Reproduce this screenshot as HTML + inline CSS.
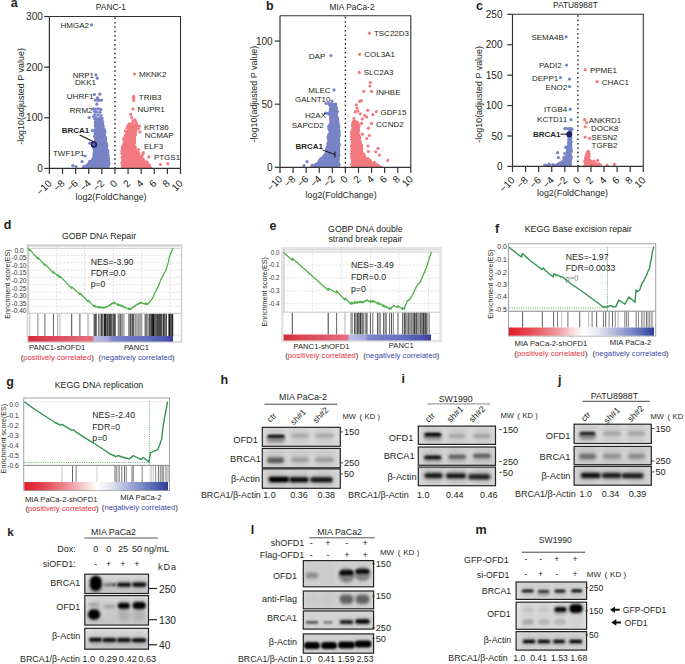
<!DOCTYPE html><html><head><meta charset="utf-8"><style>html,body{margin:0;padding:0;background:#fff;overflow:hidden}svg{display:block}</style></head><body><svg width="685" height="664" viewBox="0 0 685 664">
<defs><filter id="bl1" x="-50%" y="-100%" width="200%" height="300%"><feGaussianBlur stdDeviation="0.9"/></filter><filter id="bl2" x="-50%" y="-100%" width="200%" height="300%"><feGaussianBlur stdDeviation="1.6"/></filter><filter id="bl3" x="-50%" y="-100%" width="200%" height="300%"><feGaussianBlur stdDeviation="2.5"/></filter></defs>
<rect x="0.00" y="0.00" width="685.00" height="664.00" fill="#ffffff" stroke="none" stroke-width="1" />
<text x="10.80" y="7.20" font-size="12.5" text-anchor="start" fill="#231f20" font-weight="bold" font-family="Liberation Sans" >a</text>
<polygon points="95.20,120.00 94.70,124.50 94.70,130.50 94.00,136.50 94.20,142.50 93.20,149.50 93.20,155.50 89.20,162.00 82.20,167.00 80.20,168.90 109.60,168.90 109.60,167.00 109.20,162.00 108.80,155.50 108.10,149.50 107.10,142.50 106.10,136.50 105.10,130.50 103.60,124.50 102.60,120.00" fill="#7884c6"/>
<circle cx="96.17" cy="135.14" r="1.6" fill="#7884c6"/>
<circle cx="94.64" cy="150.94" r="1.6" fill="#7884c6"/>
<circle cx="98.90" cy="145.38" r="1.6" fill="#7884c6"/>
<circle cx="99.11" cy="122.30" r="1.6" fill="#7884c6"/>
<circle cx="98.52" cy="121.31" r="1.6" fill="#7884c6"/>
<circle cx="95.93" cy="122.87" r="1.6" fill="#7884c6"/>
<circle cx="104.32" cy="140.00" r="1.6" fill="#7884c6"/>
<circle cx="96.99" cy="125.48" r="1.6" fill="#7884c6"/>
<circle cx="107.05" cy="149.81" r="1.6" fill="#7884c6"/>
<circle cx="99.24" cy="147.37" r="1.6" fill="#7884c6"/>
<circle cx="83.69" cy="166.65" r="1.6" fill="#7884c6"/>
<circle cx="95.39" cy="160.96" r="1.6" fill="#7884c6"/>
<circle cx="96.13" cy="126.47" r="1.6" fill="#7884c6"/>
<circle cx="103.44" cy="134.40" r="1.6" fill="#7884c6"/>
<circle cx="100.43" cy="128.23" r="1.6" fill="#7884c6"/>
<circle cx="98.91" cy="150.36" r="1.6" fill="#7884c6"/>
<circle cx="94.87" cy="145.96" r="1.6" fill="#7884c6"/>
<circle cx="96.84" cy="122.38" r="1.6" fill="#7884c6"/>
<circle cx="99.80" cy="152.36" r="1.6" fill="#7884c6"/>
<circle cx="100.95" cy="134.67" r="1.6" fill="#7884c6"/>
<circle cx="98.18" cy="141.39" r="1.6" fill="#7884c6"/>
<circle cx="103.54" cy="157.87" r="1.6" fill="#7884c6"/>
<circle cx="100.67" cy="131.29" r="1.6" fill="#7884c6"/>
<circle cx="105.50" cy="144.87" r="1.6" fill="#7884c6"/>
<circle cx="97.85" cy="154.73" r="1.6" fill="#7884c6"/>
<circle cx="85.42" cy="166.84" r="1.6" fill="#7884c6"/>
<circle cx="103.45" cy="139.70" r="1.6" fill="#7884c6"/>
<circle cx="99.41" cy="126.84" r="1.6" fill="#7884c6"/>
<circle cx="100.22" cy="121.39" r="1.6" fill="#7884c6"/>
<circle cx="101.76" cy="156.43" r="1.6" fill="#7884c6"/>
<circle cx="95.36" cy="161.79" r="1.6" fill="#7884c6"/>
<circle cx="102.26" cy="153.08" r="1.6" fill="#7884c6"/>
<circle cx="100.05" cy="147.51" r="1.6" fill="#7884c6"/>
<circle cx="107.70" cy="160.07" r="1.6" fill="#7884c6"/>
<circle cx="102.65" cy="142.40" r="1.6" fill="#7884c6"/>
<circle cx="100.59" cy="122.43" r="1.6" fill="#7884c6"/>
<circle cx="107.81" cy="150.76" r="1.6" fill="#7884c6"/>
<circle cx="96.04" cy="159.20" r="1.6" fill="#7884c6"/>
<circle cx="102.22" cy="138.13" r="1.6" fill="#7884c6"/>
<circle cx="98.69" cy="120.59" r="1.6" fill="#7884c6"/>
<circle cx="96.15" cy="127.62" r="1.6" fill="#7884c6"/>
<circle cx="101.08" cy="122.35" r="1.6" fill="#7884c6"/>
<circle cx="97.21" cy="125.75" r="1.6" fill="#7884c6"/>
<circle cx="104.60" cy="138.38" r="1.6" fill="#7884c6"/>
<circle cx="98.71" cy="123.39" r="1.6" fill="#7884c6"/>
<circle cx="105.73" cy="146.04" r="1.6" fill="#7884c6"/>
<circle cx="106.26" cy="159.07" r="1.6" fill="#7884c6"/>
<circle cx="99.09" cy="132.95" r="1.6" fill="#7884c6"/>
<circle cx="104.52" cy="136.83" r="1.6" fill="#7884c6"/>
<circle cx="87.49" cy="165.76" r="1.6" fill="#7884c6"/>
<circle cx="97.21" cy="128.01" r="1.6" fill="#7884c6"/>
<circle cx="99.77" cy="130.77" r="1.6" fill="#7884c6"/>
<circle cx="97.38" cy="147.95" r="1.6" fill="#7884c6"/>
<circle cx="98.37" cy="119.70" r="1.6" fill="#7884c6"/>
<circle cx="100.94" cy="137.33" r="1.6" fill="#7884c6"/>
<circle cx="101.33" cy="165.53" r="1.6" fill="#7884c6"/>
<circle cx="102.15" cy="144.40" r="1.6" fill="#7884c6"/>
<circle cx="94.38" cy="152.16" r="1.6" fill="#7884c6"/>
<circle cx="104.22" cy="162.95" r="1.6" fill="#7884c6"/>
<circle cx="104.87" cy="161.74" r="1.6" fill="#7884c6"/>
<circle cx="99.12" cy="138.45" r="1.6" fill="#7884c6"/>
<circle cx="100.32" cy="124.50" r="1.6" fill="#7884c6"/>
<circle cx="95.78" cy="122.51" r="1.6" fill="#7884c6"/>
<circle cx="96.64" cy="129.58" r="1.6" fill="#7884c6"/>
<circle cx="95.00" cy="135.92" r="1.6" fill="#7884c6"/>
<circle cx="96.60" cy="119.51" r="1.6" fill="#7884c6"/>
<circle cx="98.08" cy="124.40" r="1.6" fill="#7884c6"/>
<circle cx="101.59" cy="120.73" r="1.6" fill="#7884c6"/>
<circle cx="95.70" cy="149.16" r="1.6" fill="#7884c6"/>
<circle cx="98.40" cy="131.68" r="1.6" fill="#7884c6"/>
<circle cx="95.84" cy="137.09" r="1.6" fill="#7884c6"/>
<circle cx="108.61" cy="160.50" r="1.6" fill="#7884c6"/>
<circle cx="100.45" cy="142.01" r="1.6" fill="#7884c6"/>
<circle cx="95.95" cy="123.65" r="1.6" fill="#7884c6"/>
<circle cx="97.40" cy="136.05" r="1.6" fill="#7884c6"/>
<circle cx="93.69" cy="159.53" r="1.6" fill="#7884c6"/>
<circle cx="102.11" cy="120.62" r="1.6" fill="#7884c6"/>
<circle cx="96.07" cy="145.01" r="1.6" fill="#7884c6"/>
<circle cx="94.42" cy="145.74" r="1.6" fill="#7884c6"/>
<circle cx="106.85" cy="145.01" r="1.6" fill="#7884c6"/>
<circle cx="103.01" cy="161.20" r="1.6" fill="#7884c6"/>
<circle cx="98.59" cy="132.11" r="1.6" fill="#7884c6"/>
<circle cx="102.04" cy="127.57" r="1.6" fill="#7884c6"/>
<circle cx="104.28" cy="145.22" r="1.6" fill="#7884c6"/>
<circle cx="96.95" cy="135.42" r="1.6" fill="#7884c6"/>
<circle cx="108.37" cy="158.70" r="1.6" fill="#7884c6"/>
<circle cx="105.13" cy="160.68" r="1.6" fill="#7884c6"/>
<circle cx="104.09" cy="159.03" r="1.6" fill="#7884c6"/>
<circle cx="100.08" cy="130.45" r="1.6" fill="#7884c6"/>
<circle cx="94.75" cy="136.67" r="1.6" fill="#7884c6"/>
<circle cx="97.42" cy="120.85" r="1.6" fill="#7884c6"/>
<circle cx="101.91" cy="132.02" r="1.6" fill="#7884c6"/>
<circle cx="95.09" cy="165.70" r="1.6" fill="#7884c6"/>
<circle cx="108.77" cy="164.76" r="1.6" fill="#7884c6"/>
<circle cx="93.05" cy="165.63" r="1.6" fill="#7884c6"/>
<circle cx="97.27" cy="130.15" r="1.6" fill="#7884c6"/>
<circle cx="97.01" cy="129.00" r="1.6" fill="#7884c6"/>
<circle cx="106.36" cy="149.64" r="1.6" fill="#7884c6"/>
<circle cx="99.22" cy="160.09" r="1.6" fill="#7884c6"/>
<circle cx="105.07" cy="151.04" r="1.6" fill="#7884c6"/>
<circle cx="100.41" cy="123.59" r="1.6" fill="#7884c6"/>
<circle cx="104.15" cy="163.44" r="1.6" fill="#7884c6"/>
<circle cx="100.46" cy="155.73" r="1.6" fill="#7884c6"/>
<circle cx="102.31" cy="128.12" r="1.6" fill="#7884c6"/>
<circle cx="103.40" cy="135.56" r="1.6" fill="#7884c6"/>
<circle cx="93.19" cy="166.43" r="1.6" fill="#7884c6"/>
<circle cx="105.56" cy="138.89" r="1.6" fill="#7884c6"/>
<circle cx="96.11" cy="154.51" r="1.6" fill="#7884c6"/>
<circle cx="96.39" cy="125.64" r="1.6" fill="#7884c6"/>
<circle cx="104.73" cy="163.20" r="1.6" fill="#7884c6"/>
<circle cx="102.32" cy="126.56" r="1.6" fill="#7884c6"/>
<circle cx="99.96" cy="166.85" r="1.6" fill="#7884c6"/>
<circle cx="100.65" cy="136.42" r="1.6" fill="#7884c6"/>
<circle cx="95.22" cy="125.83" r="1.6" fill="#7884c6"/>
<circle cx="99.93" cy="166.39" r="1.6" fill="#7884c6"/>
<circle cx="106.26" cy="144.93" r="1.6" fill="#7884c6"/>
<circle cx="104.92" cy="140.45" r="1.6" fill="#7884c6"/>
<circle cx="94.64" cy="159.40" r="1.6" fill="#7884c6"/>
<circle cx="97.86" cy="131.66" r="1.6" fill="#7884c6"/>
<circle cx="100.79" cy="131.12" r="1.6" fill="#7884c6"/>
<circle cx="99.13" cy="132.03" r="1.6" fill="#7884c6"/>
<circle cx="102.89" cy="125.83" r="1.6" fill="#7884c6"/>
<circle cx="99.63" cy="136.59" r="1.6" fill="#7884c6"/>
<circle cx="106.20" cy="147.68" r="1.6" fill="#7884c6"/>
<circle cx="105.36" cy="139.82" r="1.6" fill="#7884c6"/>
<circle cx="101.05" cy="143.73" r="1.6" fill="#7884c6"/>
<circle cx="94.44" cy="144.79" r="1.6" fill="#7884c6"/>
<circle cx="96.74" cy="140.76" r="1.6" fill="#7884c6"/>
<circle cx="100.90" cy="119.69" r="1.6" fill="#7884c6"/>
<circle cx="99.39" cy="127.82" r="1.6" fill="#7884c6"/>
<circle cx="101.81" cy="154.53" r="1.6" fill="#7884c6"/>
<circle cx="100.23" cy="135.24" r="1.6" fill="#7884c6"/>
<circle cx="104.44" cy="146.33" r="1.6" fill="#7884c6"/>
<circle cx="99.73" cy="124.63" r="1.6" fill="#7884c6"/>
<circle cx="97.70" cy="131.50" r="1.6" fill="#7884c6"/>
<circle cx="100.63" cy="156.80" r="1.6" fill="#7884c6"/>
<circle cx="104.14" cy="146.63" r="1.6" fill="#7884c6"/>
<circle cx="96.57" cy="163.57" r="1.6" fill="#7884c6"/>
<circle cx="100.73" cy="149.09" r="1.6" fill="#7884c6"/>
<circle cx="103.11" cy="144.24" r="1.6" fill="#7884c6"/>
<circle cx="100.98" cy="141.35" r="1.6" fill="#7884c6"/>
<circle cx="106.07" cy="142.59" r="1.6" fill="#7884c6"/>
<circle cx="106.40" cy="153.27" r="1.6" fill="#7884c6"/>
<circle cx="91.02" cy="165.01" r="1.6" fill="#7884c6"/>
<circle cx="106.59" cy="146.52" r="1.6" fill="#7884c6"/>
<circle cx="92.98" cy="160.07" r="1.6" fill="#7884c6"/>
<circle cx="98.83" cy="125.37" r="1.6" fill="#7884c6"/>
<circle cx="97.08" cy="123.00" r="1.6" fill="#7884c6"/>
<circle cx="100.41" cy="123.03" r="1.6" fill="#7884c6"/>
<circle cx="106.86" cy="157.36" r="1.6" fill="#7884c6"/>
<circle cx="101.43" cy="126.96" r="1.6" fill="#7884c6"/>
<circle cx="95.66" cy="151.39" r="1.6" fill="#7884c6"/>
<circle cx="108.20" cy="162.14" r="1.6" fill="#7884c6"/>
<circle cx="104.26" cy="130.11" r="1.6" fill="#7884c6"/>
<circle cx="100.17" cy="138.74" r="1.6" fill="#7884c6"/>
<circle cx="104.60" cy="167.31" r="1.6" fill="#7884c6"/>
<circle cx="98.95" cy="127.30" r="1.6" fill="#7884c6"/>
<circle cx="98.59" cy="144.40" r="1.6" fill="#7884c6"/>
<circle cx="98.07" cy="128.95" r="1.6" fill="#7884c6"/>
<circle cx="93.89" cy="154.38" r="1.6" fill="#7884c6"/>
<circle cx="99.86" cy="146.26" r="1.6" fill="#7884c6"/>
<circle cx="97.79" cy="120.37" r="1.6" fill="#7884c6"/>
<circle cx="100.86" cy="149.64" r="1.6" fill="#7884c6"/>
<circle cx="102.78" cy="122.61" r="1.6" fill="#7884c6"/>
<circle cx="108.09" cy="157.58" r="1.6" fill="#7884c6"/>
<circle cx="97.29" cy="124.56" r="1.6" fill="#7884c6"/>
<circle cx="101.03" cy="121.41" r="1.6" fill="#7884c6"/>
<circle cx="96.14" cy="132.56" r="1.6" fill="#7884c6"/>
<circle cx="105.30" cy="139.89" r="1.6" fill="#7884c6"/>
<circle cx="95.64" cy="159.06" r="1.6" fill="#7884c6"/>
<circle cx="103.17" cy="126.71" r="1.6" fill="#7884c6"/>
<circle cx="103.36" cy="147.06" r="1.6" fill="#7884c6"/>
<circle cx="95.58" cy="123.82" r="1.6" fill="#7884c6"/>
<circle cx="99.78" cy="152.74" r="1.6" fill="#7884c6"/>
<circle cx="102.50" cy="123.00" r="1.6" fill="#7884c6"/>
<circle cx="105.01" cy="150.14" r="1.6" fill="#7884c6"/>
<circle cx="101.96" cy="123.54" r="1.6" fill="#7884c6"/>
<circle cx="101.86" cy="122.72" r="1.6" fill="#7884c6"/>
<circle cx="98.66" cy="141.42" r="1.6" fill="#7884c6"/>
<circle cx="106.33" cy="146.21" r="1.6" fill="#7884c6"/>
<circle cx="96.15" cy="132.44" r="1.6" fill="#7884c6"/>
<circle cx="97.26" cy="144.95" r="1.6" fill="#7884c6"/>
<circle cx="96.44" cy="124.79" r="1.6" fill="#7884c6"/>
<circle cx="96.82" cy="121.93" r="1.6" fill="#7884c6"/>
<circle cx="97.89" cy="134.57" r="1.6" fill="#7884c6"/>
<circle cx="97.40" cy="156.18" r="1.6" fill="#7884c6"/>
<circle cx="96.60" cy="143.65" r="1.6" fill="#7884c6"/>
<circle cx="94.61" cy="136.26" r="1.6" fill="#7884c6"/>
<circle cx="95.07" cy="131.60" r="1.6" fill="#7884c6"/>
<circle cx="101.75" cy="154.91" r="1.6" fill="#7884c6"/>
<circle cx="99.50" cy="128.65" r="1.6" fill="#7884c6"/>
<circle cx="87.73" cy="164.64" r="1.6" fill="#7884c6"/>
<circle cx="98.69" cy="159.05" r="1.6" fill="#7884c6"/>
<circle cx="104.83" cy="143.41" r="1.6" fill="#7884c6"/>
<circle cx="100.38" cy="138.49" r="1.6" fill="#7884c6"/>
<circle cx="107.88" cy="152.72" r="1.6" fill="#7884c6"/>
<circle cx="103.81" cy="136.05" r="1.6" fill="#7884c6"/>
<circle cx="102.91" cy="153.63" r="1.6" fill="#7884c6"/>
<circle cx="98.57" cy="139.05" r="1.6" fill="#7884c6"/>
<circle cx="96.28" cy="122.13" r="1.6" fill="#7884c6"/>
<circle cx="100.95" cy="122.92" r="1.6" fill="#7884c6"/>
<circle cx="96.54" cy="131.85" r="1.6" fill="#7884c6"/>
<circle cx="101.84" cy="123.58" r="1.6" fill="#7884c6"/>
<circle cx="102.46" cy="161.55" r="1.6" fill="#7884c6"/>
<circle cx="97.28" cy="133.12" r="1.6" fill="#7884c6"/>
<circle cx="99.56" cy="133.65" r="1.6" fill="#7884c6"/>
<circle cx="99.06" cy="127.11" r="1.6" fill="#7884c6"/>
<circle cx="104.68" cy="132.21" r="1.6" fill="#7884c6"/>
<circle cx="97.17" cy="166.48" r="1.6" fill="#7884c6"/>
<circle cx="104.58" cy="131.31" r="1.6" fill="#7884c6"/>
<circle cx="98.45" cy="134.45" r="1.6" fill="#7884c6"/>
<circle cx="98.12" cy="119.55" r="1.6" fill="#7884c6"/>
<circle cx="100.68" cy="142.43" r="1.6" fill="#7884c6"/>
<circle cx="99.85" cy="129.21" r="1.6" fill="#7884c6"/>
<circle cx="97.34" cy="119.74" r="1.6" fill="#7884c6"/>
<circle cx="98.33" cy="123.84" r="1.6" fill="#7884c6"/>
<circle cx="95.54" cy="121.51" r="1.6" fill="#7884c6"/>
<circle cx="97.12" cy="134.20" r="1.6" fill="#7884c6"/>
<circle cx="101.05" cy="147.78" r="1.6" fill="#7884c6"/>
<circle cx="103.20" cy="155.75" r="1.6" fill="#7884c6"/>
<circle cx="106.52" cy="154.08" r="1.6" fill="#7884c6"/>
<circle cx="98.26" cy="138.31" r="1.6" fill="#7884c6"/>
<circle cx="86.07" cy="167.06" r="1.6" fill="#7884c6"/>
<circle cx="103.08" cy="154.48" r="1.6" fill="#7884c6"/>
<circle cx="101.47" cy="121.61" r="1.6" fill="#7884c6"/>
<circle cx="101.14" cy="162.58" r="1.6" fill="#7884c6"/>
<circle cx="105.62" cy="154.95" r="1.6" fill="#7884c6"/>
<circle cx="99.63" cy="126.23" r="1.6" fill="#7884c6"/>
<circle cx="104.88" cy="143.86" r="1.6" fill="#7884c6"/>
<circle cx="105.64" cy="158.37" r="1.6" fill="#7884c6"/>
<circle cx="106.04" cy="147.71" r="1.6" fill="#7884c6"/>
<circle cx="103.66" cy="152.48" r="1.6" fill="#7884c6"/>
<circle cx="95.33" cy="130.61" r="1.6" fill="#7884c6"/>
<circle cx="98.20" cy="125.93" r="1.6" fill="#7884c6"/>
<circle cx="101.99" cy="124.57" r="1.6" fill="#7884c6"/>
<circle cx="102.36" cy="146.48" r="1.6" fill="#7884c6"/>
<circle cx="103.26" cy="149.75" r="1.6" fill="#7884c6"/>
<circle cx="94.48" cy="143.13" r="1.6" fill="#7884c6"/>
<circle cx="104.34" cy="158.03" r="1.6" fill="#7884c6"/>
<circle cx="101.09" cy="143.79" r="1.6" fill="#7884c6"/>
<circle cx="94.55" cy="151.34" r="1.6" fill="#7884c6"/>
<circle cx="97.29" cy="155.09" r="1.6" fill="#7884c6"/>
<circle cx="97.27" cy="123.10" r="1.6" fill="#7884c6"/>
<circle cx="96.63" cy="154.73" r="1.6" fill="#7884c6"/>
<circle cx="108.05" cy="155.23" r="1.6" fill="#7884c6"/>
<circle cx="99.18" cy="143.36" r="1.6" fill="#7884c6"/>
<circle cx="102.91" cy="142.64" r="1.6" fill="#7884c6"/>
<circle cx="102.43" cy="156.54" r="1.6" fill="#7884c6"/>
<circle cx="94.71" cy="150.55" r="1.6" fill="#7884c6"/>
<circle cx="97.32" cy="126.62" r="1.6" fill="#7884c6"/>
<circle cx="97.94" cy="155.40" r="1.6" fill="#7884c6"/>
<circle cx="94.07" cy="146.92" r="1.6" fill="#7884c6"/>
<circle cx="97.31" cy="122.43" r="1.6" fill="#7884c6"/>
<circle cx="103.60" cy="151.96" r="1.6" fill="#7884c6"/>
<circle cx="97.81" cy="152.14" r="1.6" fill="#7884c6"/>
<circle cx="100.20" cy="144.45" r="1.6" fill="#7884c6"/>
<circle cx="96.03" cy="142.02" r="1.6" fill="#7884c6"/>
<circle cx="92.14" cy="162.66" r="1.6" fill="#7884c6"/>
<circle cx="107.49" cy="166.74" r="1.6" fill="#7884c6"/>
<circle cx="98.66" cy="120.35" r="1.6" fill="#7884c6"/>
<circle cx="108.09" cy="159.10" r="1.6" fill="#7884c6"/>
<circle cx="97.80" cy="141.21" r="1.6" fill="#7884c6"/>
<circle cx="104.09" cy="129.64" r="1.6" fill="#7884c6"/>
<circle cx="100.64" cy="129.68" r="1.6" fill="#7884c6"/>
<circle cx="99.65" cy="126.35" r="1.6" fill="#7884c6"/>
<circle cx="87.31" cy="165.52" r="1.6" fill="#7884c6"/>
<circle cx="100.01" cy="159.12" r="1.6" fill="#7884c6"/>
<circle cx="102.80" cy="162.34" r="1.6" fill="#7884c6"/>
<circle cx="103.81" cy="130.68" r="1.6" fill="#7884c6"/>
<circle cx="94.77" cy="142.98" r="1.6" fill="#7884c6"/>
<circle cx="98.85" cy="119.67" r="1.6" fill="#7884c6"/>
<circle cx="98.20" cy="141.27" r="1.6" fill="#7884c6"/>
<circle cx="98.08" cy="126.30" r="1.6" fill="#7884c6"/>
<circle cx="103.74" cy="134.77" r="1.6" fill="#7884c6"/>
<circle cx="100.57" cy="119.58" r="1.6" fill="#7884c6"/>
<circle cx="92.69" cy="160.03" r="1.6" fill="#7884c6"/>
<circle cx="102.34" cy="164.25" r="1.6" fill="#7884c6"/>
<circle cx="93.66" cy="163.05" r="1.6" fill="#7884c6"/>
<circle cx="98.97" cy="137.48" r="1.6" fill="#7884c6"/>
<circle cx="97.74" cy="167.74" r="1.6" fill="#7884c6"/>
<circle cx="99.32" cy="136.92" r="1.6" fill="#7884c6"/>
<circle cx="95.28" cy="132.79" r="1.6" fill="#7884c6"/>
<circle cx="101.95" cy="124.41" r="1.6" fill="#7884c6"/>
<circle cx="104.57" cy="133.30" r="1.6" fill="#7884c6"/>
<circle cx="97.59" cy="131.54" r="1.6" fill="#7884c6"/>
<circle cx="96.70" cy="144.18" r="1.6" fill="#7884c6"/>
<circle cx="105.45" cy="137.53" r="1.6" fill="#7884c6"/>
<circle cx="105.05" cy="162.21" r="1.6" fill="#7884c6"/>
<circle cx="106.58" cy="149.97" r="1.6" fill="#7884c6"/>
<circle cx="98.13" cy="164.94" r="1.6" fill="#7884c6"/>
<circle cx="94.33" cy="154.26" r="1.6" fill="#7884c6"/>
<circle cx="100.27" cy="154.87" r="1.6" fill="#7884c6"/>
<circle cx="102.99" cy="155.85" r="1.6" fill="#7884c6"/>
<circle cx="95.23" cy="133.32" r="1.6" fill="#7884c6"/>
<circle cx="88.70" cy="164.26" r="1.6" fill="#7884c6"/>
<circle cx="98.74" cy="142.31" r="1.6" fill="#7884c6"/>
<circle cx="102.55" cy="133.88" r="1.6" fill="#7884c6"/>
<circle cx="89.40" cy="166.66" r="1.6" fill="#7884c6"/>
<circle cx="97.92" cy="151.18" r="1.6" fill="#7884c6"/>
<circle cx="99.24" cy="146.42" r="1.6" fill="#7884c6"/>
<circle cx="96.55" cy="127.58" r="1.6" fill="#7884c6"/>
<circle cx="103.69" cy="129.54" r="1.6" fill="#7884c6"/>
<circle cx="97.14" cy="143.51" r="1.6" fill="#7884c6"/>
<circle cx="108.86" cy="163.27" r="1.6" fill="#7884c6"/>
<circle cx="96.25" cy="141.23" r="1.6" fill="#7884c6"/>
<circle cx="95.94" cy="128.79" r="1.6" fill="#7884c6"/>
<circle cx="95.43" cy="136.02" r="1.6" fill="#7884c6"/>
<circle cx="97.53" cy="131.05" r="1.6" fill="#7884c6"/>
<circle cx="105.89" cy="147.01" r="1.6" fill="#7884c6"/>
<circle cx="99.47" cy="155.71" r="1.6" fill="#7884c6"/>
<circle cx="100.68" cy="139.49" r="1.6" fill="#7884c6"/>
<circle cx="98.36" cy="137.70" r="1.6" fill="#7884c6"/>
<circle cx="97.38" cy="122.50" r="1.6" fill="#7884c6"/>
<circle cx="86.26" cy="166.24" r="1.6" fill="#7884c6"/>
<circle cx="102.29" cy="143.81" r="1.6" fill="#7884c6"/>
<circle cx="93.90" cy="161.18" r="1.6" fill="#7884c6"/>
<circle cx="97.37" cy="132.59" r="1.6" fill="#7884c6"/>
<circle cx="99.70" cy="138.81" r="1.6" fill="#7884c6"/>
<circle cx="105.31" cy="165.58" r="1.6" fill="#7884c6"/>
<circle cx="89.80" cy="161.66" r="1.6" fill="#7884c6"/>
<circle cx="100.48" cy="121.06" r="1.6" fill="#7884c6"/>
<circle cx="97.80" cy="162.76" r="1.6" fill="#7884c6"/>
<circle cx="93.77" cy="147.86" r="1.6" fill="#7884c6"/>
<circle cx="105.25" cy="138.41" r="1.6" fill="#7884c6"/>
<circle cx="106.10" cy="159.38" r="1.6" fill="#7884c6"/>
<circle cx="89.25" cy="166.46" r="1.6" fill="#7884c6"/>
<circle cx="96.38" cy="124.77" r="1.6" fill="#7884c6"/>
<circle cx="103.00" cy="144.73" r="1.6" fill="#7884c6"/>
<circle cx="102.30" cy="164.97" r="1.6" fill="#7884c6"/>
<circle cx="104.54" cy="150.77" r="1.6" fill="#7884c6"/>
<circle cx="101.23" cy="141.59" r="1.6" fill="#7884c6"/>
<circle cx="101.05" cy="121.41" r="1.6" fill="#7884c6"/>
<circle cx="91.40" cy="24.80" r="1.6" fill="#7884c6"/>
<circle cx="95.90" cy="74.90" r="1.6" fill="#7884c6"/>
<circle cx="97.30" cy="78.20" r="1.6" fill="#7884c6"/>
<circle cx="94.30" cy="94.60" r="1.6" fill="#7884c6"/>
<circle cx="99.80" cy="94.20" r="1.6" fill="#7884c6"/>
<circle cx="97.50" cy="97.80" r="1.6" fill="#7884c6"/>
<circle cx="95.50" cy="100.10" r="1.6" fill="#7884c6"/>
<circle cx="97.50" cy="100.10" r="1.6" fill="#7884c6"/>
<circle cx="99.50" cy="100.30" r="1.6" fill="#7884c6"/>
<circle cx="101.50" cy="100.10" r="1.6" fill="#7884c6"/>
<circle cx="96.90" cy="104.20" r="1.6" fill="#7884c6"/>
<circle cx="93.50" cy="109.00" r="1.6" fill="#7884c6"/>
<circle cx="95.50" cy="109.00" r="1.6" fill="#7884c6"/>
<circle cx="97.50" cy="108.80" r="1.6" fill="#7884c6"/>
<circle cx="99.50" cy="109.00" r="1.6" fill="#7884c6"/>
<circle cx="101.00" cy="109.50" r="1.6" fill="#7884c6"/>
<circle cx="94.50" cy="111.50" r="1.6" fill="#7884c6"/>
<circle cx="97.00" cy="112.00" r="1.6" fill="#7884c6"/>
<circle cx="100.00" cy="112.30" r="1.6" fill="#7884c6"/>
<circle cx="95.00" cy="114.50" r="1.6" fill="#7884c6"/>
<circle cx="98.00" cy="115.00" r="1.6" fill="#7884c6"/>
<circle cx="101.00" cy="115.50" r="1.6" fill="#7884c6"/>
<circle cx="93.50" cy="116.50" r="1.6" fill="#7884c6"/>
<circle cx="96.00" cy="117.50" r="1.6" fill="#7884c6"/>
<circle cx="99.50" cy="118.00" r="1.6" fill="#7884c6"/>
<circle cx="102.00" cy="118.30" r="1.6" fill="#7884c6"/>
<circle cx="94.80" cy="119.00" r="1.6" fill="#7884c6"/>
<circle cx="97.80" cy="119.50" r="1.6" fill="#7884c6"/>
<circle cx="101.00" cy="120.00" r="1.6" fill="#7884c6"/>
<circle cx="89.20" cy="117.60" r="1.6" fill="#7884c6"/>
<circle cx="92.40" cy="130.40" r="1.6" fill="#7884c6"/>
<circle cx="89.80" cy="143.20" r="1.6" fill="#7884c6"/>
<circle cx="85.10" cy="156.00" r="1.6" fill="#7884c6"/>
<circle cx="82.10" cy="161.70" r="1.6" fill="#7884c6"/>
<circle cx="89.80" cy="161.70" r="1.6" fill="#7884c6"/>
<circle cx="72.80" cy="165.60" r="1.6" fill="#7884c6"/>
<circle cx="76.00" cy="166.50" r="1.6" fill="#7884c6"/>
<polygon points="129.20,126.50 128.20,130.50 125.20,134.90 123.20,139.70 122.20,144.50 121.20,149.50 121.20,154.50 121.20,159.50 121.20,164.20 121.20,168.90 153.80,168.90 148.80,164.20 143.80,159.50 139.80,154.50 136.80,149.50 135.30,144.50 135.30,139.70 135.80,134.90 136.30,130.50 136.80,126.50" fill="#f27a7f"/>
<circle cx="134.44" cy="135.72" r="1.6" fill="#f27a7f"/>
<circle cx="126.82" cy="152.98" r="1.6" fill="#f27a7f"/>
<circle cx="129.71" cy="131.35" r="1.6" fill="#f27a7f"/>
<circle cx="133.45" cy="152.60" r="1.6" fill="#f27a7f"/>
<circle cx="128.67" cy="130.69" r="1.6" fill="#f27a7f"/>
<circle cx="130.13" cy="147.92" r="1.6" fill="#f27a7f"/>
<circle cx="125.64" cy="142.22" r="1.6" fill="#f27a7f"/>
<circle cx="121.77" cy="151.12" r="1.6" fill="#f27a7f"/>
<circle cx="128.97" cy="138.60" r="1.6" fill="#f27a7f"/>
<circle cx="140.51" cy="166.08" r="1.6" fill="#f27a7f"/>
<circle cx="133.95" cy="162.94" r="1.6" fill="#f27a7f"/>
<circle cx="127.54" cy="135.81" r="1.6" fill="#f27a7f"/>
<circle cx="142.32" cy="166.15" r="1.6" fill="#f27a7f"/>
<circle cx="123.99" cy="138.85" r="1.6" fill="#f27a7f"/>
<circle cx="131.28" cy="146.83" r="1.6" fill="#f27a7f"/>
<circle cx="125.83" cy="143.56" r="1.6" fill="#f27a7f"/>
<circle cx="138.01" cy="153.90" r="1.6" fill="#f27a7f"/>
<circle cx="125.50" cy="135.48" r="1.6" fill="#f27a7f"/>
<circle cx="128.24" cy="140.13" r="1.6" fill="#f27a7f"/>
<circle cx="125.21" cy="154.53" r="1.6" fill="#f27a7f"/>
<circle cx="137.96" cy="159.32" r="1.6" fill="#f27a7f"/>
<circle cx="124.82" cy="147.10" r="1.6" fill="#f27a7f"/>
<circle cx="130.90" cy="166.54" r="1.6" fill="#f27a7f"/>
<circle cx="126.94" cy="160.28" r="1.6" fill="#f27a7f"/>
<circle cx="132.90" cy="135.26" r="1.6" fill="#f27a7f"/>
<circle cx="134.46" cy="138.33" r="1.6" fill="#f27a7f"/>
<circle cx="124.61" cy="146.72" r="1.6" fill="#f27a7f"/>
<circle cx="129.42" cy="135.33" r="1.6" fill="#f27a7f"/>
<circle cx="138.38" cy="153.81" r="1.6" fill="#f27a7f"/>
<circle cx="130.50" cy="132.12" r="1.6" fill="#f27a7f"/>
<circle cx="135.09" cy="134.90" r="1.6" fill="#f27a7f"/>
<circle cx="127.72" cy="131.93" r="1.6" fill="#f27a7f"/>
<circle cx="131.77" cy="128.51" r="1.6" fill="#f27a7f"/>
<circle cx="145.13" cy="163.54" r="1.6" fill="#f27a7f"/>
<circle cx="141.45" cy="156.63" r="1.6" fill="#f27a7f"/>
<circle cx="130.86" cy="164.94" r="1.6" fill="#f27a7f"/>
<circle cx="134.87" cy="133.75" r="1.6" fill="#f27a7f"/>
<circle cx="122.25" cy="157.20" r="1.6" fill="#f27a7f"/>
<circle cx="128.29" cy="153.77" r="1.6" fill="#f27a7f"/>
<circle cx="127.01" cy="141.63" r="1.6" fill="#f27a7f"/>
<circle cx="126.53" cy="133.08" r="1.6" fill="#f27a7f"/>
<circle cx="128.03" cy="137.70" r="1.6" fill="#f27a7f"/>
<circle cx="125.21" cy="165.94" r="1.6" fill="#f27a7f"/>
<circle cx="127.73" cy="166.31" r="1.6" fill="#f27a7f"/>
<circle cx="132.82" cy="140.91" r="1.6" fill="#f27a7f"/>
<circle cx="131.65" cy="160.36" r="1.6" fill="#f27a7f"/>
<circle cx="132.43" cy="128.06" r="1.6" fill="#f27a7f"/>
<circle cx="133.95" cy="141.58" r="1.6" fill="#f27a7f"/>
<circle cx="129.33" cy="134.07" r="1.6" fill="#f27a7f"/>
<circle cx="122.40" cy="163.49" r="1.6" fill="#f27a7f"/>
<circle cx="132.62" cy="143.17" r="1.6" fill="#f27a7f"/>
<circle cx="122.46" cy="158.05" r="1.6" fill="#f27a7f"/>
<circle cx="129.67" cy="127.46" r="1.6" fill="#f27a7f"/>
<circle cx="128.70" cy="164.46" r="1.6" fill="#f27a7f"/>
<circle cx="139.92" cy="157.24" r="1.6" fill="#f27a7f"/>
<circle cx="126.53" cy="140.17" r="1.6" fill="#f27a7f"/>
<circle cx="139.67" cy="166.03" r="1.6" fill="#f27a7f"/>
<circle cx="132.13" cy="136.96" r="1.6" fill="#f27a7f"/>
<circle cx="126.71" cy="139.23" r="1.6" fill="#f27a7f"/>
<circle cx="134.71" cy="126.16" r="1.6" fill="#f27a7f"/>
<circle cx="139.00" cy="164.31" r="1.6" fill="#f27a7f"/>
<circle cx="122.29" cy="165.43" r="1.6" fill="#f27a7f"/>
<circle cx="129.89" cy="135.78" r="1.6" fill="#f27a7f"/>
<circle cx="149.49" cy="165.99" r="1.6" fill="#f27a7f"/>
<circle cx="125.98" cy="142.16" r="1.6" fill="#f27a7f"/>
<circle cx="128.67" cy="143.97" r="1.6" fill="#f27a7f"/>
<circle cx="126.72" cy="164.79" r="1.6" fill="#f27a7f"/>
<circle cx="138.13" cy="159.55" r="1.6" fill="#f27a7f"/>
<circle cx="139.59" cy="160.39" r="1.6" fill="#f27a7f"/>
<circle cx="126.92" cy="151.38" r="1.6" fill="#f27a7f"/>
<circle cx="127.67" cy="139.36" r="1.6" fill="#f27a7f"/>
<circle cx="123.30" cy="158.70" r="1.6" fill="#f27a7f"/>
<circle cx="133.02" cy="134.25" r="1.6" fill="#f27a7f"/>
<circle cx="125.47" cy="136.34" r="1.6" fill="#f27a7f"/>
<circle cx="133.10" cy="127.42" r="1.6" fill="#f27a7f"/>
<circle cx="134.68" cy="139.62" r="1.6" fill="#f27a7f"/>
<circle cx="147.26" cy="162.93" r="1.6" fill="#f27a7f"/>
<circle cx="125.38" cy="137.07" r="1.6" fill="#f27a7f"/>
<circle cx="132.23" cy="130.03" r="1.6" fill="#f27a7f"/>
<circle cx="130.15" cy="155.67" r="1.6" fill="#f27a7f"/>
<circle cx="129.29" cy="135.79" r="1.6" fill="#f27a7f"/>
<circle cx="132.76" cy="151.93" r="1.6" fill="#f27a7f"/>
<circle cx="138.89" cy="157.27" r="1.6" fill="#f27a7f"/>
<circle cx="123.74" cy="153.77" r="1.6" fill="#f27a7f"/>
<circle cx="128.68" cy="161.15" r="1.6" fill="#f27a7f"/>
<circle cx="127.28" cy="149.70" r="1.6" fill="#f27a7f"/>
<circle cx="125.60" cy="156.85" r="1.6" fill="#f27a7f"/>
<circle cx="127.34" cy="136.34" r="1.6" fill="#f27a7f"/>
<circle cx="134.62" cy="132.41" r="1.6" fill="#f27a7f"/>
<circle cx="126.66" cy="150.17" r="1.6" fill="#f27a7f"/>
<circle cx="134.81" cy="142.56" r="1.6" fill="#f27a7f"/>
<circle cx="125.18" cy="147.21" r="1.6" fill="#f27a7f"/>
<circle cx="136.39" cy="159.79" r="1.6" fill="#f27a7f"/>
<circle cx="124.75" cy="167.42" r="1.6" fill="#f27a7f"/>
<circle cx="133.06" cy="145.85" r="1.6" fill="#f27a7f"/>
<circle cx="143.61" cy="161.14" r="1.6" fill="#f27a7f"/>
<circle cx="131.24" cy="127.69" r="1.6" fill="#f27a7f"/>
<circle cx="129.42" cy="130.98" r="1.6" fill="#f27a7f"/>
<circle cx="139.07" cy="166.67" r="1.6" fill="#f27a7f"/>
<circle cx="132.04" cy="164.88" r="1.6" fill="#f27a7f"/>
<circle cx="132.92" cy="162.20" r="1.6" fill="#f27a7f"/>
<circle cx="132.79" cy="136.87" r="1.6" fill="#f27a7f"/>
<circle cx="124.64" cy="165.53" r="1.6" fill="#f27a7f"/>
<circle cx="131.49" cy="150.92" r="1.6" fill="#f27a7f"/>
<circle cx="129.00" cy="135.10" r="1.6" fill="#f27a7f"/>
<circle cx="129.01" cy="131.91" r="1.6" fill="#f27a7f"/>
<circle cx="130.96" cy="136.66" r="1.6" fill="#f27a7f"/>
<circle cx="125.13" cy="153.24" r="1.6" fill="#f27a7f"/>
<circle cx="131.73" cy="126.48" r="1.6" fill="#f27a7f"/>
<circle cx="124.95" cy="154.35" r="1.6" fill="#f27a7f"/>
<circle cx="125.95" cy="139.05" r="1.6" fill="#f27a7f"/>
<circle cx="133.69" cy="159.24" r="1.6" fill="#f27a7f"/>
<circle cx="129.66" cy="128.64" r="1.6" fill="#f27a7f"/>
<circle cx="129.51" cy="142.52" r="1.6" fill="#f27a7f"/>
<circle cx="123.15" cy="152.72" r="1.6" fill="#f27a7f"/>
<circle cx="132.86" cy="132.84" r="1.6" fill="#f27a7f"/>
<circle cx="126.21" cy="143.13" r="1.6" fill="#f27a7f"/>
<circle cx="134.41" cy="138.86" r="1.6" fill="#f27a7f"/>
<circle cx="130.04" cy="139.06" r="1.6" fill="#f27a7f"/>
<circle cx="128.10" cy="140.93" r="1.6" fill="#f27a7f"/>
<circle cx="146.64" cy="162.13" r="1.6" fill="#f27a7f"/>
<circle cx="125.49" cy="141.21" r="1.6" fill="#f27a7f"/>
<circle cx="125.62" cy="156.43" r="1.6" fill="#f27a7f"/>
<circle cx="135.70" cy="126.25" r="1.6" fill="#f27a7f"/>
<circle cx="132.70" cy="143.71" r="1.6" fill="#f27a7f"/>
<circle cx="133.48" cy="142.98" r="1.6" fill="#f27a7f"/>
<circle cx="124.45" cy="145.27" r="1.6" fill="#f27a7f"/>
<circle cx="133.24" cy="126.62" r="1.6" fill="#f27a7f"/>
<circle cx="137.13" cy="152.78" r="1.6" fill="#f27a7f"/>
<circle cx="133.19" cy="129.72" r="1.6" fill="#f27a7f"/>
<circle cx="129.06" cy="141.50" r="1.6" fill="#f27a7f"/>
<circle cx="129.58" cy="132.10" r="1.6" fill="#f27a7f"/>
<circle cx="134.98" cy="147.78" r="1.6" fill="#f27a7f"/>
<circle cx="131.96" cy="130.55" r="1.6" fill="#f27a7f"/>
<circle cx="143.34" cy="159.64" r="1.6" fill="#f27a7f"/>
<circle cx="126.93" cy="134.25" r="1.6" fill="#f27a7f"/>
<circle cx="149.53" cy="165.42" r="1.6" fill="#f27a7f"/>
<circle cx="122.88" cy="146.18" r="1.6" fill="#f27a7f"/>
<circle cx="132.41" cy="164.71" r="1.6" fill="#f27a7f"/>
<circle cx="138.29" cy="163.80" r="1.6" fill="#f27a7f"/>
<circle cx="125.34" cy="160.47" r="1.6" fill="#f27a7f"/>
<circle cx="126.41" cy="158.85" r="1.6" fill="#f27a7f"/>
<circle cx="133.05" cy="142.91" r="1.6" fill="#f27a7f"/>
<circle cx="125.91" cy="160.66" r="1.6" fill="#f27a7f"/>
<circle cx="129.31" cy="135.12" r="1.6" fill="#f27a7f"/>
<circle cx="127.29" cy="147.65" r="1.6" fill="#f27a7f"/>
<circle cx="129.78" cy="131.14" r="1.6" fill="#f27a7f"/>
<circle cx="139.22" cy="156.30" r="1.6" fill="#f27a7f"/>
<circle cx="133.12" cy="127.72" r="1.6" fill="#f27a7f"/>
<circle cx="122.39" cy="157.66" r="1.6" fill="#f27a7f"/>
<circle cx="124.42" cy="161.04" r="1.6" fill="#f27a7f"/>
<circle cx="130.42" cy="151.06" r="1.6" fill="#f27a7f"/>
<circle cx="126.72" cy="152.21" r="1.6" fill="#f27a7f"/>
<circle cx="129.80" cy="143.56" r="1.6" fill="#f27a7f"/>
<circle cx="130.72" cy="143.80" r="1.6" fill="#f27a7f"/>
<circle cx="128.00" cy="144.68" r="1.6" fill="#f27a7f"/>
<circle cx="133.64" cy="126.98" r="1.6" fill="#f27a7f"/>
<circle cx="125.29" cy="146.46" r="1.6" fill="#f27a7f"/>
<circle cx="137.93" cy="157.92" r="1.6" fill="#f27a7f"/>
<circle cx="124.68" cy="145.16" r="1.6" fill="#f27a7f"/>
<circle cx="123.66" cy="145.78" r="1.6" fill="#f27a7f"/>
<circle cx="131.14" cy="131.37" r="1.6" fill="#f27a7f"/>
<circle cx="131.86" cy="129.83" r="1.6" fill="#f27a7f"/>
<circle cx="122.50" cy="147.32" r="1.6" fill="#f27a7f"/>
<circle cx="122.99" cy="152.60" r="1.6" fill="#f27a7f"/>
<circle cx="137.10" cy="156.66" r="1.6" fill="#f27a7f"/>
<circle cx="122.68" cy="147.38" r="1.6" fill="#f27a7f"/>
<circle cx="127.21" cy="147.06" r="1.6" fill="#f27a7f"/>
<circle cx="125.55" cy="165.75" r="1.6" fill="#f27a7f"/>
<circle cx="146.31" cy="161.83" r="1.6" fill="#f27a7f"/>
<circle cx="137.80" cy="156.60" r="1.6" fill="#f27a7f"/>
<circle cx="135.26" cy="134.10" r="1.6" fill="#f27a7f"/>
<circle cx="135.08" cy="146.56" r="1.6" fill="#f27a7f"/>
<circle cx="126.13" cy="164.29" r="1.6" fill="#f27a7f"/>
<circle cx="141.85" cy="158.95" r="1.6" fill="#f27a7f"/>
<circle cx="131.42" cy="128.74" r="1.6" fill="#f27a7f"/>
<circle cx="124.88" cy="157.61" r="1.6" fill="#f27a7f"/>
<circle cx="128.90" cy="163.48" r="1.6" fill="#f27a7f"/>
<circle cx="124.90" cy="160.09" r="1.6" fill="#f27a7f"/>
<circle cx="134.69" cy="146.99" r="1.6" fill="#f27a7f"/>
<circle cx="128.07" cy="134.71" r="1.6" fill="#f27a7f"/>
<circle cx="126.40" cy="147.15" r="1.6" fill="#f27a7f"/>
<circle cx="130.49" cy="127.54" r="1.6" fill="#f27a7f"/>
<circle cx="135.03" cy="132.74" r="1.6" fill="#f27a7f"/>
<circle cx="137.83" cy="154.41" r="1.6" fill="#f27a7f"/>
<circle cx="133.61" cy="133.05" r="1.6" fill="#f27a7f"/>
<circle cx="132.17" cy="130.81" r="1.6" fill="#f27a7f"/>
<circle cx="127.70" cy="152.60" r="1.6" fill="#f27a7f"/>
<circle cx="135.76" cy="162.49" r="1.6" fill="#f27a7f"/>
<circle cx="135.32" cy="150.25" r="1.6" fill="#f27a7f"/>
<circle cx="135.80" cy="130.37" r="1.6" fill="#f27a7f"/>
<circle cx="128.22" cy="152.32" r="1.6" fill="#f27a7f"/>
<circle cx="127.47" cy="159.34" r="1.6" fill="#f27a7f"/>
<circle cx="139.35" cy="167.40" r="1.6" fill="#f27a7f"/>
<circle cx="132.15" cy="141.06" r="1.6" fill="#f27a7f"/>
<circle cx="124.72" cy="144.49" r="1.6" fill="#f27a7f"/>
<circle cx="122.58" cy="157.08" r="1.6" fill="#f27a7f"/>
<circle cx="127.47" cy="160.27" r="1.6" fill="#f27a7f"/>
<circle cx="138.36" cy="152.72" r="1.6" fill="#f27a7f"/>
<circle cx="132.02" cy="150.49" r="1.6" fill="#f27a7f"/>
<circle cx="123.67" cy="139.07" r="1.6" fill="#f27a7f"/>
<circle cx="130.29" cy="127.41" r="1.6" fill="#f27a7f"/>
<circle cx="128.71" cy="151.75" r="1.6" fill="#f27a7f"/>
<circle cx="134.47" cy="147.43" r="1.6" fill="#f27a7f"/>
<circle cx="129.42" cy="131.52" r="1.6" fill="#f27a7f"/>
<circle cx="121.99" cy="153.30" r="1.6" fill="#f27a7f"/>
<circle cx="131.99" cy="126.11" r="1.6" fill="#f27a7f"/>
<circle cx="130.99" cy="130.45" r="1.6" fill="#f27a7f"/>
<circle cx="131.09" cy="135.37" r="1.6" fill="#f27a7f"/>
<circle cx="124.82" cy="150.62" r="1.6" fill="#f27a7f"/>
<circle cx="129.51" cy="152.08" r="1.6" fill="#f27a7f"/>
<circle cx="135.19" cy="131.63" r="1.6" fill="#f27a7f"/>
<circle cx="126.40" cy="136.18" r="1.6" fill="#f27a7f"/>
<circle cx="133.26" cy="130.00" r="1.6" fill="#f27a7f"/>
<circle cx="141.50" cy="162.42" r="1.6" fill="#f27a7f"/>
<circle cx="126.03" cy="142.80" r="1.6" fill="#f27a7f"/>
<circle cx="133.90" cy="126.48" r="1.6" fill="#f27a7f"/>
<circle cx="126.89" cy="149.51" r="1.6" fill="#f27a7f"/>
<circle cx="129.23" cy="152.99" r="1.6" fill="#f27a7f"/>
<circle cx="142.41" cy="165.17" r="1.6" fill="#f27a7f"/>
<circle cx="134.19" cy="136.39" r="1.6" fill="#f27a7f"/>
<circle cx="132.88" cy="127.84" r="1.6" fill="#f27a7f"/>
<circle cx="125.69" cy="142.97" r="1.6" fill="#f27a7f"/>
<circle cx="134.52" cy="128.44" r="1.6" fill="#f27a7f"/>
<circle cx="133.25" cy="126.52" r="1.6" fill="#f27a7f"/>
<circle cx="125.66" cy="165.33" r="1.6" fill="#f27a7f"/>
<circle cx="131.58" cy="134.34" r="1.6" fill="#f27a7f"/>
<circle cx="130.88" cy="147.19" r="1.6" fill="#f27a7f"/>
<circle cx="125.59" cy="160.00" r="1.6" fill="#f27a7f"/>
<circle cx="127.08" cy="138.93" r="1.6" fill="#f27a7f"/>
<circle cx="135.37" cy="128.03" r="1.6" fill="#f27a7f"/>
<circle cx="137.04" cy="158.73" r="1.6" fill="#f27a7f"/>
<circle cx="135.30" cy="126.27" r="1.6" fill="#f27a7f"/>
<circle cx="131.05" cy="157.15" r="1.6" fill="#f27a7f"/>
<circle cx="130.74" cy="157.01" r="1.6" fill="#f27a7f"/>
<circle cx="126.23" cy="135.44" r="1.6" fill="#f27a7f"/>
<circle cx="125.45" cy="135.71" r="1.6" fill="#f27a7f"/>
<circle cx="132.03" cy="140.02" r="1.6" fill="#f27a7f"/>
<circle cx="137.36" cy="155.06" r="1.6" fill="#f27a7f"/>
<circle cx="126.71" cy="155.75" r="1.6" fill="#f27a7f"/>
<circle cx="128.09" cy="149.15" r="1.6" fill="#f27a7f"/>
<circle cx="132.99" cy="158.96" r="1.6" fill="#f27a7f"/>
<circle cx="131.31" cy="137.09" r="1.6" fill="#f27a7f"/>
<circle cx="128.03" cy="166.34" r="1.6" fill="#f27a7f"/>
<circle cx="121.99" cy="162.79" r="1.6" fill="#f27a7f"/>
<circle cx="127.06" cy="136.88" r="1.6" fill="#f27a7f"/>
<circle cx="140.75" cy="157.09" r="1.6" fill="#f27a7f"/>
<circle cx="128.25" cy="157.19" r="1.6" fill="#f27a7f"/>
<circle cx="130.09" cy="162.79" r="1.6" fill="#f27a7f"/>
<circle cx="134.28" cy="136.00" r="1.6" fill="#f27a7f"/>
<circle cx="133.25" cy="152.36" r="1.6" fill="#f27a7f"/>
<circle cx="138.91" cy="153.81" r="1.6" fill="#f27a7f"/>
<circle cx="133.29" cy="145.62" r="1.6" fill="#f27a7f"/>
<circle cx="137.66" cy="155.16" r="1.6" fill="#f27a7f"/>
<circle cx="131.56" cy="144.28" r="1.6" fill="#f27a7f"/>
<circle cx="126.31" cy="149.84" r="1.6" fill="#f27a7f"/>
<circle cx="131.60" cy="134.86" r="1.6" fill="#f27a7f"/>
<circle cx="135.35" cy="129.25" r="1.6" fill="#f27a7f"/>
<circle cx="127.43" cy="132.04" r="1.6" fill="#f27a7f"/>
<circle cx="135.31" cy="130.46" r="1.6" fill="#f27a7f"/>
<circle cx="124.99" cy="140.42" r="1.6" fill="#f27a7f"/>
<circle cx="129.59" cy="127.20" r="1.6" fill="#f27a7f"/>
<circle cx="133.37" cy="154.95" r="1.6" fill="#f27a7f"/>
<circle cx="135.38" cy="155.13" r="1.6" fill="#f27a7f"/>
<circle cx="133.13" cy="128.75" r="1.6" fill="#f27a7f"/>
<circle cx="132.76" cy="141.19" r="1.6" fill="#f27a7f"/>
<circle cx="142.22" cy="160.26" r="1.6" fill="#f27a7f"/>
<circle cx="135.11" cy="128.76" r="1.6" fill="#f27a7f"/>
<circle cx="147.43" cy="164.22" r="1.6" fill="#f27a7f"/>
<circle cx="129.83" cy="130.48" r="1.6" fill="#f27a7f"/>
<circle cx="128.40" cy="130.68" r="1.6" fill="#f27a7f"/>
<circle cx="141.41" cy="161.43" r="1.6" fill="#f27a7f"/>
<circle cx="135.55" cy="152.51" r="1.6" fill="#f27a7f"/>
<circle cx="126.44" cy="152.40" r="1.6" fill="#f27a7f"/>
<circle cx="129.20" cy="130.17" r="1.6" fill="#f27a7f"/>
<circle cx="125.85" cy="157.66" r="1.6" fill="#f27a7f"/>
<circle cx="128.37" cy="139.34" r="1.6" fill="#f27a7f"/>
<circle cx="131.16" cy="126.87" r="1.6" fill="#f27a7f"/>
<circle cx="131.96" cy="137.81" r="1.6" fill="#f27a7f"/>
<circle cx="126.92" cy="141.38" r="1.6" fill="#f27a7f"/>
<circle cx="136.49" cy="166.30" r="1.6" fill="#f27a7f"/>
<circle cx="136.78" cy="161.59" r="1.6" fill="#f27a7f"/>
<circle cx="132.15" cy="127.30" r="1.6" fill="#f27a7f"/>
<circle cx="132.15" cy="144.24" r="1.6" fill="#f27a7f"/>
<circle cx="131.48" cy="140.50" r="1.6" fill="#f27a7f"/>
<circle cx="124.85" cy="148.48" r="1.6" fill="#f27a7f"/>
<circle cx="123.88" cy="162.04" r="1.6" fill="#f27a7f"/>
<circle cx="125.54" cy="160.27" r="1.6" fill="#f27a7f"/>
<circle cx="130.96" cy="126.05" r="1.6" fill="#f27a7f"/>
<circle cx="142.03" cy="157.86" r="1.6" fill="#f27a7f"/>
<circle cx="132.90" cy="126.18" r="1.6" fill="#f27a7f"/>
<circle cx="132.90" cy="146.54" r="1.6" fill="#f27a7f"/>
<circle cx="130.72" cy="133.71" r="1.6" fill="#f27a7f"/>
<circle cx="132.95" cy="140.51" r="1.6" fill="#f27a7f"/>
<circle cx="134.55" cy="136.89" r="1.6" fill="#f27a7f"/>
<circle cx="126.49" cy="137.86" r="1.6" fill="#f27a7f"/>
<circle cx="130.96" cy="155.24" r="1.6" fill="#f27a7f"/>
<circle cx="133.06" cy="130.59" r="1.6" fill="#f27a7f"/>
<circle cx="134.45" cy="129.38" r="1.6" fill="#f27a7f"/>
<circle cx="136.33" cy="155.14" r="1.6" fill="#f27a7f"/>
<circle cx="127.56" cy="152.25" r="1.6" fill="#f27a7f"/>
<circle cx="127.61" cy="142.77" r="1.6" fill="#f27a7f"/>
<circle cx="123.87" cy="163.22" r="1.6" fill="#f27a7f"/>
<circle cx="122.26" cy="163.14" r="1.6" fill="#f27a7f"/>
<circle cx="128.11" cy="134.62" r="1.6" fill="#f27a7f"/>
<circle cx="135.02" cy="163.67" r="1.6" fill="#f27a7f"/>
<circle cx="133.52" cy="141.85" r="1.6" fill="#f27a7f"/>
<circle cx="129.75" cy="135.76" r="1.6" fill="#f27a7f"/>
<circle cx="132.63" cy="148.22" r="1.6" fill="#f27a7f"/>
<circle cx="134.90" cy="157.47" r="1.6" fill="#f27a7f"/>
<circle cx="127.10" cy="140.57" r="1.6" fill="#f27a7f"/>
<circle cx="134.25" cy="132.49" r="1.6" fill="#f27a7f"/>
<circle cx="134.66" cy="153.68" r="1.6" fill="#f27a7f"/>
<circle cx="130.47" cy="133.09" r="1.6" fill="#f27a7f"/>
<circle cx="133.92" cy="158.33" r="1.6" fill="#f27a7f"/>
<circle cx="131.44" cy="131.27" r="1.6" fill="#f27a7f"/>
<circle cx="127.80" cy="163.00" r="1.6" fill="#f27a7f"/>
<circle cx="128.76" cy="134.01" r="1.6" fill="#f27a7f"/>
<circle cx="137.56" cy="155.39" r="1.6" fill="#f27a7f"/>
<circle cx="128.28" cy="132.46" r="1.6" fill="#f27a7f"/>
<circle cx="128.19" cy="136.35" r="1.6" fill="#f27a7f"/>
<circle cx="124.12" cy="147.83" r="1.6" fill="#f27a7f"/>
<circle cx="125.65" cy="139.71" r="1.6" fill="#f27a7f"/>
<circle cx="134.50" cy="74.10" r="1.6" fill="#f27a7f"/>
<circle cx="133.70" cy="96.40" r="1.6" fill="#f27a7f"/>
<circle cx="133.70" cy="98.50" r="1.6" fill="#f27a7f"/>
<circle cx="133.70" cy="100.50" r="1.6" fill="#f27a7f"/>
<circle cx="132.90" cy="108.90" r="1.6" fill="#f27a7f"/>
<circle cx="130.70" cy="114.30" r="1.6" fill="#f27a7f"/>
<circle cx="131.60" cy="117.70" r="1.6" fill="#f27a7f"/>
<circle cx="133.10" cy="120.70" r="1.6" fill="#f27a7f"/>
<circle cx="135.00" cy="120.20" r="1.6" fill="#f27a7f"/>
<circle cx="136.00" cy="122.60" r="1.6" fill="#f27a7f"/>
<circle cx="128.00" cy="125.50" r="1.6" fill="#f27a7f"/>
<circle cx="131.00" cy="125.50" r="1.6" fill="#f27a7f"/>
<circle cx="134.00" cy="125.20" r="1.6" fill="#f27a7f"/>
<circle cx="137.00" cy="125.80" r="1.6" fill="#f27a7f"/>
<circle cx="139.50" cy="126.00" r="1.6" fill="#f27a7f"/>
<circle cx="129.50" cy="123.80" r="1.6" fill="#f27a7f"/>
<circle cx="132.50" cy="122.90" r="1.6" fill="#f27a7f"/>
<circle cx="136.50" cy="124.00" r="1.6" fill="#f27a7f"/>
<circle cx="127.00" cy="128.00" r="1.6" fill="#f27a7f"/>
<circle cx="138.50" cy="128.50" r="1.6" fill="#f27a7f"/>
<circle cx="125.50" cy="131.00" r="1.6" fill="#f27a7f"/>
<circle cx="140.00" cy="131.90" r="1.6" fill="#f27a7f"/>
<circle cx="138.50" cy="149.50" r="1.6" fill="#f27a7f"/>
<circle cx="143.40" cy="152.50" r="1.6" fill="#f27a7f"/>
<circle cx="142.90" cy="154.40" r="1.6" fill="#f27a7f"/>
<circle cx="148.80" cy="156.90" r="1.6" fill="#f27a7f"/>
<circle cx="140.90" cy="158.30" r="1.6" fill="#f27a7f"/>
<circle cx="160.50" cy="164.50" r="1.6" fill="#f27a7f"/>
<circle cx="167.80" cy="163.70" r="1.6" fill="#f27a7f"/>
<circle cx="147.30" cy="163.70" r="1.6" fill="#f27a7f"/>
<line x1="114.95" y1="17.50" x2="114.95" y2="168.40" stroke="#111" stroke-width="1.3" stroke-dasharray="1.5,2.9"/>
<path d="M49.40,16.50 H180.50 V168.40" fill="none" stroke="#333" stroke-width="1.1"/>
<path d="M49.40,16.50 V168.40 H180.50" fill="none" stroke="#333" stroke-width="1.2"/>
<line x1="44.20" y1="168.40" x2="49.40" y2="168.40" stroke="#333" stroke-width="1.2" />
<text x="42.80" y="172.00" font-size="10.0" text-anchor="end" fill="#231f20" font-weight="normal" font-family="Liberation Sans" >0</text>
<line x1="44.20" y1="117.77" x2="49.40" y2="117.77" stroke="#333" stroke-width="1.2" />
<text x="42.80" y="121.37" font-size="10.0" text-anchor="end" fill="#231f20" font-weight="normal" font-family="Liberation Sans" >100</text>
<line x1="44.20" y1="67.13" x2="49.40" y2="67.13" stroke="#333" stroke-width="1.2" />
<text x="42.80" y="70.73" font-size="10.0" text-anchor="end" fill="#231f20" font-weight="normal" font-family="Liberation Sans" >200</text>
<line x1="44.20" y1="16.50" x2="49.40" y2="16.50" stroke="#333" stroke-width="1.2" />
<text x="42.80" y="20.10" font-size="10.0" text-anchor="end" fill="#231f20" font-weight="normal" font-family="Liberation Sans" >300</text>
<line x1="49.40" y1="168.40" x2="49.40" y2="174.00" stroke="#333" stroke-width="1.2" />
<text transform="translate(52.40,184.00) rotate(-45)" font-size="10" text-anchor="end" fill="#231f20" font-family="Liberation Sans">−10</text>
<line x1="62.51" y1="168.40" x2="62.51" y2="174.00" stroke="#333" stroke-width="1.2" />
<text transform="translate(65.51,184.00) rotate(-45)" font-size="10" text-anchor="end" fill="#231f20" font-family="Liberation Sans">−8</text>
<line x1="75.62" y1="168.40" x2="75.62" y2="174.00" stroke="#333" stroke-width="1.2" />
<text transform="translate(78.62,184.00) rotate(-45)" font-size="10" text-anchor="end" fill="#231f20" font-family="Liberation Sans">−6</text>
<line x1="88.73" y1="168.40" x2="88.73" y2="174.00" stroke="#333" stroke-width="1.2" />
<text transform="translate(91.73,184.00) rotate(-45)" font-size="10" text-anchor="end" fill="#231f20" font-family="Liberation Sans">−4</text>
<line x1="101.84" y1="168.40" x2="101.84" y2="174.00" stroke="#333" stroke-width="1.2" />
<text transform="translate(104.84,184.00) rotate(-45)" font-size="10" text-anchor="end" fill="#231f20" font-family="Liberation Sans">−2</text>
<line x1="114.95" y1="168.40" x2="114.95" y2="174.00" stroke="#333" stroke-width="1.2" />
<text transform="translate(117.95,184.00) rotate(-45)" font-size="10" text-anchor="end" fill="#231f20" font-family="Liberation Sans">0</text>
<line x1="128.06" y1="168.40" x2="128.06" y2="174.00" stroke="#333" stroke-width="1.2" />
<text transform="translate(131.06,184.00) rotate(-45)" font-size="10" text-anchor="end" fill="#231f20" font-family="Liberation Sans">2</text>
<line x1="141.17" y1="168.40" x2="141.17" y2="174.00" stroke="#333" stroke-width="1.2" />
<text transform="translate(144.17,184.00) rotate(-45)" font-size="10" text-anchor="end" fill="#231f20" font-family="Liberation Sans">4</text>
<line x1="154.28" y1="168.40" x2="154.28" y2="174.00" stroke="#333" stroke-width="1.2" />
<text transform="translate(157.28,184.00) rotate(-45)" font-size="10" text-anchor="end" fill="#231f20" font-family="Liberation Sans">6</text>
<line x1="167.39" y1="168.40" x2="167.39" y2="174.00" stroke="#333" stroke-width="1.2" />
<text transform="translate(170.39,184.00) rotate(-45)" font-size="10" text-anchor="end" fill="#231f20" font-family="Liberation Sans">8</text>
<line x1="180.50" y1="168.40" x2="180.50" y2="174.00" stroke="#333" stroke-width="1.2" />
<text transform="translate(183.50,184.00) rotate(-45)" font-size="10" text-anchor="end" fill="#231f20" font-family="Liberation Sans">10</text>
<text x="110.90" y="10.10" font-size="8.4" text-anchor="middle" fill="#231f20" font-weight="normal" font-family="Liberation Sans" >PANC-1</text>
<text x="75.50" y="200.30" font-size="8.9" text-anchor="start" fill="#231f20" font-weight="normal" font-family="Liberation Sans" >log2(FoldChange)</text>
<text transform="translate(23.50,96.45) rotate(-90)" font-size="8.95" text-anchor="middle" fill="#231f20" font-family="Liberation Sans">-log10(adjusted P value)</text>
<text x="89.00" y="27.80" font-size="8.0" text-anchor="end" fill="#231f20" font-weight="normal" font-family="Liberation Sans" >HMGA2</text>
<text x="94.00" y="77.80" font-size="8.0" text-anchor="end" fill="#231f20" font-weight="normal" font-family="Liberation Sans" >NRP1</text>
<text x="96.00" y="84.50" font-size="8.0" text-anchor="end" fill="#231f20" font-weight="normal" font-family="Liberation Sans" >DKK1</text>
<text x="93.50" y="98.50" font-size="8.0" text-anchor="end" fill="#231f20" font-weight="normal" font-family="Liberation Sans" >UHRF1</text>
<text x="92.50" y="112.50" font-size="8.0" text-anchor="end" fill="#231f20" font-weight="normal" font-family="Liberation Sans" >RRM2</text>
<text x="84.50" y="155.80" font-size="8.0" text-anchor="end" fill="#231f20" font-weight="normal" font-family="Liberation Sans" >TWF1P1</text>
<text x="139.00" y="77.00" font-size="8.0" text-anchor="start" fill="#231f20" font-weight="normal" font-family="Liberation Sans" >MKNK2</text>
<text x="138.80" y="100.20" font-size="8.0" text-anchor="start" fill="#231f20" font-weight="normal" font-family="Liberation Sans" >TRIB3</text>
<text x="137.60" y="112.00" font-size="8.0" text-anchor="start" fill="#231f20" font-weight="normal" font-family="Liberation Sans" >NUPR1</text>
<text x="144.00" y="130.00" font-size="8.0" text-anchor="start" fill="#231f20" font-weight="normal" font-family="Liberation Sans" >KRT86</text>
<text x="144.80" y="137.50" font-size="8.0" text-anchor="start" fill="#231f20" font-weight="normal" font-family="Liberation Sans" >NCMAP</text>
<text x="144.00" y="149.40" font-size="8.0" text-anchor="start" fill="#231f20" font-weight="normal" font-family="Liberation Sans" >ELF3</text>
<text x="153.90" y="159.80" font-size="8.0" text-anchor="start" fill="#231f20" font-weight="normal" font-family="Liberation Sans" >PTGS1</text>
<text x="89.30" y="133.00" font-size="8.0" text-anchor="end" fill="#231f20" font-weight="bold" font-family="Liberation Sans" >BRCA1</text>
<line x1="79.60" y1="134.90" x2="95.20" y2="142.60" stroke="#111" stroke-width="1.1" />
<circle cx="93.9" cy="144.5" r="2.5" fill="#5560ad" stroke="#1c2356" stroke-width="1.4"/>
<text x="266.00" y="9.80" font-size="12.5" text-anchor="start" fill="#231f20" font-weight="bold" font-family="Liberation Sans" >b</text>
<polygon points="328.20,104.50 330.20,107.50 329.20,113.50 330.20,120.50 327.70,126.50 328.70,132.50 327.20,139.50 327.20,145.50 325.20,152.00 321.20,158.50 315.20,163.50 308.20,167.80 339.80,167.80 339.80,163.50 339.80,158.50 339.80,152.00 339.80,145.50 339.80,139.50 339.80,132.50 339.30,126.50 338.30,120.50 337.60,113.50 336.80,107.50 334.30,104.50" fill="#7884c6"/>
<circle cx="332.00" cy="165.14" r="1.6" fill="#7884c6"/>
<circle cx="336.59" cy="110.38" r="1.6" fill="#7884c6"/>
<circle cx="332.66" cy="110.37" r="1.6" fill="#7884c6"/>
<circle cx="333.62" cy="165.69" r="1.6" fill="#7884c6"/>
<circle cx="331.87" cy="149.98" r="1.6" fill="#7884c6"/>
<circle cx="334.83" cy="116.30" r="1.6" fill="#7884c6"/>
<circle cx="331.41" cy="110.70" r="1.6" fill="#7884c6"/>
<circle cx="328.85" cy="128.35" r="1.6" fill="#7884c6"/>
<circle cx="336.95" cy="129.02" r="1.6" fill="#7884c6"/>
<circle cx="333.12" cy="147.48" r="1.6" fill="#7884c6"/>
<circle cx="333.07" cy="143.65" r="1.6" fill="#7884c6"/>
<circle cx="334.19" cy="112.89" r="1.6" fill="#7884c6"/>
<circle cx="336.46" cy="129.38" r="1.6" fill="#7884c6"/>
<circle cx="327.25" cy="160.93" r="1.6" fill="#7884c6"/>
<circle cx="336.44" cy="139.99" r="1.6" fill="#7884c6"/>
<circle cx="331.22" cy="130.41" r="1.6" fill="#7884c6"/>
<circle cx="337.83" cy="149.28" r="1.6" fill="#7884c6"/>
<circle cx="335.07" cy="152.53" r="1.6" fill="#7884c6"/>
<circle cx="333.81" cy="157.45" r="1.6" fill="#7884c6"/>
<circle cx="332.96" cy="144.22" r="1.6" fill="#7884c6"/>
<circle cx="335.00" cy="123.63" r="1.6" fill="#7884c6"/>
<circle cx="332.91" cy="110.14" r="1.6" fill="#7884c6"/>
<circle cx="335.17" cy="153.06" r="1.6" fill="#7884c6"/>
<circle cx="330.55" cy="143.48" r="1.6" fill="#7884c6"/>
<circle cx="333.60" cy="130.56" r="1.6" fill="#7884c6"/>
<circle cx="332.43" cy="142.97" r="1.6" fill="#7884c6"/>
<circle cx="338.55" cy="146.34" r="1.6" fill="#7884c6"/>
<circle cx="334.86" cy="115.48" r="1.6" fill="#7884c6"/>
<circle cx="330.48" cy="152.79" r="1.6" fill="#7884c6"/>
<circle cx="339.12" cy="134.71" r="1.6" fill="#7884c6"/>
<circle cx="333.29" cy="106.39" r="1.6" fill="#7884c6"/>
<circle cx="335.66" cy="114.08" r="1.6" fill="#7884c6"/>
<circle cx="327.97" cy="162.97" r="1.6" fill="#7884c6"/>
<circle cx="333.95" cy="110.34" r="1.6" fill="#7884c6"/>
<circle cx="336.13" cy="137.92" r="1.6" fill="#7884c6"/>
<circle cx="335.37" cy="136.11" r="1.6" fill="#7884c6"/>
<circle cx="331.48" cy="155.98" r="1.6" fill="#7884c6"/>
<circle cx="338.67" cy="129.73" r="1.6" fill="#7884c6"/>
<circle cx="335.27" cy="117.17" r="1.6" fill="#7884c6"/>
<circle cx="336.61" cy="128.61" r="1.6" fill="#7884c6"/>
<circle cx="336.91" cy="111.67" r="1.6" fill="#7884c6"/>
<circle cx="328.76" cy="126.29" r="1.6" fill="#7884c6"/>
<circle cx="333.30" cy="121.20" r="1.6" fill="#7884c6"/>
<circle cx="331.43" cy="104.83" r="1.6" fill="#7884c6"/>
<circle cx="336.11" cy="130.37" r="1.6" fill="#7884c6"/>
<circle cx="330.98" cy="126.08" r="1.6" fill="#7884c6"/>
<circle cx="335.80" cy="118.07" r="1.6" fill="#7884c6"/>
<circle cx="328.18" cy="162.93" r="1.6" fill="#7884c6"/>
<circle cx="336.20" cy="117.73" r="1.6" fill="#7884c6"/>
<circle cx="330.77" cy="128.58" r="1.6" fill="#7884c6"/>
<circle cx="335.44" cy="112.11" r="1.6" fill="#7884c6"/>
<circle cx="333.62" cy="154.76" r="1.6" fill="#7884c6"/>
<circle cx="334.76" cy="133.42" r="1.6" fill="#7884c6"/>
<circle cx="337.45" cy="118.17" r="1.6" fill="#7884c6"/>
<circle cx="335.02" cy="126.14" r="1.6" fill="#7884c6"/>
<circle cx="336.43" cy="155.33" r="1.6" fill="#7884c6"/>
<circle cx="331.93" cy="133.35" r="1.6" fill="#7884c6"/>
<circle cx="329.19" cy="138.38" r="1.6" fill="#7884c6"/>
<circle cx="328.60" cy="156.28" r="1.6" fill="#7884c6"/>
<circle cx="326.66" cy="157.34" r="1.6" fill="#7884c6"/>
<circle cx="331.07" cy="127.58" r="1.6" fill="#7884c6"/>
<circle cx="330.82" cy="130.72" r="1.6" fill="#7884c6"/>
<circle cx="332.56" cy="104.17" r="1.6" fill="#7884c6"/>
<circle cx="331.94" cy="121.63" r="1.6" fill="#7884c6"/>
<circle cx="333.70" cy="122.92" r="1.6" fill="#7884c6"/>
<circle cx="335.54" cy="130.87" r="1.6" fill="#7884c6"/>
<circle cx="331.81" cy="145.34" r="1.6" fill="#7884c6"/>
<circle cx="336.07" cy="162.23" r="1.6" fill="#7884c6"/>
<circle cx="335.45" cy="107.58" r="1.6" fill="#7884c6"/>
<circle cx="334.83" cy="160.79" r="1.6" fill="#7884c6"/>
<circle cx="335.90" cy="112.80" r="1.6" fill="#7884c6"/>
<circle cx="327.78" cy="143.70" r="1.6" fill="#7884c6"/>
<circle cx="334.24" cy="104.72" r="1.6" fill="#7884c6"/>
<circle cx="330.52" cy="145.13" r="1.6" fill="#7884c6"/>
<circle cx="331.01" cy="110.36" r="1.6" fill="#7884c6"/>
<circle cx="336.12" cy="118.65" r="1.6" fill="#7884c6"/>
<circle cx="329.84" cy="125.72" r="1.6" fill="#7884c6"/>
<circle cx="335.02" cy="160.69" r="1.6" fill="#7884c6"/>
<circle cx="336.53" cy="114.53" r="1.6" fill="#7884c6"/>
<circle cx="336.82" cy="142.14" r="1.6" fill="#7884c6"/>
<circle cx="338.12" cy="145.91" r="1.6" fill="#7884c6"/>
<circle cx="336.99" cy="153.41" r="1.6" fill="#7884c6"/>
<circle cx="335.25" cy="116.38" r="1.6" fill="#7884c6"/>
<circle cx="336.45" cy="137.28" r="1.6" fill="#7884c6"/>
<circle cx="338.15" cy="131.50" r="1.6" fill="#7884c6"/>
<circle cx="330.75" cy="138.80" r="1.6" fill="#7884c6"/>
<circle cx="331.44" cy="118.68" r="1.6" fill="#7884c6"/>
<circle cx="329.11" cy="134.92" r="1.6" fill="#7884c6"/>
<circle cx="330.35" cy="133.29" r="1.6" fill="#7884c6"/>
<circle cx="333.93" cy="134.81" r="1.6" fill="#7884c6"/>
<circle cx="337.82" cy="137.83" r="1.6" fill="#7884c6"/>
<circle cx="333.39" cy="104.41" r="1.6" fill="#7884c6"/>
<circle cx="334.77" cy="133.34" r="1.6" fill="#7884c6"/>
<circle cx="337.48" cy="145.71" r="1.6" fill="#7884c6"/>
<circle cx="332.82" cy="127.51" r="1.6" fill="#7884c6"/>
<circle cx="315.54" cy="164.23" r="1.6" fill="#7884c6"/>
<circle cx="335.11" cy="143.94" r="1.6" fill="#7884c6"/>
<circle cx="333.21" cy="105.79" r="1.6" fill="#7884c6"/>
<circle cx="338.55" cy="146.80" r="1.6" fill="#7884c6"/>
<circle cx="338.50" cy="124.72" r="1.6" fill="#7884c6"/>
<circle cx="333.65" cy="136.02" r="1.6" fill="#7884c6"/>
<circle cx="319.56" cy="160.28" r="1.6" fill="#7884c6"/>
<circle cx="334.51" cy="149.03" r="1.6" fill="#7884c6"/>
<circle cx="337.34" cy="125.23" r="1.6" fill="#7884c6"/>
<circle cx="333.35" cy="126.96" r="1.6" fill="#7884c6"/>
<circle cx="336.79" cy="136.95" r="1.6" fill="#7884c6"/>
<circle cx="333.43" cy="117.21" r="1.6" fill="#7884c6"/>
<circle cx="334.62" cy="130.48" r="1.6" fill="#7884c6"/>
<circle cx="327.76" cy="155.84" r="1.6" fill="#7884c6"/>
<circle cx="329.56" cy="155.90" r="1.6" fill="#7884c6"/>
<circle cx="331.34" cy="135.59" r="1.6" fill="#7884c6"/>
<circle cx="339.12" cy="135.75" r="1.6" fill="#7884c6"/>
<circle cx="336.94" cy="145.04" r="1.6" fill="#7884c6"/>
<circle cx="331.81" cy="124.75" r="1.6" fill="#7884c6"/>
<circle cx="334.68" cy="122.76" r="1.6" fill="#7884c6"/>
<circle cx="336.85" cy="143.80" r="1.6" fill="#7884c6"/>
<circle cx="334.41" cy="106.51" r="1.6" fill="#7884c6"/>
<circle cx="330.48" cy="159.53" r="1.6" fill="#7884c6"/>
<circle cx="332.33" cy="107.12" r="1.6" fill="#7884c6"/>
<circle cx="329.88" cy="104.39" r="1.6" fill="#7884c6"/>
<circle cx="330.66" cy="161.77" r="1.6" fill="#7884c6"/>
<circle cx="336.89" cy="145.26" r="1.6" fill="#7884c6"/>
<circle cx="331.07" cy="161.05" r="1.6" fill="#7884c6"/>
<circle cx="335.00" cy="142.67" r="1.6" fill="#7884c6"/>
<circle cx="334.31" cy="147.66" r="1.6" fill="#7884c6"/>
<circle cx="329.70" cy="146.70" r="1.6" fill="#7884c6"/>
<circle cx="332.87" cy="145.82" r="1.6" fill="#7884c6"/>
<circle cx="326.82" cy="151.82" r="1.6" fill="#7884c6"/>
<circle cx="330.22" cy="115.37" r="1.6" fill="#7884c6"/>
<circle cx="338.16" cy="152.56" r="1.6" fill="#7884c6"/>
<circle cx="331.93" cy="145.11" r="1.6" fill="#7884c6"/>
<circle cx="335.92" cy="155.58" r="1.6" fill="#7884c6"/>
<circle cx="330.64" cy="139.24" r="1.6" fill="#7884c6"/>
<circle cx="333.18" cy="122.94" r="1.6" fill="#7884c6"/>
<circle cx="333.09" cy="123.97" r="1.6" fill="#7884c6"/>
<circle cx="338.62" cy="144.24" r="1.6" fill="#7884c6"/>
<circle cx="333.89" cy="107.42" r="1.6" fill="#7884c6"/>
<circle cx="330.92" cy="106.47" r="1.6" fill="#7884c6"/>
<circle cx="332.67" cy="154.81" r="1.6" fill="#7884c6"/>
<circle cx="327.16" cy="161.60" r="1.6" fill="#7884c6"/>
<circle cx="331.30" cy="104.89" r="1.6" fill="#7884c6"/>
<circle cx="338.67" cy="141.12" r="1.6" fill="#7884c6"/>
<circle cx="324.78" cy="165.50" r="1.6" fill="#7884c6"/>
<circle cx="329.81" cy="129.86" r="1.6" fill="#7884c6"/>
<circle cx="330.10" cy="144.41" r="1.6" fill="#7884c6"/>
<circle cx="329.79" cy="113.52" r="1.6" fill="#7884c6"/>
<circle cx="332.46" cy="104.30" r="1.6" fill="#7884c6"/>
<circle cx="336.78" cy="111.63" r="1.6" fill="#7884c6"/>
<circle cx="335.88" cy="109.53" r="1.6" fill="#7884c6"/>
<circle cx="329.88" cy="112.09" r="1.6" fill="#7884c6"/>
<circle cx="329.50" cy="149.10" r="1.6" fill="#7884c6"/>
<circle cx="328.56" cy="149.99" r="1.6" fill="#7884c6"/>
<circle cx="335.10" cy="107.14" r="1.6" fill="#7884c6"/>
<circle cx="337.53" cy="148.74" r="1.6" fill="#7884c6"/>
<circle cx="327.26" cy="149.75" r="1.6" fill="#7884c6"/>
<circle cx="335.97" cy="143.41" r="1.6" fill="#7884c6"/>
<circle cx="338.69" cy="132.88" r="1.6" fill="#7884c6"/>
<circle cx="337.63" cy="119.93" r="1.6" fill="#7884c6"/>
<circle cx="326.53" cy="148.97" r="1.6" fill="#7884c6"/>
<circle cx="332.76" cy="104.92" r="1.6" fill="#7884c6"/>
<circle cx="324.58" cy="155.25" r="1.6" fill="#7884c6"/>
<circle cx="335.96" cy="123.50" r="1.6" fill="#7884c6"/>
<circle cx="336.29" cy="114.41" r="1.6" fill="#7884c6"/>
<circle cx="329.21" cy="134.49" r="1.6" fill="#7884c6"/>
<circle cx="334.43" cy="127.05" r="1.6" fill="#7884c6"/>
<circle cx="336.02" cy="131.51" r="1.6" fill="#7884c6"/>
<circle cx="335.67" cy="113.09" r="1.6" fill="#7884c6"/>
<circle cx="335.15" cy="126.78" r="1.6" fill="#7884c6"/>
<circle cx="332.53" cy="143.48" r="1.6" fill="#7884c6"/>
<circle cx="336.81" cy="128.19" r="1.6" fill="#7884c6"/>
<circle cx="334.19" cy="163.25" r="1.6" fill="#7884c6"/>
<circle cx="331.05" cy="139.54" r="1.6" fill="#7884c6"/>
<circle cx="336.35" cy="107.80" r="1.6" fill="#7884c6"/>
<circle cx="337.20" cy="148.09" r="1.6" fill="#7884c6"/>
<circle cx="334.72" cy="124.82" r="1.6" fill="#7884c6"/>
<circle cx="334.76" cy="165.29" r="1.6" fill="#7884c6"/>
<circle cx="331.24" cy="141.69" r="1.6" fill="#7884c6"/>
<circle cx="338.14" cy="130.87" r="1.6" fill="#7884c6"/>
<circle cx="335.67" cy="127.62" r="1.6" fill="#7884c6"/>
<circle cx="338.17" cy="141.73" r="1.6" fill="#7884c6"/>
<circle cx="328.13" cy="154.63" r="1.6" fill="#7884c6"/>
<circle cx="330.07" cy="104.11" r="1.6" fill="#7884c6"/>
<circle cx="334.96" cy="130.49" r="1.6" fill="#7884c6"/>
<circle cx="337.59" cy="155.16" r="1.6" fill="#7884c6"/>
<circle cx="335.15" cy="106.65" r="1.6" fill="#7884c6"/>
<circle cx="337.29" cy="154.90" r="1.6" fill="#7884c6"/>
<circle cx="330.83" cy="139.86" r="1.6" fill="#7884c6"/>
<circle cx="336.04" cy="157.37" r="1.6" fill="#7884c6"/>
<circle cx="338.33" cy="146.93" r="1.6" fill="#7884c6"/>
<circle cx="329.11" cy="125.75" r="1.6" fill="#7884c6"/>
<circle cx="337.02" cy="138.72" r="1.6" fill="#7884c6"/>
<circle cx="335.70" cy="116.57" r="1.6" fill="#7884c6"/>
<circle cx="321.70" cy="162.42" r="1.6" fill="#7884c6"/>
<circle cx="335.60" cy="142.05" r="1.6" fill="#7884c6"/>
<circle cx="331.03" cy="133.18" r="1.6" fill="#7884c6"/>
<circle cx="336.08" cy="119.97" r="1.6" fill="#7884c6"/>
<circle cx="331.23" cy="153.64" r="1.6" fill="#7884c6"/>
<circle cx="335.47" cy="109.50" r="1.6" fill="#7884c6"/>
<circle cx="328.38" cy="152.41" r="1.6" fill="#7884c6"/>
<circle cx="338.18" cy="140.34" r="1.6" fill="#7884c6"/>
<circle cx="330.03" cy="159.50" r="1.6" fill="#7884c6"/>
<circle cx="335.00" cy="133.88" r="1.6" fill="#7884c6"/>
<circle cx="331.45" cy="115.86" r="1.6" fill="#7884c6"/>
<circle cx="335.19" cy="115.33" r="1.6" fill="#7884c6"/>
<circle cx="334.29" cy="126.75" r="1.6" fill="#7884c6"/>
<circle cx="334.09" cy="129.24" r="1.6" fill="#7884c6"/>
<circle cx="329.99" cy="113.34" r="1.6" fill="#7884c6"/>
<circle cx="320.91" cy="166.52" r="1.6" fill="#7884c6"/>
<circle cx="334.35" cy="110.65" r="1.6" fill="#7884c6"/>
<circle cx="326.79" cy="153.37" r="1.6" fill="#7884c6"/>
<circle cx="331.67" cy="141.45" r="1.6" fill="#7884c6"/>
<circle cx="328.35" cy="136.57" r="1.6" fill="#7884c6"/>
<circle cx="335.60" cy="106.11" r="1.6" fill="#7884c6"/>
<circle cx="330.07" cy="158.30" r="1.6" fill="#7884c6"/>
<circle cx="330.69" cy="139.56" r="1.6" fill="#7884c6"/>
<circle cx="331.00" cy="152.86" r="1.6" fill="#7884c6"/>
<circle cx="333.73" cy="163.35" r="1.6" fill="#7884c6"/>
<circle cx="338.81" cy="155.34" r="1.6" fill="#7884c6"/>
<circle cx="330.87" cy="119.93" r="1.6" fill="#7884c6"/>
<circle cx="331.46" cy="116.60" r="1.6" fill="#7884c6"/>
<circle cx="330.56" cy="109.25" r="1.6" fill="#7884c6"/>
<circle cx="337.88" cy="138.95" r="1.6" fill="#7884c6"/>
<circle cx="338.85" cy="132.73" r="1.6" fill="#7884c6"/>
<circle cx="319.32" cy="161.05" r="1.6" fill="#7884c6"/>
<circle cx="332.29" cy="141.50" r="1.6" fill="#7884c6"/>
<circle cx="336.71" cy="111.52" r="1.6" fill="#7884c6"/>
<circle cx="334.71" cy="120.13" r="1.6" fill="#7884c6"/>
<circle cx="338.89" cy="144.17" r="1.6" fill="#7884c6"/>
<circle cx="332.05" cy="145.99" r="1.6" fill="#7884c6"/>
<circle cx="330.73" cy="132.11" r="1.6" fill="#7884c6"/>
<circle cx="339.18" cy="164.55" r="1.6" fill="#7884c6"/>
<circle cx="330.59" cy="117.90" r="1.6" fill="#7884c6"/>
<circle cx="333.16" cy="120.04" r="1.6" fill="#7884c6"/>
<circle cx="337.40" cy="160.60" r="1.6" fill="#7884c6"/>
<circle cx="323.32" cy="156.49" r="1.6" fill="#7884c6"/>
<circle cx="335.07" cy="153.31" r="1.6" fill="#7884c6"/>
<circle cx="339.23" cy="144.55" r="1.6" fill="#7884c6"/>
<circle cx="331.38" cy="107.50" r="1.6" fill="#7884c6"/>
<circle cx="338.57" cy="151.34" r="1.6" fill="#7884c6"/>
<circle cx="330.81" cy="146.44" r="1.6" fill="#7884c6"/>
<circle cx="336.54" cy="141.08" r="1.6" fill="#7884c6"/>
<circle cx="332.23" cy="110.61" r="1.6" fill="#7884c6"/>
<circle cx="331.47" cy="120.11" r="1.6" fill="#7884c6"/>
<circle cx="330.45" cy="134.18" r="1.6" fill="#7884c6"/>
<circle cx="331.50" cy="118.95" r="1.6" fill="#7884c6"/>
<circle cx="327.30" cy="146.49" r="1.6" fill="#7884c6"/>
<circle cx="328.92" cy="148.97" r="1.6" fill="#7884c6"/>
<circle cx="335.37" cy="106.26" r="1.6" fill="#7884c6"/>
<circle cx="337.19" cy="117.83" r="1.6" fill="#7884c6"/>
<circle cx="337.37" cy="158.35" r="1.6" fill="#7884c6"/>
<circle cx="333.01" cy="112.76" r="1.6" fill="#7884c6"/>
<circle cx="336.33" cy="110.08" r="1.6" fill="#7884c6"/>
<circle cx="333.06" cy="156.81" r="1.6" fill="#7884c6"/>
<circle cx="332.55" cy="132.36" r="1.6" fill="#7884c6"/>
<circle cx="330.87" cy="155.61" r="1.6" fill="#7884c6"/>
<circle cx="329.28" cy="143.39" r="1.6" fill="#7884c6"/>
<circle cx="330.72" cy="117.90" r="1.6" fill="#7884c6"/>
<circle cx="333.61" cy="148.75" r="1.6" fill="#7884c6"/>
<circle cx="336.23" cy="113.07" r="1.6" fill="#7884c6"/>
<circle cx="333.48" cy="120.70" r="1.6" fill="#7884c6"/>
<circle cx="331.76" cy="113.76" r="1.6" fill="#7884c6"/>
<circle cx="328.11" cy="156.64" r="1.6" fill="#7884c6"/>
<circle cx="333.52" cy="114.52" r="1.6" fill="#7884c6"/>
<circle cx="337.63" cy="123.94" r="1.6" fill="#7884c6"/>
<circle cx="336.80" cy="111.16" r="1.6" fill="#7884c6"/>
<circle cx="335.85" cy="107.56" r="1.6" fill="#7884c6"/>
<circle cx="329.87" cy="145.90" r="1.6" fill="#7884c6"/>
<circle cx="331.75" cy="133.94" r="1.6" fill="#7884c6"/>
<circle cx="332.02" cy="120.16" r="1.6" fill="#7884c6"/>
<circle cx="338.87" cy="126.84" r="1.6" fill="#7884c6"/>
<circle cx="337.18" cy="166.58" r="1.6" fill="#7884c6"/>
<circle cx="332.03" cy="110.12" r="1.6" fill="#7884c6"/>
<circle cx="320.14" cy="160.19" r="1.6" fill="#7884c6"/>
<circle cx="330.07" cy="149.55" r="1.6" fill="#7884c6"/>
<circle cx="312.20" cy="165.36" r="1.6" fill="#7884c6"/>
<circle cx="329.05" cy="154.60" r="1.6" fill="#7884c6"/>
<circle cx="329.65" cy="112.79" r="1.6" fill="#7884c6"/>
<circle cx="331.50" cy="156.18" r="1.6" fill="#7884c6"/>
<circle cx="333.24" cy="115.65" r="1.6" fill="#7884c6"/>
<circle cx="322.50" cy="161.18" r="1.6" fill="#7884c6"/>
<circle cx="329.23" cy="139.82" r="1.6" fill="#7884c6"/>
<circle cx="335.71" cy="115.29" r="1.6" fill="#7884c6"/>
<circle cx="329.03" cy="148.62" r="1.6" fill="#7884c6"/>
<circle cx="330.83" cy="108.97" r="1.6" fill="#7884c6"/>
<circle cx="333.45" cy="142.16" r="1.6" fill="#7884c6"/>
<circle cx="331.76" cy="121.17" r="1.6" fill="#7884c6"/>
<circle cx="335.95" cy="142.40" r="1.6" fill="#7884c6"/>
<circle cx="332.78" cy="154.89" r="1.6" fill="#7884c6"/>
<circle cx="330.62" cy="116.68" r="1.6" fill="#7884c6"/>
<circle cx="331.52" cy="149.94" r="1.6" fill="#7884c6"/>
<circle cx="327.02" cy="149.25" r="1.6" fill="#7884c6"/>
<circle cx="328.86" cy="154.83" r="1.6" fill="#7884c6"/>
<circle cx="337.09" cy="156.79" r="1.6" fill="#7884c6"/>
<circle cx="328.64" cy="134.91" r="1.6" fill="#7884c6"/>
<circle cx="328.16" cy="161.07" r="1.6" fill="#7884c6"/>
<circle cx="325.74" cy="158.68" r="1.6" fill="#7884c6"/>
<circle cx="336.21" cy="115.67" r="1.6" fill="#7884c6"/>
<circle cx="330.02" cy="127.02" r="1.6" fill="#7884c6"/>
<circle cx="334.67" cy="127.27" r="1.6" fill="#7884c6"/>
<circle cx="331.57" cy="104.29" r="1.6" fill="#7884c6"/>
<circle cx="334.40" cy="131.95" r="1.6" fill="#7884c6"/>
<circle cx="334.96" cy="111.57" r="1.6" fill="#7884c6"/>
<circle cx="337.24" cy="155.20" r="1.6" fill="#7884c6"/>
<circle cx="335.78" cy="124.13" r="1.6" fill="#7884c6"/>
<circle cx="336.41" cy="127.91" r="1.6" fill="#7884c6"/>
<circle cx="335.74" cy="107.84" r="1.6" fill="#7884c6"/>
<circle cx="326.70" cy="163.82" r="1.6" fill="#7884c6"/>
<circle cx="334.14" cy="136.18" r="1.6" fill="#7884c6"/>
<circle cx="328.12" cy="137.69" r="1.6" fill="#7884c6"/>
<circle cx="318.83" cy="164.66" r="1.6" fill="#7884c6"/>
<circle cx="330.72" cy="115.44" r="1.6" fill="#7884c6"/>
<circle cx="336.53" cy="119.70" r="1.6" fill="#7884c6"/>
<circle cx="330.40" cy="105.89" r="1.6" fill="#7884c6"/>
<circle cx="329.20" cy="147.83" r="1.6" fill="#7884c6"/>
<circle cx="332.63" cy="105.11" r="1.6" fill="#7884c6"/>
<circle cx="333.77" cy="140.15" r="1.6" fill="#7884c6"/>
<circle cx="327.97" cy="148.06" r="1.6" fill="#7884c6"/>
<circle cx="334.19" cy="158.52" r="1.6" fill="#7884c6"/>
<circle cx="331.20" cy="106.83" r="1.6" fill="#7884c6"/>
<circle cx="333.94" cy="134.95" r="1.6" fill="#7884c6"/>
<circle cx="330.96" cy="121.53" r="1.6" fill="#7884c6"/>
<circle cx="330.11" cy="129.43" r="1.6" fill="#7884c6"/>
<circle cx="337.76" cy="141.11" r="1.6" fill="#7884c6"/>
<circle cx="333.98" cy="113.23" r="1.6" fill="#7884c6"/>
<circle cx="328.04" cy="150.81" r="1.6" fill="#7884c6"/>
<circle cx="338.37" cy="155.79" r="1.6" fill="#7884c6"/>
<circle cx="332.95" cy="128.37" r="1.6" fill="#7884c6"/>
<circle cx="331.35" cy="156.65" r="1.6" fill="#7884c6"/>
<circle cx="338.51" cy="128.81" r="1.6" fill="#7884c6"/>
<circle cx="329.78" cy="152.71" r="1.6" fill="#7884c6"/>
<circle cx="332.93" cy="119.07" r="1.6" fill="#7884c6"/>
<circle cx="339.15" cy="131.31" r="1.6" fill="#7884c6"/>
<circle cx="338.04" cy="154.43" r="1.6" fill="#7884c6"/>
<circle cx="336.96" cy="155.10" r="1.6" fill="#7884c6"/>
<circle cx="333.60" cy="107.36" r="1.6" fill="#7884c6"/>
<circle cx="337.72" cy="164.06" r="1.6" fill="#7884c6"/>
<circle cx="333.64" cy="119.63" r="1.6" fill="#7884c6"/>
<circle cx="331.90" cy="143.67" r="1.6" fill="#7884c6"/>
<circle cx="328.76" cy="137.28" r="1.6" fill="#7884c6"/>
<circle cx="334.19" cy="131.15" r="1.6" fill="#7884c6"/>
<circle cx="330.24" cy="105.31" r="1.6" fill="#7884c6"/>
<circle cx="333.43" cy="164.80" r="1.6" fill="#7884c6"/>
<circle cx="330.78" cy="162.75" r="1.6" fill="#7884c6"/>
<circle cx="337.57" cy="154.74" r="1.6" fill="#7884c6"/>
<circle cx="320.51" cy="159.47" r="1.6" fill="#7884c6"/>
<circle cx="330.74" cy="144.23" r="1.6" fill="#7884c6"/>
<circle cx="330.48" cy="146.54" r="1.6" fill="#7884c6"/>
<circle cx="338.52" cy="138.00" r="1.6" fill="#7884c6"/>
<circle cx="330.56" cy="142.95" r="1.6" fill="#7884c6"/>
<circle cx="333.01" cy="136.62" r="1.6" fill="#7884c6"/>
<circle cx="321.72" cy="163.62" r="1.6" fill="#7884c6"/>
<circle cx="335.20" cy="123.15" r="1.6" fill="#7884c6"/>
<circle cx="334.10" cy="111.55" r="1.6" fill="#7884c6"/>
<circle cx="327.08" cy="163.95" r="1.6" fill="#7884c6"/>
<circle cx="333.88" cy="120.83" r="1.6" fill="#7884c6"/>
<circle cx="329.63" cy="137.47" r="1.6" fill="#7884c6"/>
<circle cx="330.75" cy="111.77" r="1.6" fill="#7884c6"/>
<circle cx="333.14" cy="122.41" r="1.6" fill="#7884c6"/>
<circle cx="331.81" cy="122.08" r="1.6" fill="#7884c6"/>
<circle cx="333.76" cy="109.51" r="1.6" fill="#7884c6"/>
<circle cx="332.78" cy="156.65" r="1.6" fill="#7884c6"/>
<circle cx="335.27" cy="139.75" r="1.6" fill="#7884c6"/>
<circle cx="335.41" cy="116.61" r="1.6" fill="#7884c6"/>
<circle cx="334.66" cy="132.90" r="1.6" fill="#7884c6"/>
<circle cx="333.13" cy="142.42" r="1.6" fill="#7884c6"/>
<circle cx="331.41" cy="123.47" r="1.6" fill="#7884c6"/>
<circle cx="334.09" cy="117.89" r="1.6" fill="#7884c6"/>
<circle cx="334.66" cy="128.02" r="1.6" fill="#7884c6"/>
<circle cx="331.01" cy="104.74" r="1.6" fill="#7884c6"/>
<circle cx="325.81" cy="158.04" r="1.6" fill="#7884c6"/>
<circle cx="333.41" cy="138.90" r="1.6" fill="#7884c6"/>
<circle cx="338.10" cy="121.86" r="1.6" fill="#7884c6"/>
<circle cx="336.32" cy="122.53" r="1.6" fill="#7884c6"/>
<circle cx="330.24" cy="113.94" r="1.6" fill="#7884c6"/>
<circle cx="329.01" cy="158.63" r="1.6" fill="#7884c6"/>
<circle cx="332.81" cy="107.89" r="1.6" fill="#7884c6"/>
<circle cx="336.63" cy="131.58" r="1.6" fill="#7884c6"/>
<circle cx="331.52" cy="110.85" r="1.6" fill="#7884c6"/>
<circle cx="332.69" cy="164.15" r="1.6" fill="#7884c6"/>
<circle cx="332.25" cy="113.69" r="1.6" fill="#7884c6"/>
<circle cx="335.40" cy="126.10" r="1.6" fill="#7884c6"/>
<circle cx="337.63" cy="142.64" r="1.6" fill="#7884c6"/>
<circle cx="331.56" cy="155.49" r="1.6" fill="#7884c6"/>
<circle cx="335.95" cy="150.32" r="1.6" fill="#7884c6"/>
<circle cx="332.12" cy="151.63" r="1.6" fill="#7884c6"/>
<circle cx="335.07" cy="153.22" r="1.6" fill="#7884c6"/>
<circle cx="320.36" cy="161.35" r="1.6" fill="#7884c6"/>
<circle cx="320.96" cy="158.60" r="1.6" fill="#7884c6"/>
<circle cx="333.56" cy="152.01" r="1.6" fill="#7884c6"/>
<circle cx="338.99" cy="135.22" r="1.6" fill="#7884c6"/>
<circle cx="332.53" cy="139.86" r="1.6" fill="#7884c6"/>
<circle cx="337.52" cy="153.14" r="1.6" fill="#7884c6"/>
<circle cx="332.08" cy="142.08" r="1.6" fill="#7884c6"/>
<circle cx="331.00" cy="55.50" r="1.6" fill="#7884c6"/>
<circle cx="334.00" cy="89.90" r="1.6" fill="#7884c6"/>
<circle cx="332.10" cy="101.00" r="1.6" fill="#7884c6"/>
<circle cx="335.70" cy="103.90" r="1.6" fill="#7884c6"/>
<circle cx="326.00" cy="103.50" r="1.6" fill="#7884c6"/>
<circle cx="328.50" cy="103.50" r="1.6" fill="#7884c6"/>
<circle cx="331.00" cy="103.60" r="1.6" fill="#7884c6"/>
<circle cx="325.50" cy="113.00" r="1.6" fill="#7884c6"/>
<circle cx="327.50" cy="113.50" r="1.6" fill="#7884c6"/>
<circle cx="326.30" cy="152.80" r="1.6" fill="#7884c6"/>
<circle cx="307.10" cy="161.70" r="1.6" fill="#7884c6"/>
<circle cx="304.00" cy="165.50" r="1.6" fill="#7884c6"/>
<polygon points="352.70,121.50 352.20,126.50 351.20,132.50 351.00,139.50 351.00,145.50 351.00,152.00 351.00,157.10 351.00,160.90 351.00,163.50 351.00,167.80 383.80,167.80 377.80,163.50 370.80,160.90 366.30,157.10 363.30,152.00 361.80,145.50 360.30,139.50 359.30,132.50 359.80,126.50 358.30,121.50" fill="#f27a7f"/>
<circle cx="355.60" cy="141.67" r="1.6" fill="#f27a7f"/>
<circle cx="355.21" cy="154.04" r="1.6" fill="#f27a7f"/>
<circle cx="356.11" cy="138.85" r="1.6" fill="#f27a7f"/>
<circle cx="354.13" cy="138.57" r="1.6" fill="#f27a7f"/>
<circle cx="364.09" cy="156.97" r="1.6" fill="#f27a7f"/>
<circle cx="355.71" cy="143.83" r="1.6" fill="#f27a7f"/>
<circle cx="354.18" cy="129.42" r="1.6" fill="#f27a7f"/>
<circle cx="356.32" cy="127.63" r="1.6" fill="#f27a7f"/>
<circle cx="352.33" cy="147.58" r="1.6" fill="#f27a7f"/>
<circle cx="359.84" cy="163.05" r="1.6" fill="#f27a7f"/>
<circle cx="366.47" cy="159.54" r="1.6" fill="#f27a7f"/>
<circle cx="357.23" cy="164.82" r="1.6" fill="#f27a7f"/>
<circle cx="359.48" cy="140.49" r="1.6" fill="#f27a7f"/>
<circle cx="353.29" cy="121.49" r="1.6" fill="#f27a7f"/>
<circle cx="356.58" cy="146.82" r="1.6" fill="#f27a7f"/>
<circle cx="371.57" cy="163.06" r="1.6" fill="#f27a7f"/>
<circle cx="361.52" cy="145.61" r="1.6" fill="#f27a7f"/>
<circle cx="356.53" cy="144.65" r="1.6" fill="#f27a7f"/>
<circle cx="356.07" cy="152.31" r="1.6" fill="#f27a7f"/>
<circle cx="356.33" cy="137.35" r="1.6" fill="#f27a7f"/>
<circle cx="359.20" cy="137.05" r="1.6" fill="#f27a7f"/>
<circle cx="357.57" cy="151.92" r="1.6" fill="#f27a7f"/>
<circle cx="355.12" cy="125.52" r="1.6" fill="#f27a7f"/>
<circle cx="356.22" cy="139.32" r="1.6" fill="#f27a7f"/>
<circle cx="360.65" cy="147.23" r="1.6" fill="#f27a7f"/>
<circle cx="365.46" cy="165.08" r="1.6" fill="#f27a7f"/>
<circle cx="357.04" cy="141.12" r="1.6" fill="#f27a7f"/>
<circle cx="362.01" cy="166.52" r="1.6" fill="#f27a7f"/>
<circle cx="359.60" cy="145.23" r="1.6" fill="#f27a7f"/>
<circle cx="354.37" cy="128.80" r="1.6" fill="#f27a7f"/>
<circle cx="376.01" cy="165.71" r="1.6" fill="#f27a7f"/>
<circle cx="352.49" cy="144.43" r="1.6" fill="#f27a7f"/>
<circle cx="367.26" cy="161.88" r="1.6" fill="#f27a7f"/>
<circle cx="367.99" cy="158.50" r="1.6" fill="#f27a7f"/>
<circle cx="360.74" cy="161.59" r="1.6" fill="#f27a7f"/>
<circle cx="354.27" cy="128.15" r="1.6" fill="#f27a7f"/>
<circle cx="356.37" cy="144.38" r="1.6" fill="#f27a7f"/>
<circle cx="353.30" cy="129.60" r="1.6" fill="#f27a7f"/>
<circle cx="358.10" cy="149.80" r="1.6" fill="#f27a7f"/>
<circle cx="359.58" cy="137.14" r="1.6" fill="#f27a7f"/>
<circle cx="351.87" cy="150.09" r="1.6" fill="#f27a7f"/>
<circle cx="358.25" cy="139.80" r="1.6" fill="#f27a7f"/>
<circle cx="356.91" cy="135.02" r="1.6" fill="#f27a7f"/>
<circle cx="354.57" cy="121.18" r="1.6" fill="#f27a7f"/>
<circle cx="361.90" cy="159.49" r="1.6" fill="#f27a7f"/>
<circle cx="353.67" cy="151.53" r="1.6" fill="#f27a7f"/>
<circle cx="356.76" cy="143.75" r="1.6" fill="#f27a7f"/>
<circle cx="356.42" cy="133.16" r="1.6" fill="#f27a7f"/>
<circle cx="361.44" cy="145.29" r="1.6" fill="#f27a7f"/>
<circle cx="355.72" cy="147.25" r="1.6" fill="#f27a7f"/>
<circle cx="353.58" cy="126.55" r="1.6" fill="#f27a7f"/>
<circle cx="352.89" cy="155.71" r="1.6" fill="#f27a7f"/>
<circle cx="353.77" cy="125.57" r="1.6" fill="#f27a7f"/>
<circle cx="359.61" cy="144.88" r="1.6" fill="#f27a7f"/>
<circle cx="360.21" cy="149.01" r="1.6" fill="#f27a7f"/>
<circle cx="352.89" cy="123.84" r="1.6" fill="#f27a7f"/>
<circle cx="356.01" cy="156.22" r="1.6" fill="#f27a7f"/>
<circle cx="355.93" cy="153.70" r="1.6" fill="#f27a7f"/>
<circle cx="354.02" cy="128.74" r="1.6" fill="#f27a7f"/>
<circle cx="358.63" cy="125.55" r="1.6" fill="#f27a7f"/>
<circle cx="355.10" cy="147.61" r="1.6" fill="#f27a7f"/>
<circle cx="354.92" cy="141.56" r="1.6" fill="#f27a7f"/>
<circle cx="358.01" cy="123.50" r="1.6" fill="#f27a7f"/>
<circle cx="361.58" cy="147.63" r="1.6" fill="#f27a7f"/>
<circle cx="357.00" cy="141.09" r="1.6" fill="#f27a7f"/>
<circle cx="351.91" cy="132.39" r="1.6" fill="#f27a7f"/>
<circle cx="374.26" cy="163.54" r="1.6" fill="#f27a7f"/>
<circle cx="358.59" cy="135.39" r="1.6" fill="#f27a7f"/>
<circle cx="356.41" cy="158.29" r="1.6" fill="#f27a7f"/>
<circle cx="361.78" cy="148.54" r="1.6" fill="#f27a7f"/>
<circle cx="360.58" cy="143.65" r="1.6" fill="#f27a7f"/>
<circle cx="354.45" cy="132.10" r="1.6" fill="#f27a7f"/>
<circle cx="354.25" cy="153.83" r="1.6" fill="#f27a7f"/>
<circle cx="358.37" cy="135.13" r="1.6" fill="#f27a7f"/>
<circle cx="358.96" cy="143.14" r="1.6" fill="#f27a7f"/>
<circle cx="352.87" cy="132.12" r="1.6" fill="#f27a7f"/>
<circle cx="352.98" cy="137.38" r="1.6" fill="#f27a7f"/>
<circle cx="359.93" cy="165.40" r="1.6" fill="#f27a7f"/>
<circle cx="352.59" cy="146.66" r="1.6" fill="#f27a7f"/>
<circle cx="355.29" cy="145.39" r="1.6" fill="#f27a7f"/>
<circle cx="351.96" cy="139.43" r="1.6" fill="#f27a7f"/>
<circle cx="358.15" cy="126.63" r="1.6" fill="#f27a7f"/>
<circle cx="353.46" cy="137.05" r="1.6" fill="#f27a7f"/>
<circle cx="353.99" cy="129.74" r="1.6" fill="#f27a7f"/>
<circle cx="351.88" cy="131.84" r="1.6" fill="#f27a7f"/>
<circle cx="355.32" cy="151.36" r="1.6" fill="#f27a7f"/>
<circle cx="357.17" cy="128.12" r="1.6" fill="#f27a7f"/>
<circle cx="354.43" cy="125.23" r="1.6" fill="#f27a7f"/>
<circle cx="353.64" cy="159.16" r="1.6" fill="#f27a7f"/>
<circle cx="358.98" cy="141.26" r="1.6" fill="#f27a7f"/>
<circle cx="353.93" cy="157.79" r="1.6" fill="#f27a7f"/>
<circle cx="357.36" cy="137.13" r="1.6" fill="#f27a7f"/>
<circle cx="359.44" cy="138.22" r="1.6" fill="#f27a7f"/>
<circle cx="358.67" cy="130.51" r="1.6" fill="#f27a7f"/>
<circle cx="353.62" cy="144.07" r="1.6" fill="#f27a7f"/>
<circle cx="352.60" cy="141.69" r="1.6" fill="#f27a7f"/>
<circle cx="354.67" cy="153.29" r="1.6" fill="#f27a7f"/>
<circle cx="365.27" cy="162.11" r="1.6" fill="#f27a7f"/>
<circle cx="353.48" cy="137.82" r="1.6" fill="#f27a7f"/>
<circle cx="353.71" cy="148.79" r="1.6" fill="#f27a7f"/>
<circle cx="353.89" cy="160.87" r="1.6" fill="#f27a7f"/>
<circle cx="356.75" cy="144.45" r="1.6" fill="#f27a7f"/>
<circle cx="357.37" cy="133.36" r="1.6" fill="#f27a7f"/>
<circle cx="356.95" cy="138.59" r="1.6" fill="#f27a7f"/>
<circle cx="354.65" cy="146.94" r="1.6" fill="#f27a7f"/>
<circle cx="352.13" cy="138.82" r="1.6" fill="#f27a7f"/>
<circle cx="358.09" cy="129.09" r="1.6" fill="#f27a7f"/>
<circle cx="356.75" cy="135.67" r="1.6" fill="#f27a7f"/>
<circle cx="356.42" cy="125.98" r="1.6" fill="#f27a7f"/>
<circle cx="355.57" cy="137.52" r="1.6" fill="#f27a7f"/>
<circle cx="352.04" cy="134.57" r="1.6" fill="#f27a7f"/>
<circle cx="353.29" cy="135.23" r="1.6" fill="#f27a7f"/>
<circle cx="357.39" cy="126.76" r="1.6" fill="#f27a7f"/>
<circle cx="354.62" cy="133.90" r="1.6" fill="#f27a7f"/>
<circle cx="370.59" cy="162.54" r="1.6" fill="#f27a7f"/>
<circle cx="369.95" cy="161.34" r="1.6" fill="#f27a7f"/>
<circle cx="354.33" cy="127.04" r="1.6" fill="#f27a7f"/>
<circle cx="356.59" cy="122.35" r="1.6" fill="#f27a7f"/>
<circle cx="355.43" cy="151.33" r="1.6" fill="#f27a7f"/>
<circle cx="357.14" cy="139.85" r="1.6" fill="#f27a7f"/>
<circle cx="354.47" cy="152.96" r="1.6" fill="#f27a7f"/>
<circle cx="357.80" cy="159.69" r="1.6" fill="#f27a7f"/>
<circle cx="353.42" cy="149.74" r="1.6" fill="#f27a7f"/>
<circle cx="358.78" cy="126.27" r="1.6" fill="#f27a7f"/>
<circle cx="360.87" cy="154.55" r="1.6" fill="#f27a7f"/>
<circle cx="353.14" cy="122.85" r="1.6" fill="#f27a7f"/>
<circle cx="353.59" cy="128.40" r="1.6" fill="#f27a7f"/>
<circle cx="354.48" cy="134.85" r="1.6" fill="#f27a7f"/>
<circle cx="354.64" cy="122.79" r="1.6" fill="#f27a7f"/>
<circle cx="353.41" cy="150.17" r="1.6" fill="#f27a7f"/>
<circle cx="361.53" cy="159.36" r="1.6" fill="#f27a7f"/>
<circle cx="354.67" cy="153.75" r="1.6" fill="#f27a7f"/>
<circle cx="357.54" cy="140.88" r="1.6" fill="#f27a7f"/>
<circle cx="351.47" cy="136.95" r="1.6" fill="#f27a7f"/>
<circle cx="364.98" cy="159.13" r="1.6" fill="#f27a7f"/>
<circle cx="351.87" cy="134.09" r="1.6" fill="#f27a7f"/>
<circle cx="362.68" cy="160.03" r="1.6" fill="#f27a7f"/>
<circle cx="354.27" cy="123.16" r="1.6" fill="#f27a7f"/>
<circle cx="357.97" cy="126.08" r="1.6" fill="#f27a7f"/>
<circle cx="358.40" cy="130.60" r="1.6" fill="#f27a7f"/>
<circle cx="352.58" cy="155.25" r="1.6" fill="#f27a7f"/>
<circle cx="356.22" cy="152.75" r="1.6" fill="#f27a7f"/>
<circle cx="362.72" cy="155.16" r="1.6" fill="#f27a7f"/>
<circle cx="352.23" cy="133.85" r="1.6" fill="#f27a7f"/>
<circle cx="363.16" cy="164.25" r="1.6" fill="#f27a7f"/>
<circle cx="369.87" cy="163.51" r="1.6" fill="#f27a7f"/>
<circle cx="362.53" cy="154.75" r="1.6" fill="#f27a7f"/>
<circle cx="356.42" cy="149.70" r="1.6" fill="#f27a7f"/>
<circle cx="356.90" cy="123.48" r="1.6" fill="#f27a7f"/>
<circle cx="355.95" cy="140.58" r="1.6" fill="#f27a7f"/>
<circle cx="354.79" cy="163.42" r="1.6" fill="#f27a7f"/>
<circle cx="352.01" cy="155.82" r="1.6" fill="#f27a7f"/>
<circle cx="361.43" cy="153.12" r="1.6" fill="#f27a7f"/>
<circle cx="355.65" cy="132.94" r="1.6" fill="#f27a7f"/>
<circle cx="370.02" cy="165.30" r="1.6" fill="#f27a7f"/>
<circle cx="353.95" cy="145.86" r="1.6" fill="#f27a7f"/>
<circle cx="354.93" cy="123.71" r="1.6" fill="#f27a7f"/>
<circle cx="353.15" cy="139.81" r="1.6" fill="#f27a7f"/>
<circle cx="352.58" cy="135.19" r="1.6" fill="#f27a7f"/>
<circle cx="359.82" cy="153.31" r="1.6" fill="#f27a7f"/>
<circle cx="353.38" cy="131.87" r="1.6" fill="#f27a7f"/>
<circle cx="355.80" cy="144.55" r="1.6" fill="#f27a7f"/>
<circle cx="360.91" cy="163.77" r="1.6" fill="#f27a7f"/>
<circle cx="358.39" cy="134.68" r="1.6" fill="#f27a7f"/>
<circle cx="356.25" cy="127.48" r="1.6" fill="#f27a7f"/>
<circle cx="358.02" cy="136.24" r="1.6" fill="#f27a7f"/>
<circle cx="359.19" cy="146.06" r="1.6" fill="#f27a7f"/>
<circle cx="356.83" cy="128.73" r="1.6" fill="#f27a7f"/>
<circle cx="356.37" cy="148.36" r="1.6" fill="#f27a7f"/>
<circle cx="363.17" cy="156.01" r="1.6" fill="#f27a7f"/>
<circle cx="354.53" cy="126.23" r="1.6" fill="#f27a7f"/>
<circle cx="353.14" cy="137.47" r="1.6" fill="#f27a7f"/>
<circle cx="354.48" cy="123.76" r="1.6" fill="#f27a7f"/>
<circle cx="356.94" cy="130.01" r="1.6" fill="#f27a7f"/>
<circle cx="352.43" cy="141.47" r="1.6" fill="#f27a7f"/>
<circle cx="355.22" cy="135.83" r="1.6" fill="#f27a7f"/>
<circle cx="352.83" cy="137.59" r="1.6" fill="#f27a7f"/>
<circle cx="352.84" cy="124.28" r="1.6" fill="#f27a7f"/>
<circle cx="374.41" cy="166.34" r="1.6" fill="#f27a7f"/>
<circle cx="357.26" cy="124.84" r="1.6" fill="#f27a7f"/>
<circle cx="368.25" cy="165.80" r="1.6" fill="#f27a7f"/>
<circle cx="355.92" cy="125.97" r="1.6" fill="#f27a7f"/>
<circle cx="353.10" cy="140.84" r="1.6" fill="#f27a7f"/>
<circle cx="351.48" cy="145.82" r="1.6" fill="#f27a7f"/>
<circle cx="368.18" cy="163.02" r="1.6" fill="#f27a7f"/>
<circle cx="361.76" cy="149.69" r="1.6" fill="#f27a7f"/>
<circle cx="354.25" cy="150.82" r="1.6" fill="#f27a7f"/>
<circle cx="352.61" cy="132.24" r="1.6" fill="#f27a7f"/>
<circle cx="357.08" cy="122.26" r="1.6" fill="#f27a7f"/>
<circle cx="356.67" cy="159.37" r="1.6" fill="#f27a7f"/>
<circle cx="356.54" cy="129.49" r="1.6" fill="#f27a7f"/>
<circle cx="368.18" cy="159.65" r="1.6" fill="#f27a7f"/>
<circle cx="357.66" cy="128.70" r="1.6" fill="#f27a7f"/>
<circle cx="364.23" cy="158.95" r="1.6" fill="#f27a7f"/>
<circle cx="352.96" cy="135.93" r="1.6" fill="#f27a7f"/>
<circle cx="356.85" cy="158.72" r="1.6" fill="#f27a7f"/>
<circle cx="356.01" cy="137.84" r="1.6" fill="#f27a7f"/>
<circle cx="358.34" cy="137.88" r="1.6" fill="#f27a7f"/>
<circle cx="351.91" cy="131.94" r="1.6" fill="#f27a7f"/>
<circle cx="357.96" cy="146.91" r="1.6" fill="#f27a7f"/>
<circle cx="363.19" cy="158.46" r="1.6" fill="#f27a7f"/>
<circle cx="374.36" cy="162.37" r="1.6" fill="#f27a7f"/>
<circle cx="356.22" cy="143.59" r="1.6" fill="#f27a7f"/>
<circle cx="354.33" cy="128.20" r="1.6" fill="#f27a7f"/>
<circle cx="352.25" cy="147.56" r="1.6" fill="#f27a7f"/>
<circle cx="353.37" cy="152.44" r="1.6" fill="#f27a7f"/>
<circle cx="360.19" cy="141.25" r="1.6" fill="#f27a7f"/>
<circle cx="352.95" cy="125.10" r="1.6" fill="#f27a7f"/>
<circle cx="353.12" cy="141.09" r="1.6" fill="#f27a7f"/>
<circle cx="351.44" cy="154.04" r="1.6" fill="#f27a7f"/>
<circle cx="366.66" cy="159.43" r="1.6" fill="#f27a7f"/>
<circle cx="357.75" cy="156.96" r="1.6" fill="#f27a7f"/>
<circle cx="356.59" cy="133.94" r="1.6" fill="#f27a7f"/>
<circle cx="355.56" cy="144.52" r="1.6" fill="#f27a7f"/>
<circle cx="355.01" cy="136.48" r="1.6" fill="#f27a7f"/>
<circle cx="360.89" cy="151.44" r="1.6" fill="#f27a7f"/>
<circle cx="355.37" cy="162.31" r="1.6" fill="#f27a7f"/>
<circle cx="354.95" cy="134.52" r="1.6" fill="#f27a7f"/>
<circle cx="355.02" cy="146.75" r="1.6" fill="#f27a7f"/>
<circle cx="352.55" cy="129.93" r="1.6" fill="#f27a7f"/>
<circle cx="355.15" cy="135.79" r="1.6" fill="#f27a7f"/>
<circle cx="378.05" cy="165.39" r="1.6" fill="#f27a7f"/>
<circle cx="370.31" cy="160.55" r="1.6" fill="#f27a7f"/>
<circle cx="369.21" cy="164.96" r="1.6" fill="#f27a7f"/>
<circle cx="352.37" cy="158.07" r="1.6" fill="#f27a7f"/>
<circle cx="358.55" cy="151.91" r="1.6" fill="#f27a7f"/>
<circle cx="355.95" cy="134.57" r="1.6" fill="#f27a7f"/>
<circle cx="364.93" cy="164.54" r="1.6" fill="#f27a7f"/>
<circle cx="354.78" cy="150.58" r="1.6" fill="#f27a7f"/>
<circle cx="358.64" cy="136.69" r="1.6" fill="#f27a7f"/>
<circle cx="353.98" cy="122.27" r="1.6" fill="#f27a7f"/>
<circle cx="356.68" cy="152.02" r="1.6" fill="#f27a7f"/>
<circle cx="356.91" cy="124.89" r="1.6" fill="#f27a7f"/>
<circle cx="356.27" cy="138.00" r="1.6" fill="#f27a7f"/>
<circle cx="356.04" cy="140.03" r="1.6" fill="#f27a7f"/>
<circle cx="355.53" cy="146.81" r="1.6" fill="#f27a7f"/>
<circle cx="353.79" cy="126.22" r="1.6" fill="#f27a7f"/>
<circle cx="363.69" cy="161.67" r="1.6" fill="#f27a7f"/>
<circle cx="358.45" cy="126.13" r="1.6" fill="#f27a7f"/>
<circle cx="352.29" cy="132.58" r="1.6" fill="#f27a7f"/>
<circle cx="353.93" cy="145.26" r="1.6" fill="#f27a7f"/>
<circle cx="356.71" cy="143.36" r="1.6" fill="#f27a7f"/>
<circle cx="355.86" cy="131.35" r="1.6" fill="#f27a7f"/>
<circle cx="356.07" cy="126.16" r="1.6" fill="#f27a7f"/>
<circle cx="352.26" cy="147.89" r="1.6" fill="#f27a7f"/>
<circle cx="352.04" cy="139.65" r="1.6" fill="#f27a7f"/>
<circle cx="359.19" cy="141.09" r="1.6" fill="#f27a7f"/>
<circle cx="358.74" cy="146.16" r="1.6" fill="#f27a7f"/>
<circle cx="352.99" cy="155.59" r="1.6" fill="#f27a7f"/>
<circle cx="373.46" cy="166.27" r="1.6" fill="#f27a7f"/>
<circle cx="358.17" cy="125.67" r="1.6" fill="#f27a7f"/>
<circle cx="352.86" cy="138.91" r="1.6" fill="#f27a7f"/>
<circle cx="367.51" cy="164.87" r="1.6" fill="#f27a7f"/>
<circle cx="353.37" cy="156.42" r="1.6" fill="#f27a7f"/>
<circle cx="352.23" cy="156.47" r="1.6" fill="#f27a7f"/>
<circle cx="354.34" cy="131.83" r="1.6" fill="#f27a7f"/>
<circle cx="356.05" cy="121.69" r="1.6" fill="#f27a7f"/>
<circle cx="353.97" cy="130.74" r="1.6" fill="#f27a7f"/>
<circle cx="356.76" cy="153.33" r="1.6" fill="#f27a7f"/>
<circle cx="365.23" cy="161.61" r="1.6" fill="#f27a7f"/>
<circle cx="362.79" cy="160.86" r="1.6" fill="#f27a7f"/>
<circle cx="373.88" cy="162.93" r="1.6" fill="#f27a7f"/>
<circle cx="357.39" cy="128.68" r="1.6" fill="#f27a7f"/>
<circle cx="357.65" cy="136.60" r="1.6" fill="#f27a7f"/>
<circle cx="361.19" cy="152.10" r="1.6" fill="#f27a7f"/>
<circle cx="355.05" cy="126.61" r="1.6" fill="#f27a7f"/>
<circle cx="364.08" cy="154.69" r="1.6" fill="#f27a7f"/>
<circle cx="351.96" cy="153.99" r="1.6" fill="#f27a7f"/>
<circle cx="352.48" cy="148.59" r="1.6" fill="#f27a7f"/>
<circle cx="359.63" cy="146.08" r="1.6" fill="#f27a7f"/>
<circle cx="358.88" cy="126.16" r="1.6" fill="#f27a7f"/>
<circle cx="354.38" cy="151.86" r="1.6" fill="#f27a7f"/>
<circle cx="355.14" cy="129.83" r="1.6" fill="#f27a7f"/>
<circle cx="361.69" cy="159.30" r="1.6" fill="#f27a7f"/>
<circle cx="352.71" cy="126.19" r="1.6" fill="#f27a7f"/>
<circle cx="358.04" cy="126.05" r="1.6" fill="#f27a7f"/>
<circle cx="355.95" cy="129.47" r="1.6" fill="#f27a7f"/>
<circle cx="356.82" cy="134.25" r="1.6" fill="#f27a7f"/>
<circle cx="352.63" cy="138.40" r="1.6" fill="#f27a7f"/>
<circle cx="362.51" cy="161.01" r="1.6" fill="#f27a7f"/>
<circle cx="361.17" cy="152.51" r="1.6" fill="#f27a7f"/>
<circle cx="351.78" cy="164.36" r="1.6" fill="#f27a7f"/>
<circle cx="352.69" cy="136.65" r="1.6" fill="#f27a7f"/>
<circle cx="359.90" cy="143.93" r="1.6" fill="#f27a7f"/>
<circle cx="351.96" cy="157.58" r="1.6" fill="#f27a7f"/>
<circle cx="369.30" cy="33.10" r="1.6" fill="#f27a7f"/>
<circle cx="359.60" cy="54.30" r="1.6" fill="#f27a7f"/>
<circle cx="359.20" cy="72.40" r="1.6" fill="#f27a7f"/>
<circle cx="370.30" cy="82.50" r="1.6" fill="#f27a7f"/>
<circle cx="370.00" cy="86.00" r="1.6" fill="#f27a7f"/>
<circle cx="363.90" cy="91.40" r="1.6" fill="#f27a7f"/>
<circle cx="371.60" cy="91.40" r="1.6" fill="#f27a7f"/>
<circle cx="359.70" cy="101.40" r="1.6" fill="#f27a7f"/>
<circle cx="361.40" cy="100.60" r="1.6" fill="#f27a7f"/>
<circle cx="356.30" cy="104.80" r="1.6" fill="#f27a7f"/>
<circle cx="357.10" cy="108.00" r="1.6" fill="#f27a7f"/>
<circle cx="355.20" cy="111.90" r="1.6" fill="#f27a7f"/>
<circle cx="357.80" cy="111.20" r="1.6" fill="#f27a7f"/>
<circle cx="367.80" cy="110.30" r="1.6" fill="#f27a7f"/>
<circle cx="376.30" cy="111.60" r="1.6" fill="#f27a7f"/>
<circle cx="372.90" cy="114.70" r="1.6" fill="#f27a7f"/>
<circle cx="360.30" cy="113.80" r="1.6" fill="#f27a7f"/>
<circle cx="364.80" cy="115.40" r="1.6" fill="#f27a7f"/>
<circle cx="366.70" cy="117.00" r="1.6" fill="#f27a7f"/>
<circle cx="354.00" cy="118.50" r="1.6" fill="#f27a7f"/>
<circle cx="362.30" cy="118.90" r="1.6" fill="#f27a7f"/>
<circle cx="371.60" cy="123.40" r="1.6" fill="#f27a7f"/>
<circle cx="368.40" cy="128.20" r="1.6" fill="#f27a7f"/>
<circle cx="361.60" cy="123.40" r="1.6" fill="#f27a7f"/>
<circle cx="362.30" cy="134.20" r="1.6" fill="#f27a7f"/>
<circle cx="369.30" cy="135.50" r="1.6" fill="#f27a7f"/>
<circle cx="366.70" cy="138.50" r="1.6" fill="#f27a7f"/>
<circle cx="368.00" cy="146.10" r="1.6" fill="#f27a7f"/>
<circle cx="378.00" cy="148.30" r="1.6" fill="#f27a7f"/>
<circle cx="375.70" cy="151.80" r="1.6" fill="#f27a7f"/>
<circle cx="379.50" cy="155.10" r="1.6" fill="#f27a7f"/>
<circle cx="387.80" cy="160.40" r="1.6" fill="#f27a7f"/>
<circle cx="368.40" cy="151.50" r="1.6" fill="#f27a7f"/>
<line x1="345.40" y1="16.80" x2="345.40" y2="167.30" stroke="#111" stroke-width="1.3" stroke-dasharray="1.5,2.9"/>
<path d="M280.00,15.80 H410.80 V167.30" fill="none" stroke="#333" stroke-width="1.1"/>
<path d="M280.00,15.80 V167.30 H410.80" fill="none" stroke="#333" stroke-width="1.2"/>
<line x1="274.80" y1="167.30" x2="280.00" y2="167.30" stroke="#333" stroke-width="1.2" />
<text x="272.60" y="170.90" font-size="10.0" text-anchor="end" fill="#231f20" font-weight="normal" font-family="Liberation Sans" >0</text>
<line x1="274.80" y1="104.18" x2="280.00" y2="104.18" stroke="#333" stroke-width="1.2" />
<text x="272.60" y="107.78" font-size="10.0" text-anchor="end" fill="#231f20" font-weight="normal" font-family="Liberation Sans" >50</text>
<line x1="274.80" y1="41.05" x2="280.00" y2="41.05" stroke="#333" stroke-width="1.2" />
<text x="272.60" y="44.65" font-size="10.0" text-anchor="end" fill="#231f20" font-weight="normal" font-family="Liberation Sans" >100</text>
<line x1="280.00" y1="167.30" x2="280.00" y2="172.90" stroke="#333" stroke-width="1.2" />
<text transform="translate(283.00,179.70) rotate(-45)" font-size="10" text-anchor="end" fill="#231f20" font-family="Liberation Sans">−10</text>
<line x1="293.08" y1="167.30" x2="293.08" y2="172.90" stroke="#333" stroke-width="1.2" />
<text transform="translate(296.08,179.70) rotate(-45)" font-size="10" text-anchor="end" fill="#231f20" font-family="Liberation Sans">−8</text>
<line x1="306.16" y1="167.30" x2="306.16" y2="172.90" stroke="#333" stroke-width="1.2" />
<text transform="translate(309.16,179.70) rotate(-45)" font-size="10" text-anchor="end" fill="#231f20" font-family="Liberation Sans">−6</text>
<line x1="319.24" y1="167.30" x2="319.24" y2="172.90" stroke="#333" stroke-width="1.2" />
<text transform="translate(322.24,179.70) rotate(-45)" font-size="10" text-anchor="end" fill="#231f20" font-family="Liberation Sans">−4</text>
<line x1="332.32" y1="167.30" x2="332.32" y2="172.90" stroke="#333" stroke-width="1.2" />
<text transform="translate(335.32,179.70) rotate(-45)" font-size="10" text-anchor="end" fill="#231f20" font-family="Liberation Sans">−2</text>
<line x1="345.40" y1="167.30" x2="345.40" y2="172.90" stroke="#333" stroke-width="1.2" />
<text transform="translate(348.40,179.70) rotate(-45)" font-size="10" text-anchor="end" fill="#231f20" font-family="Liberation Sans">0</text>
<line x1="358.48" y1="167.30" x2="358.48" y2="172.90" stroke="#333" stroke-width="1.2" />
<text transform="translate(361.48,179.70) rotate(-45)" font-size="10" text-anchor="end" fill="#231f20" font-family="Liberation Sans">2</text>
<line x1="371.56" y1="167.30" x2="371.56" y2="172.90" stroke="#333" stroke-width="1.2" />
<text transform="translate(374.56,179.70) rotate(-45)" font-size="10" text-anchor="end" fill="#231f20" font-family="Liberation Sans">4</text>
<line x1="384.64" y1="167.30" x2="384.64" y2="172.90" stroke="#333" stroke-width="1.2" />
<text transform="translate(387.64,179.70) rotate(-45)" font-size="10" text-anchor="end" fill="#231f20" font-family="Liberation Sans">6</text>
<line x1="397.72" y1="167.30" x2="397.72" y2="172.90" stroke="#333" stroke-width="1.2" />
<text transform="translate(400.72,179.70) rotate(-45)" font-size="10" text-anchor="end" fill="#231f20" font-family="Liberation Sans">8</text>
<line x1="410.80" y1="167.30" x2="410.80" y2="172.90" stroke="#333" stroke-width="1.2" />
<text transform="translate(413.80,179.70) rotate(-45)" font-size="10" text-anchor="end" fill="#231f20" font-family="Liberation Sans">10</text>
<text x="352.00" y="9.70" font-size="8.4" text-anchor="middle" fill="#231f20" font-weight="normal" font-family="Liberation Sans" >MIA PaCa-2</text>
<text x="305.60" y="197.80" font-size="8.9" text-anchor="start" fill="#231f20" font-weight="normal" font-family="Liberation Sans" >log2(FoldChange)</text>
<text transform="translate(256.50,94.05) rotate(-90)" font-size="8.95" text-anchor="middle" fill="#231f20" font-family="Liberation Sans">-log10(adjusted P value)</text>
<text x="325.30" y="58.50" font-size="8.0" text-anchor="end" fill="#231f20" font-weight="normal" font-family="Liberation Sans" >DAP</text>
<text x="330.50" y="92.70" font-size="8.0" text-anchor="end" fill="#231f20" font-weight="normal" font-family="Liberation Sans" >MLEC</text>
<text x="330.50" y="102.20" font-size="8.0" text-anchor="end" fill="#231f20" font-weight="normal" font-family="Liberation Sans" >GALNT10</text>
<text x="326.00" y="118.00" font-size="8.0" text-anchor="end" fill="#231f20" font-weight="normal" font-family="Liberation Sans" >H2AX</text>
<text x="323.80" y="128.20" font-size="8.0" text-anchor="end" fill="#231f20" font-weight="normal" font-family="Liberation Sans" >SAPCD2</text>
<text x="373.90" y="36.00" font-size="8.0" text-anchor="start" fill="#231f20" font-weight="normal" font-family="Liberation Sans" >TSC22D3</text>
<text x="364.20" y="57.30" font-size="8.0" text-anchor="start" fill="#231f20" font-weight="normal" font-family="Liberation Sans" >COL3A1</text>
<text x="363.70" y="75.40" font-size="8.0" text-anchor="start" fill="#231f20" font-weight="normal" font-family="Liberation Sans" >SLC2A3</text>
<text x="376.10" y="95.20" font-size="8.0" text-anchor="start" fill="#231f20" font-weight="normal" font-family="Liberation Sans" >INHBE</text>
<text x="380.60" y="114.90" font-size="8.0" text-anchor="start" fill="#231f20" font-weight="normal" font-family="Liberation Sans" >GDF15</text>
<text x="376.10" y="126.80" font-size="8.0" text-anchor="start" fill="#231f20" font-weight="normal" font-family="Liberation Sans" >CCND2</text>
<text x="323.00" y="148.50" font-size="8.0" text-anchor="end" fill="#231f20" font-weight="bold" font-family="Liberation Sans" >BRCA1</text>
<line x1="322.60" y1="150.00" x2="335.00" y2="154.60" stroke="#111" stroke-width="1.0" />
<line x1="335.00" y1="151.50" x2="335.00" y2="157.50" stroke="#111" stroke-width="1.0" />
<text x="476.00" y="9.50" font-size="12.5" text-anchor="start" fill="#231f20" font-weight="bold" font-family="Liberation Sans" >c</text>
<polygon points="568.70,131.50 568.20,145.50 565.20,147.50 566.70,149.50 566.70,155.50 563.20,157.50 562.20,160.50 556.20,163.50 553.20,166.90 572.10,166.90 571.80,163.50 571.80,160.50 571.80,157.50 571.80,155.50 571.50,149.50 571.30,147.50 571.30,145.50 571.30,131.50" fill="#7884c6"/>
<circle cx="570.53" cy="137.34" r="1.6" fill="#7884c6"/>
<circle cx="568.78" cy="154.65" r="1.6" fill="#7884c6"/>
<circle cx="566.80" cy="147.56" r="1.6" fill="#7884c6"/>
<circle cx="565.56" cy="160.41" r="1.6" fill="#7884c6"/>
<circle cx="566.90" cy="161.38" r="1.6" fill="#7884c6"/>
<circle cx="569.63" cy="133.64" r="1.6" fill="#7884c6"/>
<circle cx="570.68" cy="138.53" r="1.6" fill="#7884c6"/>
<circle cx="567.28" cy="151.50" r="1.6" fill="#7884c6"/>
<circle cx="569.61" cy="136.91" r="1.6" fill="#7884c6"/>
<circle cx="568.76" cy="147.28" r="1.6" fill="#7884c6"/>
<circle cx="569.43" cy="144.50" r="1.6" fill="#7884c6"/>
<circle cx="570.14" cy="131.21" r="1.6" fill="#7884c6"/>
<circle cx="568.73" cy="142.62" r="1.6" fill="#7884c6"/>
<circle cx="570.83" cy="146.99" r="1.6" fill="#7884c6"/>
<circle cx="569.31" cy="132.58" r="1.6" fill="#7884c6"/>
<circle cx="568.26" cy="154.35" r="1.6" fill="#7884c6"/>
<circle cx="569.83" cy="140.51" r="1.6" fill="#7884c6"/>
<circle cx="569.98" cy="140.12" r="1.6" fill="#7884c6"/>
<circle cx="570.95" cy="149.38" r="1.6" fill="#7884c6"/>
<circle cx="554.96" cy="165.53" r="1.6" fill="#7884c6"/>
<circle cx="570.24" cy="150.51" r="1.6" fill="#7884c6"/>
<circle cx="568.80" cy="161.36" r="1.6" fill="#7884c6"/>
<circle cx="569.77" cy="153.03" r="1.6" fill="#7884c6"/>
<circle cx="569.28" cy="143.63" r="1.6" fill="#7884c6"/>
<circle cx="570.34" cy="158.68" r="1.6" fill="#7884c6"/>
<circle cx="566.54" cy="163.66" r="1.6" fill="#7884c6"/>
<circle cx="570.38" cy="141.58" r="1.6" fill="#7884c6"/>
<circle cx="567.80" cy="156.74" r="1.6" fill="#7884c6"/>
<circle cx="568.57" cy="153.11" r="1.6" fill="#7884c6"/>
<circle cx="568.75" cy="150.17" r="1.6" fill="#7884c6"/>
<circle cx="569.66" cy="133.10" r="1.6" fill="#7884c6"/>
<circle cx="570.87" cy="142.25" r="1.6" fill="#7884c6"/>
<circle cx="567.93" cy="147.76" r="1.6" fill="#7884c6"/>
<circle cx="569.29" cy="139.47" r="1.6" fill="#7884c6"/>
<circle cx="568.97" cy="143.15" r="1.6" fill="#7884c6"/>
<circle cx="570.67" cy="131.25" r="1.6" fill="#7884c6"/>
<circle cx="568.15" cy="146.77" r="1.6" fill="#7884c6"/>
<circle cx="568.34" cy="150.79" r="1.6" fill="#7884c6"/>
<circle cx="569.02" cy="136.88" r="1.6" fill="#7884c6"/>
<circle cx="569.40" cy="141.49" r="1.6" fill="#7884c6"/>
<circle cx="568.46" cy="156.29" r="1.6" fill="#7884c6"/>
<circle cx="561.30" cy="163.62" r="1.6" fill="#7884c6"/>
<circle cx="565.21" cy="163.06" r="1.6" fill="#7884c6"/>
<circle cx="569.34" cy="133.79" r="1.6" fill="#7884c6"/>
<circle cx="571.16" cy="151.20" r="1.6" fill="#7884c6"/>
<circle cx="570.39" cy="143.42" r="1.6" fill="#7884c6"/>
<circle cx="570.42" cy="145.90" r="1.6" fill="#7884c6"/>
<circle cx="569.93" cy="133.36" r="1.6" fill="#7884c6"/>
<circle cx="561.71" cy="162.29" r="1.6" fill="#7884c6"/>
<circle cx="568.83" cy="139.96" r="1.6" fill="#7884c6"/>
<circle cx="569.43" cy="136.73" r="1.6" fill="#7884c6"/>
<circle cx="567.34" cy="155.51" r="1.6" fill="#7884c6"/>
<circle cx="569.06" cy="144.91" r="1.6" fill="#7884c6"/>
<circle cx="570.69" cy="151.98" r="1.6" fill="#7884c6"/>
<circle cx="567.93" cy="153.55" r="1.6" fill="#7884c6"/>
<circle cx="571.14" cy="156.54" r="1.6" fill="#7884c6"/>
<circle cx="567.43" cy="151.92" r="1.6" fill="#7884c6"/>
<circle cx="570.34" cy="159.17" r="1.6" fill="#7884c6"/>
<circle cx="568.98" cy="142.87" r="1.6" fill="#7884c6"/>
<circle cx="569.96" cy="137.55" r="1.6" fill="#7884c6"/>
<circle cx="567.18" cy="161.47" r="1.6" fill="#7884c6"/>
<circle cx="559.66" cy="163.12" r="1.6" fill="#7884c6"/>
<circle cx="570.35" cy="142.37" r="1.6" fill="#7884c6"/>
<circle cx="568.81" cy="153.58" r="1.6" fill="#7884c6"/>
<circle cx="568.55" cy="154.63" r="1.6" fill="#7884c6"/>
<circle cx="569.80" cy="133.00" r="1.6" fill="#7884c6"/>
<circle cx="570.21" cy="132.58" r="1.6" fill="#7884c6"/>
<circle cx="569.78" cy="142.64" r="1.6" fill="#7884c6"/>
<circle cx="568.16" cy="151.81" r="1.6" fill="#7884c6"/>
<circle cx="565.77" cy="147.13" r="1.6" fill="#7884c6"/>
<circle cx="564.88" cy="163.20" r="1.6" fill="#7884c6"/>
<circle cx="555.47" cy="165.37" r="1.6" fill="#7884c6"/>
<circle cx="570.12" cy="152.37" r="1.6" fill="#7884c6"/>
<circle cx="568.90" cy="142.45" r="1.6" fill="#7884c6"/>
<circle cx="569.19" cy="136.44" r="1.6" fill="#7884c6"/>
<circle cx="564.09" cy="157.70" r="1.6" fill="#7884c6"/>
<circle cx="566.45" cy="159.33" r="1.6" fill="#7884c6"/>
<circle cx="569.48" cy="149.75" r="1.6" fill="#7884c6"/>
<circle cx="569.77" cy="150.31" r="1.6" fill="#7884c6"/>
<circle cx="568.47" cy="151.93" r="1.6" fill="#7884c6"/>
<circle cx="565.88" cy="156.79" r="1.6" fill="#7884c6"/>
<circle cx="570.07" cy="155.76" r="1.6" fill="#7884c6"/>
<circle cx="565.78" cy="158.00" r="1.6" fill="#7884c6"/>
<circle cx="571.22" cy="157.89" r="1.6" fill="#7884c6"/>
<circle cx="567.32" cy="146.77" r="1.6" fill="#7884c6"/>
<circle cx="570.87" cy="149.21" r="1.6" fill="#7884c6"/>
<circle cx="568.95" cy="135.59" r="1.6" fill="#7884c6"/>
<circle cx="569.25" cy="147.56" r="1.6" fill="#7884c6"/>
<circle cx="566.23" cy="157.94" r="1.6" fill="#7884c6"/>
<circle cx="558.37" cy="165.44" r="1.6" fill="#7884c6"/>
<circle cx="564.20" cy="157.33" r="1.6" fill="#7884c6"/>
<circle cx="569.31" cy="131.97" r="1.6" fill="#7884c6"/>
<circle cx="569.97" cy="133.09" r="1.6" fill="#7884c6"/>
<circle cx="567.84" cy="150.32" r="1.6" fill="#7884c6"/>
<circle cx="561.64" cy="163.70" r="1.6" fill="#7884c6"/>
<circle cx="569.27" cy="136.20" r="1.6" fill="#7884c6"/>
<circle cx="570.83" cy="156.67" r="1.6" fill="#7884c6"/>
<circle cx="568.96" cy="136.64" r="1.6" fill="#7884c6"/>
<circle cx="565.22" cy="158.08" r="1.6" fill="#7884c6"/>
<circle cx="563.11" cy="165.19" r="1.6" fill="#7884c6"/>
<circle cx="568.55" cy="153.14" r="1.6" fill="#7884c6"/>
<circle cx="566.85" cy="158.86" r="1.6" fill="#7884c6"/>
<circle cx="570.69" cy="142.27" r="1.6" fill="#7884c6"/>
<circle cx="570.38" cy="134.75" r="1.6" fill="#7884c6"/>
<circle cx="570.23" cy="133.28" r="1.6" fill="#7884c6"/>
<circle cx="570.59" cy="144.98" r="1.6" fill="#7884c6"/>
<circle cx="570.08" cy="133.09" r="1.6" fill="#7884c6"/>
<circle cx="570.68" cy="145.27" r="1.6" fill="#7884c6"/>
<circle cx="565.64" cy="163.88" r="1.6" fill="#7884c6"/>
<circle cx="569.35" cy="138.80" r="1.6" fill="#7884c6"/>
<circle cx="569.70" cy="140.13" r="1.6" fill="#7884c6"/>
<circle cx="569.24" cy="139.05" r="1.6" fill="#7884c6"/>
<circle cx="568.56" cy="157.42" r="1.6" fill="#7884c6"/>
<circle cx="570.89" cy="141.39" r="1.6" fill="#7884c6"/>
<circle cx="570.01" cy="138.54" r="1.6" fill="#7884c6"/>
<circle cx="570.63" cy="136.45" r="1.6" fill="#7884c6"/>
<circle cx="563.12" cy="161.25" r="1.6" fill="#7884c6"/>
<circle cx="570.01" cy="157.15" r="1.6" fill="#7884c6"/>
<circle cx="569.46" cy="140.83" r="1.6" fill="#7884c6"/>
<circle cx="570.48" cy="147.90" r="1.6" fill="#7884c6"/>
<circle cx="570.27" cy="136.62" r="1.6" fill="#7884c6"/>
<circle cx="568.98" cy="151.80" r="1.6" fill="#7884c6"/>
<circle cx="570.73" cy="151.16" r="1.6" fill="#7884c6"/>
<circle cx="570.66" cy="138.30" r="1.6" fill="#7884c6"/>
<circle cx="566.10" cy="36.90" r="1.6" fill="#7884c6"/>
<circle cx="566.60" cy="65.10" r="1.6" fill="#7884c6"/>
<circle cx="560.50" cy="77.60" r="1.6" fill="#7884c6"/>
<circle cx="569.50" cy="79.10" r="1.6" fill="#7884c6"/>
<circle cx="569.50" cy="86.60" r="1.6" fill="#7884c6"/>
<circle cx="570.20" cy="109.20" r="1.6" fill="#7884c6"/>
<circle cx="571.00" cy="119.70" r="1.6" fill="#7884c6"/>
<circle cx="564.80" cy="128.70" r="1.6" fill="#7884c6"/>
<circle cx="566.80" cy="128.50" r="1.6" fill="#7884c6"/>
<circle cx="568.80" cy="128.70" r="1.6" fill="#7884c6"/>
<circle cx="570.80" cy="128.50" r="1.6" fill="#7884c6"/>
<circle cx="572.00" cy="129.20" r="1.6" fill="#7884c6"/>
<circle cx="557.60" cy="152.70" r="1.6" fill="#7884c6"/>
<circle cx="558.30" cy="157.60" r="1.6" fill="#7884c6"/>
<circle cx="564.70" cy="153.50" r="1.6" fill="#7884c6"/>
<circle cx="544.80" cy="165.00" r="1.6" fill="#7884c6"/>
<circle cx="548.90" cy="164.00" r="1.6" fill="#7884c6"/>
<circle cx="550.00" cy="165.10" r="1.6" fill="#7884c6"/>
<circle cx="547.00" cy="165.50" r="1.6" fill="#7884c6"/>
<circle cx="553.00" cy="164.60" r="1.6" fill="#7884c6"/>
<polygon points="586.70,152.00 586.20,155.50 585.20,158.50 584.20,161.00 584.20,163.00 584.20,164.50 584.20,166.90 602.80,166.90 599.80,164.50 593.80,163.00 589.80,161.00 589.30,158.50 589.30,155.50 588.80,152.00" fill="#f27a7f"/>
<circle cx="588.27" cy="156.65" r="1.6" fill="#f27a7f"/>
<circle cx="587.19" cy="163.85" r="1.6" fill="#f27a7f"/>
<circle cx="598.75" cy="163.85" r="1.6" fill="#f27a7f"/>
<circle cx="586.41" cy="155.76" r="1.6" fill="#f27a7f"/>
<circle cx="588.58" cy="153.10" r="1.6" fill="#f27a7f"/>
<circle cx="588.30" cy="151.63" r="1.6" fill="#f27a7f"/>
<circle cx="588.20" cy="153.66" r="1.6" fill="#f27a7f"/>
<circle cx="587.19" cy="152.89" r="1.6" fill="#f27a7f"/>
<circle cx="585.17" cy="161.26" r="1.6" fill="#f27a7f"/>
<circle cx="588.68" cy="156.36" r="1.6" fill="#f27a7f"/>
<circle cx="591.03" cy="161.74" r="1.6" fill="#f27a7f"/>
<circle cx="585.15" cy="165.51" r="1.6" fill="#f27a7f"/>
<circle cx="588.41" cy="154.85" r="1.6" fill="#f27a7f"/>
<circle cx="584.85" cy="161.36" r="1.6" fill="#f27a7f"/>
<circle cx="586.18" cy="158.72" r="1.6" fill="#f27a7f"/>
<circle cx="586.05" cy="157.66" r="1.6" fill="#f27a7f"/>
<circle cx="588.43" cy="151.79" r="1.6" fill="#f27a7f"/>
<circle cx="588.58" cy="156.03" r="1.6" fill="#f27a7f"/>
<circle cx="587.73" cy="153.22" r="1.6" fill="#f27a7f"/>
<circle cx="587.62" cy="153.44" r="1.6" fill="#f27a7f"/>
<circle cx="588.13" cy="154.06" r="1.6" fill="#f27a7f"/>
<circle cx="588.20" cy="153.62" r="1.6" fill="#f27a7f"/>
<circle cx="585.75" cy="158.66" r="1.6" fill="#f27a7f"/>
<circle cx="587.48" cy="156.56" r="1.6" fill="#f27a7f"/>
<circle cx="590.05" cy="164.64" r="1.6" fill="#f27a7f"/>
<circle cx="588.77" cy="154.58" r="1.6" fill="#f27a7f"/>
<circle cx="595.54" cy="164.13" r="1.6" fill="#f27a7f"/>
<circle cx="586.90" cy="155.40" r="1.6" fill="#f27a7f"/>
<circle cx="586.67" cy="155.28" r="1.6" fill="#f27a7f"/>
<circle cx="587.76" cy="152.12" r="1.6" fill="#f27a7f"/>
<circle cx="587.53" cy="157.34" r="1.6" fill="#f27a7f"/>
<circle cx="586.07" cy="156.69" r="1.6" fill="#f27a7f"/>
<circle cx="588.83" cy="161.34" r="1.6" fill="#f27a7f"/>
<circle cx="587.32" cy="159.28" r="1.6" fill="#f27a7f"/>
<circle cx="591.03" cy="161.37" r="1.6" fill="#f27a7f"/>
<circle cx="595.22" cy="164.00" r="1.6" fill="#f27a7f"/>
<circle cx="586.83" cy="157.21" r="1.6" fill="#f27a7f"/>
<circle cx="588.82" cy="157.49" r="1.6" fill="#f27a7f"/>
<circle cx="587.07" cy="157.04" r="1.6" fill="#f27a7f"/>
<circle cx="586.25" cy="157.36" r="1.6" fill="#f27a7f"/>
<circle cx="584.69" cy="165.78" r="1.6" fill="#f27a7f"/>
<circle cx="589.00" cy="160.19" r="1.6" fill="#f27a7f"/>
<circle cx="587.99" cy="155.14" r="1.6" fill="#f27a7f"/>
<circle cx="586.68" cy="156.89" r="1.6" fill="#f27a7f"/>
<circle cx="586.94" cy="154.34" r="1.6" fill="#f27a7f"/>
<circle cx="594.81" cy="163.56" r="1.6" fill="#f27a7f"/>
<circle cx="585.36" cy="164.49" r="1.6" fill="#f27a7f"/>
<circle cx="586.76" cy="161.43" r="1.6" fill="#f27a7f"/>
<circle cx="587.50" cy="160.74" r="1.6" fill="#f27a7f"/>
<circle cx="588.83" cy="156.01" r="1.6" fill="#f27a7f"/>
<circle cx="588.07" cy="151.51" r="1.6" fill="#f27a7f"/>
<circle cx="591.55" cy="163.70" r="1.6" fill="#f27a7f"/>
<circle cx="589.27" cy="159.97" r="1.6" fill="#f27a7f"/>
<circle cx="588.04" cy="154.85" r="1.6" fill="#f27a7f"/>
<circle cx="587.65" cy="162.13" r="1.6" fill="#f27a7f"/>
<circle cx="587.42" cy="161.68" r="1.6" fill="#f27a7f"/>
<circle cx="587.59" cy="159.03" r="1.6" fill="#f27a7f"/>
<circle cx="585.30" cy="69.70" r="1.6" fill="#f27a7f"/>
<circle cx="597.10" cy="81.50" r="1.6" fill="#f27a7f"/>
<circle cx="584.60" cy="119.70" r="1.6" fill="#f27a7f"/>
<circle cx="586.50" cy="122.70" r="1.6" fill="#f27a7f"/>
<circle cx="585.20" cy="126.80" r="1.6" fill="#f27a7f"/>
<circle cx="585.20" cy="137.10" r="1.6" fill="#f27a7f"/>
<circle cx="589.60" cy="138.30" r="1.6" fill="#f27a7f"/>
<circle cx="594.00" cy="161.10" r="1.6" fill="#f27a7f"/>
<circle cx="597.70" cy="160.40" r="1.6" fill="#f27a7f"/>
<circle cx="596.70" cy="164.00" r="1.6" fill="#f27a7f"/>
<circle cx="607.20" cy="165.40" r="1.6" fill="#f27a7f"/>
<circle cx="614.40" cy="164.40" r="1.6" fill="#f27a7f"/>
<circle cx="589.10" cy="160.10" r="1.6" fill="#f27a7f"/>
<circle cx="588.80" cy="153.50" r="1.6" fill="#f27a7f"/>
<circle cx="600.00" cy="164.50" r="1.6" fill="#f27a7f"/>
<circle cx="592.00" cy="163.00" r="1.6" fill="#f27a7f"/>
<circle cx="569.30" cy="134.30" r="3.0" fill="#1c2356"/>
<line x1="577.90" y1="15.30" x2="577.90" y2="166.40" stroke="#111" stroke-width="1.3" stroke-dasharray="1.5,2.9"/>
<path d="M512.50,14.30 H643.30 V166.40" fill="none" stroke="#333" stroke-width="1.1"/>
<path d="M512.50,14.30 V166.40 H643.30" fill="none" stroke="#333" stroke-width="1.2"/>
<line x1="507.30" y1="166.40" x2="512.50" y2="166.40" stroke="#333" stroke-width="1.2" />
<text x="502.50" y="170.00" font-size="10.0" text-anchor="end" fill="#231f20" font-weight="normal" font-family="Liberation Sans" >0</text>
<line x1="507.30" y1="135.98" x2="512.50" y2="135.98" stroke="#333" stroke-width="1.2" />
<text x="502.50" y="139.58" font-size="10.0" text-anchor="end" fill="#231f20" font-weight="normal" font-family="Liberation Sans" >50</text>
<line x1="507.30" y1="105.56" x2="512.50" y2="105.56" stroke="#333" stroke-width="1.2" />
<text x="502.50" y="109.16" font-size="10.0" text-anchor="end" fill="#231f20" font-weight="normal" font-family="Liberation Sans" >100</text>
<line x1="507.30" y1="75.14" x2="512.50" y2="75.14" stroke="#333" stroke-width="1.2" />
<text x="502.50" y="78.74" font-size="10.0" text-anchor="end" fill="#231f20" font-weight="normal" font-family="Liberation Sans" >150</text>
<line x1="507.30" y1="44.72" x2="512.50" y2="44.72" stroke="#333" stroke-width="1.2" />
<text x="502.50" y="48.32" font-size="10.0" text-anchor="end" fill="#231f20" font-weight="normal" font-family="Liberation Sans" >200</text>
<line x1="507.30" y1="14.30" x2="512.50" y2="14.30" stroke="#333" stroke-width="1.2" />
<text x="502.50" y="17.90" font-size="10.0" text-anchor="end" fill="#231f20" font-weight="normal" font-family="Liberation Sans" >250</text>
<line x1="512.50" y1="166.40" x2="512.50" y2="172.00" stroke="#333" stroke-width="1.2" />
<text transform="translate(515.50,180.90) rotate(-45)" font-size="10" text-anchor="end" fill="#231f20" font-family="Liberation Sans">−10</text>
<line x1="525.58" y1="166.40" x2="525.58" y2="172.00" stroke="#333" stroke-width="1.2" />
<text transform="translate(528.58,180.90) rotate(-45)" font-size="10" text-anchor="end" fill="#231f20" font-family="Liberation Sans">−8</text>
<line x1="538.66" y1="166.40" x2="538.66" y2="172.00" stroke="#333" stroke-width="1.2" />
<text transform="translate(541.66,180.90) rotate(-45)" font-size="10" text-anchor="end" fill="#231f20" font-family="Liberation Sans">−6</text>
<line x1="551.74" y1="166.40" x2="551.74" y2="172.00" stroke="#333" stroke-width="1.2" />
<text transform="translate(554.74,180.90) rotate(-45)" font-size="10" text-anchor="end" fill="#231f20" font-family="Liberation Sans">−4</text>
<line x1="564.82" y1="166.40" x2="564.82" y2="172.00" stroke="#333" stroke-width="1.2" />
<text transform="translate(567.82,180.90) rotate(-45)" font-size="10" text-anchor="end" fill="#231f20" font-family="Liberation Sans">−2</text>
<line x1="577.90" y1="166.40" x2="577.90" y2="172.00" stroke="#333" stroke-width="1.2" />
<text transform="translate(580.90,180.90) rotate(-45)" font-size="10" text-anchor="end" fill="#231f20" font-family="Liberation Sans">0</text>
<line x1="590.98" y1="166.40" x2="590.98" y2="172.00" stroke="#333" stroke-width="1.2" />
<text transform="translate(593.98,180.90) rotate(-45)" font-size="10" text-anchor="end" fill="#231f20" font-family="Liberation Sans">2</text>
<line x1="604.06" y1="166.40" x2="604.06" y2="172.00" stroke="#333" stroke-width="1.2" />
<text transform="translate(607.06,180.90) rotate(-45)" font-size="10" text-anchor="end" fill="#231f20" font-family="Liberation Sans">4</text>
<line x1="617.14" y1="166.40" x2="617.14" y2="172.00" stroke="#333" stroke-width="1.2" />
<text transform="translate(620.14,180.90) rotate(-45)" font-size="10" text-anchor="end" fill="#231f20" font-family="Liberation Sans">6</text>
<line x1="630.22" y1="166.40" x2="630.22" y2="172.00" stroke="#333" stroke-width="1.2" />
<text transform="translate(633.22,180.90) rotate(-45)" font-size="10" text-anchor="end" fill="#231f20" font-family="Liberation Sans">8</text>
<line x1="643.30" y1="166.40" x2="643.30" y2="172.00" stroke="#333" stroke-width="1.2" />
<text transform="translate(646.30,180.90) rotate(-45)" font-size="10" text-anchor="end" fill="#231f20" font-family="Liberation Sans">10</text>
<text x="575.40" y="8.00" font-size="8.4" text-anchor="middle" fill="#231f20" font-weight="normal" font-family="Liberation Sans" >PATU8988T</text>
<text x="537.00" y="196.10" font-size="8.9" text-anchor="start" fill="#231f20" font-weight="normal" font-family="Liberation Sans" >log2(FoldChange)</text>
<text transform="translate(482.00,94.35) rotate(-90)" font-size="8.95" text-anchor="middle" fill="#231f20" font-family="Liberation Sans">-log10(adjusted P value)</text>
<text x="563.90" y="39.90" font-size="8.0" text-anchor="end" fill="#231f20" font-weight="normal" font-family="Liberation Sans" >SEMA4B</text>
<text x="561.60" y="68.10" font-size="8.0" text-anchor="end" fill="#231f20" font-weight="normal" font-family="Liberation Sans" >PADI2</text>
<text x="558.20" y="80.60" font-size="8.0" text-anchor="end" fill="#231f20" font-weight="normal" font-family="Liberation Sans" >DEPP1</text>
<text x="567.20" y="89.60" font-size="8.0" text-anchor="end" fill="#231f20" font-weight="normal" font-family="Liberation Sans" >ENO2</text>
<text x="567.20" y="112.20" font-size="8.0" text-anchor="end" fill="#231f20" font-weight="normal" font-family="Liberation Sans" >ITGB4</text>
<text x="567.20" y="122.30" font-size="8.0" text-anchor="end" fill="#231f20" font-weight="normal" font-family="Liberation Sans" >KCTD11</text>
<text x="589.90" y="73.00" font-size="8.0" text-anchor="start" fill="#231f20" font-weight="normal" font-family="Liberation Sans" >PPME1</text>
<text x="601.80" y="84.50" font-size="8.0" text-anchor="start" fill="#231f20" font-weight="normal" font-family="Liberation Sans" >CHAC1</text>
<text x="588.70" y="122.60" font-size="8.0" text-anchor="start" fill="#231f20" font-weight="normal" font-family="Liberation Sans" >ANKRD1</text>
<text x="591.00" y="130.50" font-size="8.0" text-anchor="start" fill="#231f20" font-weight="normal" font-family="Liberation Sans" >DOCK8</text>
<text x="591.30" y="140.10" font-size="8.0" text-anchor="start" fill="#231f20" font-weight="normal" font-family="Liberation Sans" >SESN2</text>
<text x="591.60" y="147.70" font-size="8.0" text-anchor="start" fill="#231f20" font-weight="normal" font-family="Liberation Sans" >TGFB2</text>
<text x="560.50" y="137.00" font-size="8.0" text-anchor="end" fill="#231f20" font-weight="bold" font-family="Liberation Sans" >BRCA1</text>
<line x1="560.50" y1="134.20" x2="567.00" y2="134.20" stroke="#111" stroke-width="1.0" />
<text x="3.70" y="228.90" font-size="12.5" text-anchor="start" fill="#231f20" font-weight="bold" font-family="Liberation Sans" >d</text>
<text x="99.00" y="238.80" font-size="8.8" text-anchor="middle" fill="#231f20" font-weight="normal" font-family="Liberation Sans" >GOBP DNA Repair</text>
<text transform="translate(9.80,284.00) rotate(-90)" font-size="7.1" text-anchor="middle" fill="#231f20" font-family="Liberation Sans">Enrichment score(ES)</text>
<rect x="27.50" y="245.00" width="154.00" height="97.00" fill="#ffffff" stroke="#d4d4d4" stroke-width="1.6" />
<line x1="28.30" y1="248.40" x2="180.70" y2="248.40" stroke="#d6d6d6" stroke-width="1.3" />
<line x1="28.70" y1="245.80" x2="28.70" y2="313.30" stroke="#b4b4b4" stroke-width="0.8" />
<line x1="28.30" y1="246.20" x2="180.70" y2="246.20" stroke="#c4c4c4" stroke-width="0.8" />
<line x1="28.50" y1="255.40" x2="180.50" y2="255.40" stroke="#d9d9d9" stroke-width="0.8" stroke-dasharray="2,1.5"/>
<line x1="28.50" y1="262.70" x2="180.50" y2="262.70" stroke="#d9d9d9" stroke-width="0.8" stroke-dasharray="2,1.5"/>
<line x1="28.50" y1="270.10" x2="180.50" y2="270.10" stroke="#d9d9d9" stroke-width="0.8" stroke-dasharray="2,1.5"/>
<line x1="28.50" y1="277.30" x2="180.50" y2="277.30" stroke="#d9d9d9" stroke-width="0.8" stroke-dasharray="2,1.5"/>
<line x1="28.50" y1="284.30" x2="180.50" y2="284.30" stroke="#d9d9d9" stroke-width="0.8" stroke-dasharray="2,1.5"/>
<line x1="28.50" y1="292.20" x2="180.50" y2="292.20" stroke="#d9d9d9" stroke-width="0.8" stroke-dasharray="2,1.5"/>
<line x1="28.50" y1="299.40" x2="180.50" y2="299.40" stroke="#d9d9d9" stroke-width="0.8" stroke-dasharray="2,1.5"/>
<line x1="28.50" y1="306.30" x2="180.50" y2="306.30" stroke="#d9d9d9" stroke-width="0.8" stroke-dasharray="2,1.5"/>
<line x1="56.60" y1="246.00" x2="56.60" y2="313.30" stroke="#d9d9d9" stroke-width="0.8" stroke-dasharray="2,1.5"/>
<line x1="84.40" y1="246.00" x2="84.40" y2="313.30" stroke="#d9d9d9" stroke-width="0.8" stroke-dasharray="2,1.5"/>
<line x1="113.20" y1="246.00" x2="113.20" y2="313.30" stroke="#d9d9d9" stroke-width="0.8" stroke-dasharray="2,1.5"/>
<line x1="141.60" y1="246.00" x2="141.60" y2="313.30" stroke="#d9d9d9" stroke-width="0.8" stroke-dasharray="2,1.5"/>
<line x1="170.10" y1="246.00" x2="170.10" y2="313.30" stroke="#d9d9d9" stroke-width="0.8" stroke-dasharray="2,1.5"/>
<line x1="28.30" y1="313.30" x2="180.70" y2="313.30" stroke="#bdbdbd" stroke-width="0.9" />
<line x1="173.50" y1="335.00" x2="180.70" y2="335.00" stroke="#e0e0e0" stroke-width="0.8" />
<line x1="29.70" y1="313.90" x2="29.70" y2="336.00" stroke="#bbb" stroke-width="0.9" />
<line x1="37.90" y1="313.90" x2="37.90" y2="336.00" stroke="#777" stroke-width="0.9" />
<line x1="44.90" y1="313.90" x2="44.90" y2="336.00" stroke="#555" stroke-width="0.9" />
<line x1="53.50" y1="313.90" x2="53.50" y2="336.00" stroke="#555" stroke-width="0.9" />
<line x1="57.70" y1="313.90" x2="57.70" y2="336.00" stroke="#999" stroke-width="0.9" />
<line x1="60.00" y1="313.90" x2="60.00" y2="336.00" stroke="#aaa" stroke-width="0.9" />
<line x1="71.70" y1="313.90" x2="71.70" y2="336.00" stroke="#333" stroke-width="0.9" />
<line x1="79.90" y1="313.90" x2="79.90" y2="336.00" stroke="#444" stroke-width="0.9" />
<line x1="88.10" y1="313.90" x2="88.10" y2="336.00" stroke="#ccc" stroke-width="2.0" />
<line x1="94.11" y1="313.90" x2="94.11" y2="336.00" stroke="#333" stroke-width="0.8" />
<line x1="95.08" y1="313.90" x2="95.08" y2="336.00" stroke="#222" stroke-width="1.2" />
<line x1="96.16" y1="313.90" x2="96.16" y2="336.00" stroke="#333" stroke-width="1.0" />
<line x1="98.71" y1="313.90" x2="98.71" y2="336.00" stroke="#666" stroke-width="1.2" />
<line x1="99.80" y1="313.90" x2="99.80" y2="336.00" stroke="#888" stroke-width="0.8" />
<line x1="101.30" y1="313.90" x2="101.30" y2="336.00" stroke="#222" stroke-width="1.2" />
<line x1="102.17" y1="313.90" x2="102.17" y2="336.00" stroke="#444" stroke-width="1.2" />
<line x1="103.30" y1="313.90" x2="103.30" y2="336.00" stroke="#666" stroke-width="0.8" />
<line x1="104.60" y1="313.90" x2="104.60" y2="336.00" stroke="#222" stroke-width="1.2" />
<line x1="105.43" y1="313.90" x2="105.43" y2="336.00" stroke="#111" stroke-width="1.0" />
<line x1="106.34" y1="313.90" x2="106.34" y2="336.00" stroke="#444" stroke-width="0.8" />
<line x1="107.31" y1="313.90" x2="107.31" y2="336.00" stroke="#333" stroke-width="1.0" />
<line x1="108.08" y1="313.90" x2="108.08" y2="336.00" stroke="#333" stroke-width="1.2" />
<line x1="109.45" y1="313.90" x2="109.45" y2="336.00" stroke="#333" stroke-width="1.0" />
<line x1="110.32" y1="313.90" x2="110.32" y2="336.00" stroke="#333" stroke-width="1.0" />
<line x1="111.06" y1="313.90" x2="111.06" y2="336.00" stroke="#444" stroke-width="1.2" />
<line x1="111.90" y1="313.90" x2="111.90" y2="336.00" stroke="#444" stroke-width="1.2" />
<line x1="113.27" y1="313.90" x2="113.27" y2="336.00" stroke="#222" stroke-width="0.8" />
<line x1="114.15" y1="313.90" x2="114.15" y2="336.00" stroke="#333" stroke-width="1.0" />
<line x1="115.01" y1="313.90" x2="115.01" y2="336.00" stroke="#222" stroke-width="1.2" />
<line x1="118.22" y1="313.90" x2="118.22" y2="336.00" stroke="#777" stroke-width="1.0" />
<line x1="119.14" y1="313.90" x2="119.14" y2="336.00" stroke="#666" stroke-width="0.8" />
<line x1="120.31" y1="313.90" x2="120.31" y2="336.00" stroke="#555" stroke-width="1.2" />
<line x1="121.06" y1="313.90" x2="121.06" y2="336.00" stroke="#777" stroke-width="1.0" />
<line x1="122.09" y1="313.90" x2="122.09" y2="336.00" stroke="#777" stroke-width="1.0" />
<line x1="122.97" y1="313.90" x2="122.97" y2="336.00" stroke="#888" stroke-width="0.8" />
<line x1="124.02" y1="313.90" x2="124.02" y2="336.00" stroke="#888" stroke-width="1.0" />
<line x1="128.87" y1="313.90" x2="128.87" y2="336.00" stroke="#333" stroke-width="0.8" />
<line x1="130.08" y1="313.90" x2="130.08" y2="336.00" stroke="#444" stroke-width="1.0" />
<line x1="130.83" y1="313.90" x2="130.83" y2="336.00" stroke="#333" stroke-width="1.0" />
<line x1="132.21" y1="313.90" x2="132.21" y2="336.00" stroke="#333" stroke-width="1.0" />
<line x1="133.24" y1="313.90" x2="133.24" y2="336.00" stroke="#222" stroke-width="1.2" />
<line x1="133.81" y1="313.90" x2="133.81" y2="336.00" stroke="#777" stroke-width="0.8" />
<line x1="135.09" y1="313.90" x2="135.09" y2="336.00" stroke="#777" stroke-width="0.8" />
<line x1="135.72" y1="313.90" x2="135.72" y2="336.00" stroke="#888" stroke-width="1.0" />
<line x1="136.90" y1="313.90" x2="136.90" y2="336.00" stroke="#888" stroke-width="1.0" />
<line x1="138.21" y1="313.90" x2="138.21" y2="336.00" stroke="#555" stroke-width="0.8" />
<line x1="138.99" y1="313.90" x2="138.99" y2="336.00" stroke="#888" stroke-width="1.0" />
<line x1="140.05" y1="313.90" x2="140.05" y2="336.00" stroke="#888" stroke-width="1.0" />
<line x1="141.21" y1="313.90" x2="141.21" y2="336.00" stroke="#666" stroke-width="0.8" />
<line x1="141.86" y1="313.90" x2="141.86" y2="336.00" stroke="#888" stroke-width="0.8" />
<line x1="145.21" y1="313.90" x2="145.21" y2="336.00" stroke="#555" stroke-width="1.2" />
<line x1="146.34" y1="313.90" x2="146.34" y2="336.00" stroke="#666" stroke-width="1.0" />
<line x1="147.82" y1="313.90" x2="147.82" y2="336.00" stroke="#777" stroke-width="1.2" />
<line x1="149.00" y1="313.90" x2="149.00" y2="336.00" stroke="#888" stroke-width="1.0" />
<line x1="149.57" y1="313.90" x2="149.57" y2="336.00" stroke="#222" stroke-width="0.8" />
<line x1="150.81" y1="313.90" x2="150.81" y2="336.00" stroke="#111" stroke-width="0.8" />
<line x1="151.73" y1="313.90" x2="151.73" y2="336.00" stroke="#222" stroke-width="1.2" />
<line x1="152.67" y1="313.90" x2="152.67" y2="336.00" stroke="#222" stroke-width="1.2" />
<line x1="153.56" y1="313.90" x2="153.56" y2="336.00" stroke="#111" stroke-width="1.2" />
<line x1="154.74" y1="313.90" x2="154.74" y2="336.00" stroke="#444" stroke-width="1.2" />
<line x1="155.37" y1="313.90" x2="155.37" y2="336.00" stroke="#444" stroke-width="0.8" />
<line x1="156.78" y1="313.90" x2="156.78" y2="336.00" stroke="#222" stroke-width="1.0" />
<line x1="157.42" y1="313.90" x2="157.42" y2="336.00" stroke="#111" stroke-width="0.8" />
<line x1="158.78" y1="313.90" x2="158.78" y2="336.00" stroke="#333" stroke-width="1.2" />
<line x1="159.30" y1="313.90" x2="159.30" y2="336.00" stroke="#333" stroke-width="1.0" />
<line x1="160.26" y1="313.90" x2="160.26" y2="336.00" stroke="#333" stroke-width="1.2" />
<line x1="161.31" y1="313.90" x2="161.31" y2="336.00" stroke="#444" stroke-width="1.2" />
<line x1="162.07" y1="313.90" x2="162.07" y2="336.00" stroke="#333" stroke-width="0.8" />
<line x1="163.53" y1="313.90" x2="163.53" y2="336.00" stroke="#444" stroke-width="1.2" />
<line x1="164.12" y1="313.90" x2="164.12" y2="336.00" stroke="#222" stroke-width="0.8" />
<line x1="164.97" y1="313.90" x2="164.97" y2="336.00" stroke="#333" stroke-width="1.0" />
<line x1="166.29" y1="313.90" x2="166.29" y2="336.00" stroke="#222" stroke-width="1.0" />
<line x1="168.86" y1="313.90" x2="168.86" y2="336.00" stroke="#333" stroke-width="0.8" />
<line x1="169.41" y1="313.90" x2="169.41" y2="336.00" stroke="#111" stroke-width="1.2" />
<line x1="170.17" y1="313.90" x2="170.17" y2="336.00" stroke="#111" stroke-width="1.0" />
<line x1="171.39" y1="313.90" x2="171.39" y2="336.00" stroke="#333" stroke-width="0.8" />
<line x1="171.82" y1="313.90" x2="171.82" y2="336.00" stroke="#444" stroke-width="1.0" />
<line x1="172.62" y1="313.90" x2="172.62" y2="336.00" stroke="#222" stroke-width="1.2" />
<defs><linearGradient id="g1" x1="0" x2="1" y1="0" y2="0"><stop offset="0" stop-color="#d42a3a"/><stop offset="0.12" stop-color="#dc4250"/><stop offset="0.3" stop-color="#e05c6c"/><stop offset="0.44" stop-color="#e5707f"/><stop offset="0.46" stop-color="#b8bbe2"/><stop offset="0.55" stop-color="#a4a8da"/><stop offset="0.58" stop-color="#7a84c8"/><stop offset="0.8" stop-color="#6470c0"/><stop offset="0.95" stop-color="#4c56b0"/><stop offset="1" stop-color="#3a3a98"/></linearGradient></defs>
<rect x="28.30" y="336.00" width="144.70" height="5.60" fill="url(#g1)" stroke="none" stroke-width="1" />
<polyline points="28.00,248.40 29.70,250.61 29.75,249.42 37.90,259.02 37.95,257.42 44.90,265.50 44.95,263.90 53.50,273.25 53.55,271.65 57.70,276.14 57.75,274.54 60.00,277.77 60.05,276.17 71.70,288.28 71.75,286.68 79.90,294.54 79.95,292.94 88.10,301.77 88.15,300.17 94.11,306.64 94.16,305.04 95.08,306.63 95.13,305.95 96.16,307.07 96.21,306.31 98.71,307.91 98.76,306.31 99.80,307.57 99.85,306.81 101.30,307.92 101.35,306.87 102.17,307.83 102.22,307.22 103.30,308.09 103.35,307.30 104.60,308.03 104.65,307.12 105.43,307.55 105.48,306.97 106.34,307.24 106.39,306.61 107.31,306.90 107.36,306.22 108.08,306.51 108.13,305.97 109.45,305.67 109.50,304.70 110.32,304.82 110.37,304.21 111.06,304.23 111.11,303.72 111.90,303.93 111.95,303.34 113.27,303.56 113.32,302.60 114.15,303.03 114.20,302.41 115.01,303.39 115.06,302.78 118.22,305.39 118.27,303.79 119.14,305.27 119.19,304.63 120.31,305.82 120.36,305.00 121.06,305.97 121.11,305.45 122.09,306.48 122.14,305.76 122.97,306.80 123.02,306.18 124.02,307.31 124.07,306.58 128.87,309.49 128.92,307.89 130.08,309.49 130.13,308.65 130.83,309.22 130.88,308.70 132.21,308.40 132.26,307.43 133.24,307.50 133.29,306.78 133.81,306.91 133.86,306.51 135.09,306.25 135.14,305.36 135.72,305.59 135.77,305.15 136.90,304.98 136.95,304.16 138.21,304.35 138.26,303.43 138.99,303.78 139.04,303.23 140.05,303.35 140.10,302.61 141.21,303.25 141.26,302.44 141.86,303.23 141.91,302.77 145.21,304.53 145.26,302.93 146.34,304.34 146.39,303.55 147.82,304.57 147.87,303.53 149.00,303.09 149.05,302.27 149.57,302.20 149.62,301.80 150.81,300.92 150.86,300.06 151.73,299.66 151.78,299.02 152.67,298.50 152.72,297.84 153.56,296.41 153.61,295.79 154.74,293.57 154.79,292.74 155.37,292.00 155.42,291.55 156.78,289.53 156.83,288.55 157.42,288.01 157.47,287.56 158.78,285.62 158.83,284.67 159.30,283.95 159.35,283.58 160.26,281.40 160.31,280.73 161.31,278.85 161.36,278.12 162.07,277.50 162.12,276.97 163.53,275.24 163.58,274.22 164.12,273.83 164.17,273.41 164.97,272.36 165.02,271.77 166.29,269.62 166.34,268.69 168.86,260.32 168.91,258.72 169.41,257.41 169.46,257.02 170.17,254.85 170.22,254.32 171.39,252.09 171.44,251.23 171.82,250.86 171.87,250.56 173.10,247.90" fill="none" stroke="#52b04c" stroke-width="1.3" stroke-linejoin="round" />
<text x="19.00" y="252.90" font-size="6.5" text-anchor="middle" fill="#333" font-weight="normal" font-family="Liberation Sans" >0.0</text>
<text x="19.00" y="260.30" font-size="6.5" text-anchor="middle" fill="#333" font-weight="normal" font-family="Liberation Sans" >-0.05</text>
<text x="19.00" y="267.80" font-size="6.5" text-anchor="middle" fill="#333" font-weight="normal" font-family="Liberation Sans" >-0.10</text>
<text x="19.00" y="275.40" font-size="6.5" text-anchor="middle" fill="#333" font-weight="normal" font-family="Liberation Sans" >-0.15</text>
<text x="19.00" y="283.00" font-size="6.5" text-anchor="middle" fill="#333" font-weight="normal" font-family="Liberation Sans" >-0.20</text>
<text x="19.00" y="290.50" font-size="6.5" text-anchor="middle" fill="#333" font-weight="normal" font-family="Liberation Sans" >-0.25</text>
<text x="19.00" y="298.10" font-size="6.5" text-anchor="middle" fill="#333" font-weight="normal" font-family="Liberation Sans" >-0.30</text>
<text x="19.00" y="305.60" font-size="6.5" text-anchor="middle" fill="#333" font-weight="normal" font-family="Liberation Sans" >-0.35</text>
<text x="19.00" y="313.30" font-size="6.5" text-anchor="middle" fill="#333" font-weight="normal" font-family="Liberation Sans" >-0.40</text>
<text x="90.70" y="265.00" font-size="8.7" text-anchor="start" fill="#231f20" font-weight="normal" font-family="Liberation Sans" >NES=-3.90</text>
<text x="90.70" y="275.80" font-size="8.7" text-anchor="start" fill="#231f20" font-weight="normal" font-family="Liberation Sans" >FDR=0.0</text>
<text x="90.70" y="286.80" font-size="8.7" text-anchor="start" fill="#231f20" font-weight="normal" font-family="Liberation Sans" >p=0</text>
<text x="57.20" y="350.20" font-size="7.7" text-anchor="middle" fill="#231f20" font-weight="normal" font-family="Liberation Sans" >PANC1-shOFD1</text>
<text x="136.60" y="349.70" font-size="7.7" text-anchor="middle" fill="#231f20" font-weight="normal" font-family="Liberation Sans" >PANC1</text>
<text x="57.20" y="360.10" font-size="7.7" text-anchor="middle" font-family="Liberation Sans" fill="#231f20">(<tspan fill="#e8303c">positively correlated</tspan>)</text>
<text x="136.60" y="360.10" font-size="7.7" text-anchor="middle" font-family="Liberation Sans" fill="#231f20">(<tspan fill="#3a48a8">negatively correlated</tspan>)</text>
<text x="269.50" y="230.00" font-size="12.5" text-anchor="start" fill="#231f20" font-weight="bold" font-family="Liberation Sans" >e</text>
<text x="365.40" y="232.30" font-size="8.8" text-anchor="middle" fill="#231f20" font-weight="normal" font-family="Liberation Sans" >GOBP DNA double</text>
<text x="365.40" y="242.40" font-size="8.8" text-anchor="middle" fill="#231f20" font-weight="normal" font-family="Liberation Sans" >strand break repair</text>
<text transform="translate(266.60,291.80) rotate(-90)" font-size="7.1" text-anchor="middle" fill="#231f20" font-family="Liberation Sans">Enrichment score(ES)</text>
<rect x="282.30" y="248.30" width="158.30" height="92.70" fill="#ffffff" stroke="#e4e4e4" stroke-width="2.6" />
<line x1="283.60" y1="252.20" x2="439.30" y2="252.20" stroke="#d6d6d6" stroke-width="1.3" />
<line x1="284.00" y1="249.60" x2="284.00" y2="312.20" stroke="#b4b4b4" stroke-width="0.8" />
<line x1="283.60" y1="250.00" x2="439.30" y2="250.00" stroke="#c4c4c4" stroke-width="0.8" />
<line x1="283.30" y1="265.20" x2="439.60" y2="265.20" stroke="#d9d9d9" stroke-width="0.8" stroke-dasharray="2,1.5"/>
<line x1="283.30" y1="277.90" x2="439.60" y2="277.90" stroke="#d9d9d9" stroke-width="0.8" stroke-dasharray="2,1.5"/>
<line x1="283.30" y1="290.90" x2="439.60" y2="290.90" stroke="#d9d9d9" stroke-width="0.8" stroke-dasharray="2,1.5"/>
<line x1="283.30" y1="303.70" x2="439.60" y2="303.70" stroke="#d9d9d9" stroke-width="0.8" stroke-dasharray="2,1.5"/>
<line x1="312.40" y1="249.30" x2="312.40" y2="312.20" stroke="#d9d9d9" stroke-width="0.8" stroke-dasharray="2,1.5"/>
<line x1="341.40" y1="249.30" x2="341.40" y2="312.20" stroke="#d9d9d9" stroke-width="0.8" stroke-dasharray="2,1.5"/>
<line x1="370.50" y1="249.30" x2="370.50" y2="312.20" stroke="#d9d9d9" stroke-width="0.8" stroke-dasharray="2,1.5"/>
<line x1="399.00" y1="249.30" x2="399.00" y2="312.20" stroke="#d9d9d9" stroke-width="0.8" stroke-dasharray="2,1.5"/>
<line x1="428.50" y1="249.30" x2="428.50" y2="312.20" stroke="#d9d9d9" stroke-width="0.8" stroke-dasharray="2,1.5"/>
<line x1="283.10" y1="312.20" x2="439.80" y2="312.20" stroke="#bdbdbd" stroke-width="0.9" />
<line x1="431.50" y1="333.50" x2="439.80" y2="333.50" stroke="#e0e0e0" stroke-width="0.8" />
<line x1="292.30" y1="312.80" x2="292.30" y2="334.50" stroke="#333" stroke-width="0.9" />
<line x1="328.20" y1="312.80" x2="328.20" y2="334.50" stroke="#222" stroke-width="0.9" />
<line x1="336.60" y1="312.80" x2="336.60" y2="334.50" stroke="#555" stroke-width="0.9" />
<line x1="345.00" y1="312.80" x2="345.00" y2="334.50" stroke="#aaa" stroke-width="0.9" />
<line x1="351.00" y1="312.80" x2="351.00" y2="334.50" stroke="#555" stroke-width="0.9" />
<line x1="352.30" y1="312.80" x2="352.30" y2="334.50" stroke="#777" stroke-width="0.9" />
<line x1="354.77" y1="312.80" x2="354.77" y2="334.50" stroke="#333" stroke-width="1.2" />
<line x1="356.17" y1="312.80" x2="356.17" y2="334.50" stroke="#444" stroke-width="0.8" />
<line x1="357.51" y1="312.80" x2="357.51" y2="334.50" stroke="#222" stroke-width="0.8" />
<line x1="358.98" y1="312.80" x2="358.98" y2="334.50" stroke="#222" stroke-width="1.2" />
<line x1="360.70" y1="312.80" x2="360.70" y2="334.50" stroke="#222" stroke-width="1.2" />
<line x1="362.24" y1="312.80" x2="362.24" y2="334.50" stroke="#444" stroke-width="1.0" />
<line x1="363.53" y1="312.80" x2="363.53" y2="334.50" stroke="#666" stroke-width="0.8" />
<line x1="365.22" y1="312.80" x2="365.22" y2="334.50" stroke="#444" stroke-width="0.8" />
<line x1="366.87" y1="312.80" x2="366.87" y2="334.50" stroke="#444" stroke-width="1.2" />
<line x1="370.40" y1="312.80" x2="370.40" y2="334.50" stroke="#444" stroke-width="0.9" />
<line x1="372.80" y1="312.80" x2="372.80" y2="334.50" stroke="#555" stroke-width="0.9" />
<line x1="377.60" y1="312.80" x2="377.60" y2="334.50" stroke="#333" stroke-width="0.9" />
<line x1="379.00" y1="312.80" x2="379.00" y2="334.50" stroke="#777" stroke-width="0.9" />
<line x1="380.20" y1="312.80" x2="380.20" y2="334.50" stroke="#555" stroke-width="0.9" />
<line x1="383.60" y1="312.80" x2="383.60" y2="334.50" stroke="#444" stroke-width="0.9" />
<line x1="385.00" y1="312.80" x2="385.00" y2="334.50" stroke="#666" stroke-width="0.9" />
<line x1="386.20" y1="312.80" x2="386.20" y2="334.50" stroke="#444" stroke-width="0.9" />
<line x1="389.60" y1="312.80" x2="389.60" y2="334.50" stroke="#555" stroke-width="0.9" />
<line x1="391.50" y1="312.80" x2="391.50" y2="334.50" stroke="#444" stroke-width="0.9" />
<line x1="393.30" y1="312.80" x2="393.30" y2="334.50" stroke="#666" stroke-width="0.9" />
<line x1="398.00" y1="312.80" x2="398.00" y2="334.50" stroke="#444" stroke-width="0.9" />
<line x1="402.66" y1="312.80" x2="402.66" y2="334.50" stroke="#222" stroke-width="0.8" />
<line x1="404.33" y1="312.80" x2="404.33" y2="334.50" stroke="#222" stroke-width="1.0" />
<line x1="405.26" y1="312.80" x2="405.26" y2="334.50" stroke="#666" stroke-width="1.2" />
<line x1="406.93" y1="312.80" x2="406.93" y2="334.50" stroke="#333" stroke-width="0.8" />
<line x1="408.17" y1="312.80" x2="408.17" y2="334.50" stroke="#444" stroke-width="0.8" />
<line x1="409.01" y1="312.80" x2="409.01" y2="334.50" stroke="#333" stroke-width="1.0" />
<line x1="410.63" y1="312.80" x2="410.63" y2="334.50" stroke="#888" stroke-width="1.0" />
<line x1="411.86" y1="312.80" x2="411.86" y2="334.50" stroke="#444" stroke-width="1.0" />
<line x1="413.24" y1="312.80" x2="413.24" y2="334.50" stroke="#666" stroke-width="1.2" />
<line x1="414.46" y1="312.80" x2="414.46" y2="334.50" stroke="#444" stroke-width="1.2" />
<line x1="415.81" y1="312.80" x2="415.81" y2="334.50" stroke="#333" stroke-width="0.8" />
<line x1="416.68" y1="312.80" x2="416.68" y2="334.50" stroke="#444" stroke-width="1.2" />
<line x1="417.92" y1="312.80" x2="417.92" y2="334.50" stroke="#888" stroke-width="1.2" />
<line x1="419.06" y1="312.80" x2="419.06" y2="334.50" stroke="#333" stroke-width="0.8" />
<line x1="420.70" y1="312.80" x2="420.70" y2="334.50" stroke="#333" stroke-width="1.0" />
<line x1="421.94" y1="312.80" x2="421.94" y2="334.50" stroke="#222" stroke-width="0.8" />
<line x1="423.29" y1="312.80" x2="423.29" y2="334.50" stroke="#222" stroke-width="1.2" />
<line x1="424.61" y1="312.80" x2="424.61" y2="334.50" stroke="#888" stroke-width="1.2" />
<line x1="425.36" y1="312.80" x2="425.36" y2="334.50" stroke="#333" stroke-width="1.0" />
<line x1="426.59" y1="312.80" x2="426.59" y2="334.50" stroke="#333" stroke-width="0.8" />
<line x1="427.96" y1="312.80" x2="427.96" y2="334.50" stroke="#666" stroke-width="1.0" />
<line x1="429.46" y1="312.80" x2="429.46" y2="334.50" stroke="#888" stroke-width="0.8" />
<defs><linearGradient id="g2" x1="0" x2="1" y1="0" y2="0"><stop offset="0" stop-color="#d42a3a"/><stop offset="0.1" stop-color="#dc4250"/><stop offset="0.3" stop-color="#e05c6c"/><stop offset="0.43" stop-color="#e5707f"/><stop offset="0.45" stop-color="#c0c0e4"/><stop offset="0.55" stop-color="#a4a8da"/><stop offset="0.58" stop-color="#7a84c8"/><stop offset="0.8" stop-color="#6470c0"/><stop offset="0.93" stop-color="#4c56b0"/><stop offset="1" stop-color="#3a3a98"/></linearGradient></defs>
<rect x="283.60" y="334.50" width="147.40" height="6.00" fill="url(#g2)" stroke="none" stroke-width="1" />
<polyline points="283.50,252.50 292.30,260.27 292.35,258.27 328.20,290.22 328.25,288.22 336.60,292.94 336.65,290.94 345.00,300.00 345.05,298.00 351.00,304.20 351.05,302.20 352.30,303.69 352.35,302.65 354.77,303.45 354.82,301.48 356.17,303.00 356.22,301.88 357.51,303.02 357.56,301.95 358.98,302.71 359.03,301.53 360.70,302.42 360.75,301.05 362.24,302.86 362.29,301.63 363.53,302.62 363.58,301.58 365.22,301.60 365.27,300.25 366.87,301.04 366.92,299.72 370.40,302.45 370.45,300.45 372.80,302.27 372.85,300.35 377.60,304.08 377.65,302.08 379.00,304.15 379.05,303.03 380.20,304.50 380.25,303.54 383.60,306.75 383.65,304.75 385.00,307.06 385.05,305.94 386.20,307.48 386.25,306.52 389.60,309.40 389.65,307.40 391.50,308.82 391.55,307.30 393.30,306.64 393.35,305.20 398.00,307.77 398.05,305.77 402.66,309.50 402.71,307.50 404.33,309.10 404.38,307.76 405.26,306.38 405.31,305.64 406.93,302.31 406.98,300.98 408.17,301.02 408.22,300.03 409.01,300.33 409.06,299.66 410.63,298.50 410.68,297.21 411.86,296.39 411.91,295.41 413.24,293.93 413.29,292.83 414.46,291.42 414.51,290.44 415.81,288.35 415.86,287.27 416.68,286.48 416.73,285.78 417.92,284.63 417.97,283.64 419.06,283.49 419.11,282.57 420.70,281.63 420.75,280.32 421.94,278.64 421.99,277.65 423.29,275.51 423.34,274.42 424.61,272.44 424.66,271.38 425.36,270.43 425.41,269.83 426.59,267.48 426.64,266.50 427.96,262.94 428.01,261.85 429.46,258.22 429.51,257.02 431.50,252.00" fill="none" stroke="#52b04c" stroke-width="1.3" stroke-linejoin="round" />
<text x="279.50" y="254.70" font-size="6.3" text-anchor="end" fill="#333" font-weight="normal" font-family="Liberation Sans" >0.0</text>
<text x="279.50" y="267.40" font-size="6.3" text-anchor="end" fill="#333" font-weight="normal" font-family="Liberation Sans" >-0.1</text>
<text x="279.50" y="280.10" font-size="6.3" text-anchor="end" fill="#333" font-weight="normal" font-family="Liberation Sans" >-0.2</text>
<text x="279.50" y="292.70" font-size="6.3" text-anchor="end" fill="#333" font-weight="normal" font-family="Liberation Sans" >-0.3</text>
<text x="279.50" y="305.90" font-size="6.3" text-anchor="end" fill="#333" font-weight="normal" font-family="Liberation Sans" >-0.4</text>
<text x="351.00" y="268.40" font-size="8.7" text-anchor="start" fill="#231f20" font-weight="normal" font-family="Liberation Sans" >NES=-3.49</text>
<text x="351.00" y="280.10" font-size="8.7" text-anchor="start" fill="#231f20" font-weight="normal" font-family="Liberation Sans" >FDR=0.0</text>
<text x="351.00" y="291.90" font-size="8.7" text-anchor="start" fill="#231f20" font-weight="normal" font-family="Liberation Sans" >p=0</text>
<text x="321.50" y="349.00" font-size="7.7" text-anchor="middle" fill="#231f20" font-weight="normal" font-family="Liberation Sans" >PANC1-shOFD1</text>
<text x="401.30" y="348.20" font-size="7.7" text-anchor="middle" fill="#231f20" font-weight="normal" font-family="Liberation Sans" >PANC1</text>
<text x="321.80" y="358.10" font-size="7.7" text-anchor="middle" font-family="Liberation Sans" fill="#231f20">(<tspan fill="#e8303c">positively correlated</tspan>)</text>
<text x="401.30" y="358.10" font-size="7.7" text-anchor="middle" font-family="Liberation Sans" fill="#231f20">(<tspan fill="#3a48a8">negatively correlated</tspan>)</text>
<text x="494.90" y="233.00" font-size="12.5" text-anchor="start" fill="#231f20" font-weight="bold" font-family="Liberation Sans" >f</text>
<text x="578.20" y="232.30" font-size="8.8" text-anchor="middle" fill="#231f20" font-weight="normal" font-family="Liberation Sans" >KEGG Base excision repair</text>
<text transform="translate(493.40,284.00) rotate(-90)" font-size="7.1" text-anchor="middle" fill="#231f20" font-family="Liberation Sans">Enrichment score(ES)</text>
<rect x="508.50" y="243.70" width="147.20" height="92.30" fill="#ffffff" stroke="#a2a2a2" stroke-width="1.0" />
<line x1="509.00" y1="247.50" x2="655.20" y2="247.50" stroke="#e6e6e6" stroke-width="0.8" />
<line x1="509.00" y1="311.20" x2="655.20" y2="311.20" stroke="#777" stroke-width="0.9" />
<line x1="522.60" y1="311.80" x2="522.60" y2="327.50" stroke="#444" stroke-width="0.9" />
<line x1="542.30" y1="311.80" x2="542.30" y2="327.50" stroke="#444" stroke-width="0.9" />
<line x1="553.60" y1="311.80" x2="553.60" y2="327.50" stroke="#555" stroke-width="0.9" />
<line x1="557.50" y1="311.80" x2="557.50" y2="327.50" stroke="#777" stroke-width="0.9" />
<line x1="561.60" y1="311.80" x2="561.60" y2="327.50" stroke="#bbb" stroke-width="0.9" />
<line x1="567.90" y1="311.80" x2="567.90" y2="327.50" stroke="#666" stroke-width="0.9" />
<line x1="579.70" y1="311.80" x2="579.70" y2="327.50" stroke="#555" stroke-width="0.9" />
<line x1="588.70" y1="311.80" x2="588.70" y2="327.50" stroke="#aaa" stroke-width="0.9" />
<line x1="592.10" y1="311.80" x2="592.10" y2="327.50" stroke="#666" stroke-width="0.9" />
<line x1="596.60" y1="311.80" x2="596.60" y2="327.50" stroke="#555" stroke-width="0.9" />
<line x1="603.40" y1="311.80" x2="603.40" y2="327.50" stroke="#666" stroke-width="0.9" />
<line x1="605.70" y1="311.80" x2="605.70" y2="327.50" stroke="#555" stroke-width="0.9" />
<line x1="609.10" y1="311.80" x2="609.10" y2="327.50" stroke="#777" stroke-width="0.9" />
<line x1="612.50" y1="311.80" x2="612.50" y2="327.50" stroke="#555" stroke-width="0.9" />
<line x1="615.20" y1="311.80" x2="615.20" y2="327.50" stroke="#777" stroke-width="0.9" />
<line x1="618.10" y1="311.80" x2="618.10" y2="327.50" stroke="#aaa" stroke-width="0.9" />
<line x1="624.90" y1="311.80" x2="624.90" y2="327.50" stroke="#666" stroke-width="0.9" />
<line x1="626.50" y1="311.80" x2="626.50" y2="327.50" stroke="#888" stroke-width="0.9" />
<line x1="628.30" y1="311.80" x2="628.30" y2="327.50" stroke="#666" stroke-width="0.9" />
<line x1="636.20" y1="311.80" x2="636.20" y2="327.50" stroke="#666" stroke-width="0.9" />
<line x1="638.50" y1="311.80" x2="638.50" y2="327.50" stroke="#777" stroke-width="0.9" />
<line x1="641.90" y1="311.80" x2="641.90" y2="327.50" stroke="#555" stroke-width="0.9" />
<line x1="644.10" y1="311.80" x2="644.10" y2="327.50" stroke="#777" stroke-width="0.9" />
<line x1="646.40" y1="311.80" x2="646.40" y2="327.50" stroke="#555" stroke-width="0.9" />
<line x1="648.00" y1="311.80" x2="648.00" y2="327.50" stroke="#777" stroke-width="0.9" />
<line x1="649.80" y1="311.80" x2="649.80" y2="327.50" stroke="#666" stroke-width="0.9" />
<line x1="652.00" y1="311.80" x2="652.00" y2="327.50" stroke="#555" stroke-width="0.9" />
<defs><linearGradient id="g3" x1="0" x2="1" y1="0" y2="0"><stop offset="0" stop-color="#e0202c"/><stop offset="0.15" stop-color="#e64a55"/><stop offset="0.35" stop-color="#f0a0a6"/><stop offset="0.47" stop-color="#fbeeee"/><stop offset="0.52" stop-color="#ffffff"/><stop offset="0.62" stop-color="#e4e6f2"/><stop offset="0.78" stop-color="#9aa4d2"/><stop offset="0.92" stop-color="#5668b4"/><stop offset="1" stop-color="#2a3c96"/></linearGradient></defs>
<rect x="509.00" y="327.50" width="145.00" height="8.10" fill="url(#g3)" stroke="none" stroke-width="1" />
<line x1="509.50" y1="308.00" x2="607.50" y2="308.00" stroke="#3a9a4a" stroke-width="0.8" stroke-dasharray="1,1.3"/>
<line x1="607.50" y1="247.50" x2="607.50" y2="311.00" stroke="#3a9a4a" stroke-width="0.8" stroke-dasharray="1,1.3"/>
<polyline points="509.00,247.20 515.00,252.00 521.50,257.00 522.40,253.40 524.00,255.00 530.00,260.50 536.00,265.00 542.30,269.70 543.20,267.90 545.00,270.00 550.00,274.50 553.20,276.90 554.00,273.60 556.00,275.50 557.70,275.10 560.00,276.50 563.10,277.40 566.70,280.50 572.00,284.50 579.40,289.50 585.00,293.50 590.00,297.30 596.00,301.50 603.50,307.30 605.00,306.50 607.50,307.30 609.00,306.00 611.60,305.60 613.00,307.00 615.70,306.90 618.70,300.10 621.00,301.50 624.80,304.20 628.90,297.10 632.00,299.50 635.00,302.20 636.00,290.00 637.50,291.50 639.70,290.00 641.00,286.00 642.10,282.90 643.50,281.50 645.20,277.80 646.50,275.50 648.20,270.70 649.50,268.50 650.60,261.50 651.50,258.50 652.30,252.40 653.90,246.70" fill="none" stroke="#2f9450" stroke-width="1.4" stroke-linejoin="round" />
<text x="507.00" y="249.40" font-size="7.0" text-anchor="end" fill="#333" font-weight="normal" font-family="Liberation Sans" >0.0</text>
<text x="507.00" y="261.80" font-size="7.0" text-anchor="end" fill="#333" font-weight="normal" font-family="Liberation Sans" >-0.1</text>
<text x="507.00" y="274.60" font-size="7.0" text-anchor="end" fill="#333" font-weight="normal" font-family="Liberation Sans" >-0.2</text>
<text x="507.00" y="287.00" font-size="7.0" text-anchor="end" fill="#333" font-weight="normal" font-family="Liberation Sans" >-0.3</text>
<text x="507.00" y="299.10" font-size="7.0" text-anchor="end" fill="#333" font-weight="normal" font-family="Liberation Sans" >-0.4</text>
<text x="507.00" y="312.20" font-size="7.0" text-anchor="end" fill="#333" font-weight="normal" font-family="Liberation Sans" >-0.5</text>
<text x="565.80" y="260.00" font-size="8.7" text-anchor="start" fill="#231f20" font-weight="normal" font-family="Liberation Sans" >NES=-1.97</text>
<text x="565.80" y="270.70" font-size="8.7" text-anchor="start" fill="#231f20" font-weight="normal" font-family="Liberation Sans" >FDR=0.0033</text>
<text x="565.80" y="280.80" font-size="8.0" text-anchor="start" fill="#777" font-weight="normal" font-family="Liberation Serif" >p=0</text>
<text x="550.90" y="345.60" font-size="7.7" text-anchor="middle" fill="#231f20" font-weight="normal" font-family="Liberation Sans" >MIA PaCa-2-shOFD1</text>
<text x="630.50" y="344.80" font-size="7.7" text-anchor="middle" fill="#231f20" font-weight="normal" font-family="Liberation Sans" >MIA PaCa-2</text>
<text x="550.90" y="356.00" font-size="7.7" text-anchor="middle" font-family="Liberation Sans" fill="#231f20">(<tspan fill="#e8303c">positively correlated</tspan>)</text>
<text x="630.50" y="356.00" font-size="7.7" text-anchor="middle" font-family="Liberation Sans" fill="#231f20">(<tspan fill="#3a48a8">negatively correlated</tspan>)</text>
<text x="6.20" y="385.60" font-size="12.5" text-anchor="start" fill="#231f20" font-weight="bold" font-family="Liberation Sans" >g</text>
<text x="99.00" y="388.00" font-size="8.8" text-anchor="middle" fill="#231f20" font-weight="normal" font-family="Liberation Sans" >KEGG DNA replication</text>
<text transform="translate(6.30,438.60) rotate(-90)" font-size="7.1" text-anchor="middle" fill="#231f20" font-family="Liberation Sans">Enrichment score(ES)</text>
<rect x="23.70" y="398.00" width="145.80" height="92.50" fill="#ffffff" stroke="#a2a2a2" stroke-width="1.0" />
<line x1="24.20" y1="401.80" x2="169.00" y2="401.80" stroke="#e6e6e6" stroke-width="0.8" />
<line x1="24.20" y1="465.40" x2="169.00" y2="465.40" stroke="#777" stroke-width="0.9" />
<line x1="61.90" y1="466.00" x2="61.90" y2="482.00" stroke="#bbb" stroke-width="0.9" />
<line x1="72.50" y1="466.00" x2="72.50" y2="482.00" stroke="#555" stroke-width="0.9" />
<line x1="76.10" y1="466.00" x2="76.10" y2="482.00" stroke="#666" stroke-width="0.9" />
<line x1="96.90" y1="466.00" x2="96.90" y2="482.00" stroke="#ccc" stroke-width="0.9" />
<line x1="115.00" y1="466.00" x2="115.00" y2="482.00" stroke="#555" stroke-width="0.9" />
<line x1="116.80" y1="466.00" x2="116.80" y2="482.00" stroke="#666" stroke-width="0.9" />
<line x1="119.10" y1="466.00" x2="119.10" y2="482.00" stroke="#555" stroke-width="0.9" />
<line x1="121.80" y1="466.00" x2="121.80" y2="482.00" stroke="#666" stroke-width="0.9" />
<line x1="124.50" y1="466.00" x2="124.50" y2="482.00" stroke="#555" stroke-width="0.9" />
<line x1="126.30" y1="466.00" x2="126.30" y2="482.00" stroke="#777" stroke-width="0.9" />
<line x1="132.00" y1="466.00" x2="132.00" y2="482.00" stroke="#666" stroke-width="0.9" />
<line x1="133.30" y1="466.00" x2="133.30" y2="482.00" stroke="#777" stroke-width="0.9" />
<line x1="142.20" y1="466.00" x2="142.20" y2="482.00" stroke="#777" stroke-width="0.9" />
<line x1="150.10" y1="466.00" x2="150.10" y2="482.00" stroke="#ccc" stroke-width="0.9" />
<line x1="151.80" y1="466.00" x2="151.80" y2="482.00" stroke="#bbb" stroke-width="0.9" />
<line x1="153.50" y1="466.00" x2="153.50" y2="482.00" stroke="#ccc" stroke-width="0.9" />
<line x1="155.70" y1="466.00" x2="155.70" y2="482.00" stroke="#777" stroke-width="0.9" />
<line x1="158.50" y1="466.00" x2="158.50" y2="482.00" stroke="#666" stroke-width="0.9" />
<line x1="160.30" y1="466.00" x2="160.30" y2="482.00" stroke="#777" stroke-width="0.9" />
<line x1="162.10" y1="466.00" x2="162.10" y2="482.00" stroke="#555" stroke-width="0.9" />
<line x1="163.70" y1="466.00" x2="163.70" y2="482.00" stroke="#777" stroke-width="0.9" />
<line x1="166.00" y1="466.00" x2="166.00" y2="482.00" stroke="#666" stroke-width="0.9" />
<line x1="168.00" y1="466.00" x2="168.00" y2="482.00" stroke="#888" stroke-width="0.9" />
<defs><linearGradient id="g4" x1="0" x2="1" y1="0" y2="0"><stop offset="0" stop-color="#e0202c"/><stop offset="0.15" stop-color="#e64a55"/><stop offset="0.33" stop-color="#f0a0a6"/><stop offset="0.47" stop-color="#fbeeee"/><stop offset="0.51" stop-color="#ffffff"/><stop offset="0.6" stop-color="#e4e6f2"/><stop offset="0.75" stop-color="#9aa4d2"/><stop offset="0.9" stop-color="#5668b4"/><stop offset="1" stop-color="#2a3c96"/></linearGradient></defs>
<rect x="24.30" y="482.00" width="143.70" height="8.20" fill="url(#g4)" stroke="none" stroke-width="1" />
<line x1="24.30" y1="462.50" x2="149.50" y2="462.50" stroke="#3a9a4a" stroke-width="0.8" stroke-dasharray="1,1.3"/>
<line x1="149.50" y1="401.50" x2="149.50" y2="465.00" stroke="#3a9a4a" stroke-width="0.8" stroke-dasharray="1,1.3"/>
<polyline points="24.30,401.80 35.00,409.50 45.00,416.00 55.00,422.50 60.60,425.20 62.40,424.30 64.00,425.60 71.90,430.40 73.50,429.80 76.20,432.20 85.00,437.80 95.00,444.00 105.00,450.50 110.00,453.80 115.70,456.50 118.60,455.60 122.00,457.00 126.00,458.00 129.40,458.90 133.30,455.60 137.00,457.50 141.10,459.50 143.10,457.50 146.00,459.50 148.90,462.00 150.50,452.60 152.80,451.70 155.00,450.80 157.70,449.70 159.70,444.80 161.70,438.90 163.00,427.20 164.60,417.40 166.20,409.60 167.50,401.70" fill="none" stroke="#2f9450" stroke-width="1.4" stroke-linejoin="round" />
<text x="18.70" y="407.20" font-size="6.6" text-anchor="end" fill="#333" font-weight="normal" font-family="Liberation Sans" >0.0</text>
<text x="18.70" y="417.60" font-size="6.6" text-anchor="end" fill="#333" font-weight="normal" font-family="Liberation Sans" >-0.1</text>
<text x="18.70" y="428.00" font-size="6.6" text-anchor="end" fill="#333" font-weight="normal" font-family="Liberation Sans" >-0.2</text>
<text x="18.70" y="438.00" font-size="6.6" text-anchor="end" fill="#333" font-weight="normal" font-family="Liberation Sans" >-0.3</text>
<text x="18.70" y="448.10" font-size="6.6" text-anchor="end" fill="#333" font-weight="normal" font-family="Liberation Sans" >-0.4</text>
<text x="18.70" y="457.90" font-size="6.6" text-anchor="end" fill="#333" font-weight="normal" font-family="Liberation Sans" >-0.5</text>
<text x="18.70" y="467.80" font-size="6.6" text-anchor="end" fill="#333" font-weight="normal" font-family="Liberation Sans" >-0.6</text>
<text x="92.30" y="418.30" font-size="8.7" text-anchor="start" fill="#231f20" font-weight="normal" font-family="Liberation Sans" >NES=-2.40</text>
<text x="92.30" y="430.00" font-size="8.7" text-anchor="start" fill="#231f20" font-weight="normal" font-family="Liberation Sans" >FDR=0</text>
<text x="92.30" y="441.10" font-size="8.7" text-anchor="start" fill="#231f20" font-weight="normal" font-family="Liberation Sans" >p=0</text>
<text x="61.30" y="501.70" font-size="7.7" text-anchor="middle" fill="#231f20" font-weight="normal" font-family="Liberation Sans" >MIA PaCa-2-shOFD1</text>
<text x="140.90" y="500.00" font-size="7.7" text-anchor="middle" fill="#231f20" font-weight="normal" font-family="Liberation Sans" >MIA PaCa-2</text>
<text x="62.00" y="511.20" font-size="7.7" text-anchor="middle" font-family="Liberation Sans" fill="#231f20">(<tspan fill="#e8303c">positively correlated</tspan>)</text>
<text x="139.90" y="509.90" font-size="7.7" text-anchor="middle" font-family="Liberation Sans" fill="#231f20">(<tspan fill="#3a48a8">negatively correlated</tspan>)</text>
<text x="220.60" y="383.60" font-size="12.5" text-anchor="start" fill="#231f20" font-weight="bold" font-family="Liberation Sans" >h</text>
<text x="303.00" y="400.40" font-size="8.9" text-anchor="middle" fill="#231f20" font-weight="normal" font-family="Liberation Sans" >MIA PaCa-2</text>
<line x1="264.40" y1="404.20" x2="337.40" y2="404.20" stroke="#444" stroke-width="1.0" />
<text transform="translate(270.30,422.80) rotate(-45)" font-size="8.4" fill="#231f20" font-family="Liberation Sans">ctr</text>
<text transform="translate(293.80,425.50) rotate(-45)" font-size="8.4" fill="#231f20" font-family="Liberation Sans">sh#1</text>
<text transform="translate(316.30,423.50) rotate(-45)" font-size="8.4" fill="#231f20" font-family="Liberation Sans">sh#2</text>
<text x="342.50" y="418.50" font-size="7.6" fill="#231f20" font-family="Liberation Sans">MW<tspan dx="3.42">(</tspan><tspan dx="2.66">KD</tspan><tspan dx="2.28">)</tspan></text>
<defs><clipPath id="c1"><rect x="262.30" y="427.30" width="78.00" height="19.00"/></clipPath></defs>
<g clip-path="url(#c1)">
<rect x="262.30" y="427.30" width="78.00" height="19.00" fill="#dadada" stroke="none" stroke-width="1" />
<rect x="267.00" y="427.30" width="18.00" height="19.00" fill="#999" opacity="0.18" filter="url(#bl3)"/>
<rect x="291.00" y="427.30" width="18.00" height="19.00" fill="#999" opacity="0.18" filter="url(#bl3)"/>
<rect x="315.30" y="427.30" width="18.00" height="19.00" fill="#999" opacity="0.18" filter="url(#bl3)"/>
<rect x="267.00" y="434.70" width="18.00" height="7.60" rx="3.80" fill="#333" opacity="0.45" filter="url(#bl2)"/>
<rect x="267.50" y="435.00" width="17.00" height="2.60" rx="1.30" fill="#000" opacity="1.0" filter="url(#bl1)"/>
<rect x="291.00" y="434.05" width="18.00" height="3.50" rx="1.75" fill="#000" opacity="0.22" filter="url(#bl2)"/>
<rect x="314.80" y="434.05" width="19.00" height="3.50" rx="1.75" fill="#000" opacity="0.22" filter="url(#bl2)"/>
</g>
<rect x="262.30" y="427.30" width="78.00" height="19.00" fill="none" stroke="#222" stroke-width="1.2" />
<defs><clipPath id="c2"><rect x="262.30" y="448.40" width="78.00" height="19.40"/></clipPath></defs>
<g clip-path="url(#c2)">
<rect x="262.30" y="448.40" width="78.00" height="19.40" fill="#d6d6d6" stroke="none" stroke-width="1" />
<rect x="267.00" y="448.40" width="18.00" height="19.40" fill="#999" opacity="0.18" filter="url(#bl3)"/>
<rect x="291.00" y="448.40" width="18.00" height="19.40" fill="#999" opacity="0.18" filter="url(#bl3)"/>
<rect x="315.30" y="448.40" width="18.00" height="19.40" fill="#999" opacity="0.18" filter="url(#bl3)"/>
<rect x="267.00" y="457.45" width="17.00" height="5.50" rx="2.75" fill="#222" opacity="0.7" filter="url(#bl2)"/>
<rect x="291.00" y="457.55" width="18.00" height="4.50" rx="2.25" fill="#000" opacity="0.25" filter="url(#bl2)"/>
<rect x="314.80" y="457.55" width="19.00" height="4.50" rx="2.25" fill="#000" opacity="0.25" filter="url(#bl2)"/>
</g>
<rect x="262.30" y="448.40" width="78.00" height="19.40" fill="none" stroke="#222" stroke-width="1.2" />
<defs><clipPath id="c3"><rect x="262.30" y="468.90" width="78.00" height="19.40"/></clipPath></defs>
<g clip-path="url(#c3)">
<rect x="262.30" y="468.90" width="78.00" height="19.40" fill="#d6d6d6" stroke="none" stroke-width="1" />
<rect x="267.00" y="468.90" width="18.00" height="19.40" fill="#999" opacity="0.18" filter="url(#bl3)"/>
<rect x="291.00" y="468.90" width="18.00" height="19.40" fill="#999" opacity="0.18" filter="url(#bl3)"/>
<rect x="315.30" y="468.90" width="18.00" height="19.40" fill="#999" opacity="0.18" filter="url(#bl3)"/>
<rect x="267.50" y="475.60" width="23.00" height="7.80" rx="3.90" fill="#333" opacity="0.4" filter="url(#bl2)"/>
<rect x="269.00" y="477.10" width="20.00" height="4.80" rx="2.40" fill="#000" opacity="1.0" filter="url(#bl1)"/>
<rect x="288.25" y="476.00" width="21.50" height="7.40" rx="3.70" fill="#333" opacity="0.4" filter="url(#bl2)"/>
<rect x="289.75" y="477.50" width="18.50" height="4.40" rx="2.20" fill="#000" opacity="0.92" filter="url(#bl1)"/>
<rect x="309.25" y="476.00" width="24.50" height="7.40" rx="3.70" fill="#333" opacity="0.4" filter="url(#bl2)"/>
<rect x="310.75" y="477.50" width="21.50" height="4.40" rx="2.20" fill="#000" opacity="0.85" filter="url(#bl1)"/>
</g>
<rect x="262.30" y="468.90" width="78.00" height="19.40" fill="none" stroke="#222" stroke-width="1.2" />
<text x="258.00" y="443.10" font-size="9.3" text-anchor="end" fill="#231f20" font-weight="normal" font-family="Liberation Sans" >OFD1</text>
<text x="261.00" y="462.30" font-size="9.3" text-anchor="end" fill="#231f20" font-weight="normal" font-family="Liberation Sans" >BRCA1</text>
<text x="260.00" y="481.50" font-size="9.3" text-anchor="end" fill="#231f20" font-weight="normal" font-family="Liberation Sans" >β-Actin</text>
<text x="260.80" y="498.20" font-size="8.9" text-anchor="end" fill="#231f20" font-weight="normal" font-family="Liberation Sans" >BRCA1/β-Actin</text>
<text x="263.20" y="498.20" font-size="9.0" text-anchor="start" fill="#231f20" font-weight="normal" font-family="Liberation Sans" >1.0</text>
<text x="290.20" y="498.20" font-size="9.0" text-anchor="start" fill="#231f20" font-weight="normal" font-family="Liberation Sans" >0.36</text>
<text x="317.40" y="498.20" font-size="9.0" text-anchor="start" fill="#231f20" font-weight="normal" font-family="Liberation Sans" >0.38</text>
<text x="344.00" y="435.20" font-size="9.2" text-anchor="start" fill="#231f20" font-weight="normal" font-family="Liberation Sans" >150</text>
<line x1="340.50" y1="431.90" x2="343.00" y2="431.90" stroke="#333" stroke-width="0.9" />
<text x="344.00" y="466.20" font-size="9.2" text-anchor="start" fill="#231f20" font-weight="normal" font-family="Liberation Sans" >250</text>
<line x1="340.50" y1="462.90" x2="343.00" y2="462.90" stroke="#333" stroke-width="0.9" />
<text x="344.00" y="477.20" font-size="9.2" text-anchor="start" fill="#231f20" font-weight="normal" font-family="Liberation Sans" >50</text>
<line x1="340.50" y1="473.90" x2="343.00" y2="473.90" stroke="#333" stroke-width="0.9" />
<text x="401.40" y="383.40" font-size="12.5" text-anchor="start" fill="#231f20" font-weight="bold" font-family="Liberation Sans" >i</text>
<text x="455.70" y="401.60" font-size="8.9" text-anchor="middle" fill="#231f20" font-weight="normal" font-family="Liberation Sans" >SW1990</text>
<line x1="427.30" y1="403.90" x2="490.20" y2="403.90" stroke="#888" stroke-width="1.0" />
<text transform="translate(428.60,423.00) rotate(-45)" font-size="8.8" fill="#231f20" font-family="Liberation Sans">ctr</text>
<text transform="translate(450.50,423.00) rotate(-45)" font-size="8.8" fill="#231f20" font-family="Liberation Sans">sh#1</text>
<text transform="translate(472.40,423.00) rotate(-45)" font-size="8.8" fill="#231f20" font-family="Liberation Sans">sh#2</text>
<text x="500.40" y="418.20" font-size="7.6" fill="#231f20" font-family="Liberation Sans">MW<tspan dx="3.42">(</tspan><tspan dx="2.66">KD</tspan><tspan dx="2.28">)</tspan></text>
<defs><clipPath id="c4"><rect x="418.30" y="426.10" width="77.20" height="18.30"/></clipPath></defs>
<g clip-path="url(#c4)">
<rect x="418.30" y="426.10" width="77.20" height="18.30" fill="#d8d8d8" stroke="none" stroke-width="1" />
<rect x="423.80" y="426.10" width="18.00" height="18.30" fill="#999" opacity="0.18" filter="url(#bl3)"/>
<rect x="448.00" y="426.10" width="18.00" height="18.30" fill="#999" opacity="0.18" filter="url(#bl3)"/>
<rect x="473.00" y="426.10" width="18.00" height="18.30" fill="#999" opacity="0.18" filter="url(#bl3)"/>
<rect x="423.55" y="432.60" width="18.50" height="7.20" rx="3.60" fill="#333" opacity="0.45" filter="url(#bl2)"/>
<rect x="424.55" y="433.10" width="16.50" height="3.20" rx="1.60" fill="#000" opacity="1.0" filter="url(#bl1)"/>
<rect x="448.50" y="434.25" width="17.00" height="3.50" rx="1.75" fill="#000" opacity="0.22" filter="url(#bl2)"/>
<rect x="473.50" y="434.25" width="17.00" height="3.50" rx="1.75" fill="#000" opacity="0.26" filter="url(#bl2)"/>
</g>
<rect x="418.30" y="426.10" width="77.20" height="18.30" fill="none" stroke="#222" stroke-width="1.2" />
<defs><clipPath id="c5"><rect x="418.30" y="447.00" width="77.20" height="18.30"/></clipPath></defs>
<g clip-path="url(#c5)">
<rect x="418.30" y="447.00" width="77.20" height="18.30" fill="#d4d4d4" stroke="none" stroke-width="1" />
<rect x="423.80" y="447.00" width="18.00" height="18.30" fill="#999" opacity="0.18" filter="url(#bl3)"/>
<rect x="448.00" y="447.00" width="18.00" height="18.30" fill="#999" opacity="0.18" filter="url(#bl3)"/>
<rect x="473.00" y="447.00" width="18.00" height="18.30" fill="#999" opacity="0.18" filter="url(#bl3)"/>
<rect x="423.55" y="454.95" width="18.50" height="6.70" rx="3.35" fill="#333" opacity="0.4" filter="url(#bl2)"/>
<rect x="424.55" y="455.70" width="16.50" height="3.20" rx="1.60" fill="#000" opacity="0.92" filter="url(#bl1)"/>
<rect x="447.70" y="454.15" width="19.00" height="6.90" rx="3.45" fill="#333" opacity="0.25" filter="url(#bl2)"/>
<rect x="448.70" y="454.90" width="17.00" height="3.40" rx="1.70" fill="#000" opacity="0.42" filter="url(#bl1)"/>
<rect x="472.50" y="453.35" width="19.00" height="6.90" rx="3.45" fill="#333" opacity="0.25" filter="url(#bl2)"/>
<rect x="473.50" y="454.10" width="17.00" height="3.40" rx="1.70" fill="#000" opacity="0.42" filter="url(#bl1)"/>
</g>
<rect x="418.30" y="447.00" width="77.20" height="18.30" fill="none" stroke="#222" stroke-width="1.2" />
<defs><clipPath id="c6"><rect x="418.30" y="467.10" width="77.20" height="18.60"/></clipPath></defs>
<g clip-path="url(#c6)">
<rect x="418.30" y="467.10" width="77.20" height="18.60" fill="#d4d4d4" stroke="none" stroke-width="1" />
<rect x="423.80" y="467.10" width="18.00" height="18.60" fill="#999" opacity="0.18" filter="url(#bl3)"/>
<rect x="448.00" y="467.10" width="18.00" height="18.60" fill="#999" opacity="0.18" filter="url(#bl3)"/>
<rect x="473.00" y="467.10" width="18.00" height="18.60" fill="#999" opacity="0.18" filter="url(#bl3)"/>
<rect x="423.60" y="472.10" width="20.00" height="7.20" rx="3.60" fill="#333" opacity="0.45" filter="url(#bl2)"/>
<rect x="425.10" y="473.60" width="17.00" height="4.20" rx="2.10" fill="#000" opacity="0.82" filter="url(#bl1)"/>
<rect x="445.00" y="472.20" width="22.00" height="7.20" rx="3.60" fill="#333" opacity="0.45" filter="url(#bl2)"/>
<rect x="446.50" y="473.70" width="19.00" height="4.20" rx="2.10" fill="#000" opacity="0.8" filter="url(#bl1)"/>
<rect x="467.20" y="473.00" width="24.00" height="7.60" rx="3.80" fill="#333" opacity="0.45" filter="url(#bl2)"/>
<rect x="468.70" y="474.50" width="21.00" height="4.60" rx="2.30" fill="#000" opacity="0.72" filter="url(#bl1)"/>
</g>
<rect x="418.30" y="467.10" width="77.20" height="18.60" fill="none" stroke="#222" stroke-width="1.2" />
<text x="413.50" y="441.10" font-size="9.3" text-anchor="end" fill="#231f20" font-weight="normal" font-family="Liberation Sans" >OFD1</text>
<text x="414.70" y="459.20" font-size="9.3" text-anchor="end" fill="#231f20" font-weight="normal" font-family="Liberation Sans" >BRCA1</text>
<text x="416.60" y="479.60" font-size="9.3" text-anchor="end" fill="#231f20" font-weight="normal" font-family="Liberation Sans" >β-Actin</text>
<text x="408.70" y="497.70" font-size="9.0" text-anchor="end" fill="#231f20" font-weight="normal" font-family="Liberation Sans" >BRCA1/β-Actin</text>
<text x="417.00" y="497.70" font-size="9.0" text-anchor="start" fill="#231f20" font-weight="normal" font-family="Liberation Sans" >1.0</text>
<text x="446.00" y="497.70" font-size="9.0" text-anchor="start" fill="#231f20" font-weight="normal" font-family="Liberation Sans" >0.44</text>
<text x="480.00" y="497.70" font-size="9.0" text-anchor="start" fill="#231f20" font-weight="normal" font-family="Liberation Sans" >0.46</text>
<text x="502.80" y="433.00" font-size="9.2" text-anchor="start" fill="#231f20" font-weight="normal" font-family="Liberation Sans" >150</text>
<line x1="499.30" y1="429.70" x2="501.80" y2="429.70" stroke="#333" stroke-width="0.9" />
<text x="502.80" y="464.80" font-size="9.2" text-anchor="start" fill="#231f20" font-weight="normal" font-family="Liberation Sans" >250</text>
<line x1="499.30" y1="461.50" x2="501.80" y2="461.50" stroke="#333" stroke-width="0.9" />
<text x="502.80" y="475.60" font-size="9.2" text-anchor="start" fill="#231f20" font-weight="normal" font-family="Liberation Sans" >50</text>
<line x1="499.30" y1="472.30" x2="501.80" y2="472.30" stroke="#333" stroke-width="0.9" />
<text x="558.10" y="384.20" font-size="12.5" text-anchor="start" fill="#231f20" font-weight="bold" font-family="Liberation Sans" >j</text>
<text x="614.40" y="399.30" font-size="8.9" text-anchor="middle" fill="#231f20" font-weight="normal" font-family="Liberation Sans" >PATU8988T</text>
<line x1="582.60" y1="401.30" x2="649.80" y2="401.30" stroke="#444" stroke-width="1.0" />
<text transform="translate(584.50,422.00) rotate(-45)" font-size="8.8" fill="#231f20" font-family="Liberation Sans">ctr</text>
<text transform="translate(607.30,424.20) rotate(-45)" font-size="8.8" fill="#231f20" font-family="Liberation Sans">sh#1</text>
<text transform="translate(631.00,422.60) rotate(-45)" font-size="8.8" fill="#231f20" font-family="Liberation Sans">sh#2</text>
<text x="650.50" y="418.50" font-size="7.6" fill="#231f20" font-family="Liberation Sans">MW<tspan dx="3.42">(</tspan><tspan dx="2.66">KD</tspan><tspan dx="2.28">)</tspan></text>
<defs><clipPath id="c7"><rect x="574.10" y="424.20" width="77.20" height="19.30"/></clipPath></defs>
<g clip-path="url(#c7)">
<rect x="574.10" y="424.20" width="77.20" height="19.30" fill="#d8d8d8" stroke="none" stroke-width="1" />
<rect x="578.50" y="424.20" width="18.00" height="19.30" fill="#999" opacity="0.18" filter="url(#bl3)"/>
<rect x="603.00" y="424.20" width="18.00" height="19.30" fill="#999" opacity="0.18" filter="url(#bl3)"/>
<rect x="627.40" y="424.20" width="18.00" height="19.30" fill="#999" opacity="0.18" filter="url(#bl3)"/>
<rect x="579.25" y="431.90" width="16.50" height="7.40" rx="3.70" fill="#333" opacity="0.5" filter="url(#bl2)"/>
<rect x="579.75" y="432.20" width="15.50" height="2.40" rx="1.20" fill="#000" opacity="1.0" filter="url(#bl1)"/>
<rect x="603.00" y="431.50" width="18.00" height="4.00" rx="2.00" fill="#000" opacity="0.22" filter="url(#bl2)"/>
<rect x="627.90" y="431.50" width="17.00" height="4.00" rx="2.00" fill="#000" opacity="0.22" filter="url(#bl2)"/>
</g>
<rect x="574.10" y="424.20" width="77.20" height="19.30" fill="none" stroke="#222" stroke-width="1.2" />
<defs><clipPath id="c8"><rect x="574.10" y="446.40" width="77.20" height="18.30"/></clipPath></defs>
<g clip-path="url(#c8)">
<rect x="574.10" y="446.40" width="77.20" height="18.30" fill="#d2d2d2" stroke="none" stroke-width="1" />
<rect x="578.50" y="446.40" width="18.00" height="18.30" fill="#999" opacity="0.18" filter="url(#bl3)"/>
<rect x="603.00" y="446.40" width="18.00" height="18.30" fill="#999" opacity="0.18" filter="url(#bl3)"/>
<rect x="627.40" y="446.40" width="18.00" height="18.30" fill="#999" opacity="0.18" filter="url(#bl3)"/>
<rect x="579.00" y="453.85" width="17.00" height="5.50" rx="2.75" fill="#222" opacity="0.55" filter="url(#bl2)"/>
<rect x="603.00" y="453.80" width="18.00" height="5.00" rx="2.50" fill="#000" opacity="0.28" filter="url(#bl2)"/>
<rect x="627.90" y="453.80" width="17.00" height="5.00" rx="2.50" fill="#000" opacity="0.32" filter="url(#bl2)"/>
</g>
<rect x="574.10" y="446.40" width="77.20" height="18.30" fill="none" stroke="#222" stroke-width="1.2" />
<defs><clipPath id="c9"><rect x="574.10" y="466.40" width="77.20" height="18.80"/></clipPath></defs>
<g clip-path="url(#c9)">
<rect x="574.10" y="466.40" width="77.20" height="18.80" fill="#d4d4d4" stroke="none" stroke-width="1" />
<rect x="578.50" y="466.40" width="18.00" height="18.80" fill="#999" opacity="0.18" filter="url(#bl3)"/>
<rect x="603.00" y="466.40" width="18.00" height="18.80" fill="#999" opacity="0.18" filter="url(#bl3)"/>
<rect x="627.40" y="466.40" width="18.00" height="18.80" fill="#999" opacity="0.18" filter="url(#bl3)"/>
<rect x="579.80" y="471.70" width="22.00" height="7.60" rx="3.80" fill="#333" opacity="0.45" filter="url(#bl2)"/>
<rect x="581.30" y="473.20" width="19.00" height="4.60" rx="2.30" fill="#000" opacity="0.88" filter="url(#bl1)"/>
<rect x="600.85" y="471.80" width="21.50" height="7.40" rx="3.70" fill="#333" opacity="0.4" filter="url(#bl2)"/>
<rect x="602.35" y="473.30" width="18.50" height="4.40" rx="2.20" fill="#000" opacity="0.78" filter="url(#bl1)"/>
<rect x="620.60" y="472.00" width="24.00" height="7.60" rx="3.80" fill="#333" opacity="0.4" filter="url(#bl2)"/>
<rect x="622.10" y="473.50" width="21.00" height="4.60" rx="2.30" fill="#000" opacity="0.78" filter="url(#bl1)"/>
</g>
<rect x="574.10" y="466.40" width="77.20" height="18.80" fill="none" stroke="#222" stroke-width="1.2" />
<text x="570.50" y="438.70" font-size="9.3" text-anchor="end" fill="#231f20" font-weight="normal" font-family="Liberation Sans" >OFD1</text>
<text x="570.50" y="459.90" font-size="9.3" text-anchor="end" fill="#231f20" font-weight="normal" font-family="Liberation Sans" >BRCA1</text>
<text x="570.50" y="479.00" font-size="9.3" text-anchor="end" fill="#231f20" font-weight="normal" font-family="Liberation Sans" >β-Actin</text>
<text x="575.80" y="496.60" font-size="9.0" text-anchor="end" fill="#231f20" font-weight="normal" font-family="Liberation Sans" >BRCA1/β-Actin</text>
<text x="579.40" y="497.30" font-size="9.0" text-anchor="start" fill="#231f20" font-weight="normal" font-family="Liberation Sans" >1.0</text>
<text x="601.80" y="497.30" font-size="9.0" text-anchor="start" fill="#231f20" font-weight="normal" font-family="Liberation Sans" >0.34</text>
<text x="628.80" y="497.30" font-size="9.0" text-anchor="start" fill="#231f20" font-weight="normal" font-family="Liberation Sans" >0.39</text>
<text x="655.40" y="431.80" font-size="9.2" text-anchor="start" fill="#231f20" font-weight="normal" font-family="Liberation Sans" >150</text>
<line x1="651.90" y1="428.50" x2="654.40" y2="428.50" stroke="#333" stroke-width="0.9" />
<text x="655.40" y="464.30" font-size="9.2" text-anchor="start" fill="#231f20" font-weight="normal" font-family="Liberation Sans" >250</text>
<line x1="651.90" y1="461.00" x2="654.40" y2="461.00" stroke="#333" stroke-width="0.9" />
<text x="655.40" y="475.20" font-size="9.2" text-anchor="start" fill="#231f20" font-weight="normal" font-family="Liberation Sans" >50</text>
<line x1="651.90" y1="471.90" x2="654.40" y2="471.90" stroke="#333" stroke-width="0.9" />
<text x="7.20" y="535.80" font-size="11.6" text-anchor="start" fill="#231f20" font-weight="bold" font-family="Liberation Sans" >k</text>
<text x="113.50" y="534.50" font-size="8.9" text-anchor="middle" fill="#231f20" font-weight="normal" font-family="Liberation Sans" >MIA PaCa2</text>
<line x1="84.20" y1="538.00" x2="157.90" y2="538.00" stroke="#555" stroke-width="1.0" />
<text x="75.80" y="552.20" font-size="9.0" text-anchor="end" fill="#231f20" font-weight="normal" font-family="Liberation Sans" >Dox:</text>
<text x="75.80" y="567.00" font-size="9.0" text-anchor="end" fill="#231f20" font-weight="normal" font-family="Liberation Sans" >siOFD1:</text>
<text x="95.70" y="552.20" font-size="9.0" text-anchor="middle" fill="#231f20" font-weight="normal" font-family="Liberation Sans" >0</text>
<text x="108.70" y="552.20" font-size="9.0" text-anchor="middle" fill="#231f20" font-weight="normal" font-family="Liberation Sans" >0</text>
<text x="123.00" y="552.20" font-size="9.0" text-anchor="middle" fill="#231f20" font-weight="normal" font-family="Liberation Sans" >25</text>
<text x="137.00" y="552.20" font-size="9.0" text-anchor="middle" fill="#231f20" font-weight="normal" font-family="Liberation Sans" >50</text>
<text x="144.00" y="552.20" font-size="9.0" text-anchor="start" fill="#231f20" font-weight="normal" font-family="Liberation Sans" >ng/mL</text>
<text x="95.70" y="567.00" font-size="9.0" text-anchor="middle" fill="#231f20" font-weight="normal" font-family="Liberation Sans" >-</text>
<text x="108.70" y="567.00" font-size="9.0" text-anchor="middle" fill="#231f20" font-weight="normal" font-family="Liberation Sans" >+</text>
<text x="123.00" y="567.00" font-size="9.0" text-anchor="middle" fill="#231f20" font-weight="normal" font-family="Liberation Sans" >+</text>
<text x="137.00" y="567.00" font-size="9.0" text-anchor="middle" fill="#231f20" font-weight="normal" font-family="Liberation Sans" >+</text>
<text x="158.00" y="569.50" font-size="9.0" text-anchor="start" fill="#231f20" font-weight="normal" font-family="Liberation Sans" letter-spacing="1">kDa</text>
<defs><clipPath id="c10"><rect x="84.80" y="574.20" width="63.70" height="19.30"/></clipPath></defs>
<g clip-path="url(#c10)">
<defs><linearGradient id="bg10" x1="0" x2="0" y1="0" y2="1"><stop offset="0" stop-color="#e4e4e4"/><stop offset="1" stop-color="#c8c8c8"/></linearGradient></defs>
<rect x="84.80" y="574.20" width="63.70" height="19.30" fill="url(#bg10)" stroke="none" stroke-width="1" />
<rect x="89.00" y="574.20" width="13.00" height="19.30" fill="#999" opacity="0.18" filter="url(#bl3)"/>
<rect x="103.00" y="574.20" width="13.00" height="19.30" fill="#999" opacity="0.18" filter="url(#bl3)"/>
<rect x="117.50" y="574.20" width="13.00" height="19.30" fill="#999" opacity="0.18" filter="url(#bl3)"/>
<rect x="132.80" y="574.20" width="13.00" height="19.30" fill="#999" opacity="0.18" filter="url(#bl3)"/>
<rect x="89.30" y="575.45" width="13.00" height="17.50" rx="6.50" fill="#333" opacity="0.5" filter="url(#bl2)"/>
<rect x="90.30" y="575.95" width="11.00" height="14.50" rx="5.50" fill="#000" opacity="1.0" filter="url(#bl1)"/>
<rect x="103.50" y="583.50" width="11.00" height="2.40" rx="1.20" fill="#000" opacity="0.55" filter="url(#bl2)"/>
<rect x="113.05" y="583.40" width="2.50" height="2.60" rx="1.25" fill="#000" opacity="0.9" filter="url(#bl1)"/>
<rect x="116.25" y="581.50" width="15.50" height="6.40" rx="3.20" fill="#333" opacity="0.35" filter="url(#bl2)"/>
<rect x="117.25" y="583.00" width="13.50" height="3.40" rx="1.70" fill="#000" opacity="0.92" filter="url(#bl1)"/>
<rect x="131.55" y="581.30" width="15.50" height="6.60" rx="3.30" fill="#333" opacity="0.35" filter="url(#bl2)"/>
<rect x="132.55" y="582.80" width="13.50" height="3.60" rx="1.80" fill="#000" opacity="0.95" filter="url(#bl1)"/>
</g>
<rect x="84.80" y="574.20" width="63.70" height="19.30" fill="none" stroke="#222" stroke-width="1.2" />
<defs><clipPath id="c11"><rect x="84.80" y="595.60" width="63.70" height="29.50"/></clipPath></defs>
<g clip-path="url(#c11)">
<defs><linearGradient id="bg11" x1="0" x2="0" y1="0" y2="1"><stop offset="0" stop-color="#e0e0e0"/><stop offset="1" stop-color="#cccccc"/></linearGradient></defs>
<rect x="84.80" y="595.60" width="63.70" height="29.50" fill="url(#bg11)" stroke="none" stroke-width="1" />
<rect x="89.00" y="595.60" width="13.00" height="29.50" fill="#999" opacity="0.18" filter="url(#bl3)"/>
<rect x="103.00" y="595.60" width="13.00" height="29.50" fill="#999" opacity="0.18" filter="url(#bl3)"/>
<rect x="117.50" y="595.60" width="13.00" height="29.50" fill="#999" opacity="0.18" filter="url(#bl3)"/>
<rect x="132.80" y="595.60" width="13.00" height="29.50" fill="#999" opacity="0.18" filter="url(#bl3)"/>
<rect x="87.25" y="608.25" width="13.50" height="12.50" rx="6.25" fill="#333" opacity="0.45" filter="url(#bl2)"/>
<rect x="88.25" y="609.75" width="11.50" height="9.50" rx="4.75" fill="#000" opacity="1.0" filter="url(#bl1)"/>
<rect x="88.50" y="603.10" width="11.00" height="3.00" rx="1.50" fill="#000" opacity="0.25" filter="url(#bl2)"/>
<rect x="103.30" y="604.75" width="12.00" height="3.50" rx="1.75" fill="#000" opacity="0.22" filter="url(#bl2)"/>
<rect x="117.05" y="601.50" width="13.50" height="8.40" rx="4.20" fill="#333" opacity="0.35" filter="url(#bl2)"/>
<rect x="118.05" y="603.00" width="11.50" height="5.40" rx="2.70" fill="#000" opacity="0.97" filter="url(#bl1)"/>
<rect x="131.95" y="600.75" width="14.50" height="9.50" rx="4.75" fill="#333" opacity="0.35" filter="url(#bl2)"/>
<rect x="132.95" y="602.25" width="12.50" height="6.50" rx="3.25" fill="#000" opacity="0.98" filter="url(#bl1)"/>
<rect x="118.00" y="609.00" width="12.00" height="12.00" rx="6.00" fill="#000" opacity="0.12" filter="url(#bl3)"/>
<rect x="133.00" y="609.00" width="12.00" height="12.00" rx="6.00" fill="#000" opacity="0.12" filter="url(#bl3)"/>
</g>
<rect x="84.80" y="595.60" width="63.70" height="29.50" fill="none" stroke="#222" stroke-width="1.2" />
<defs><clipPath id="c12"><rect x="84.80" y="628.30" width="63.70" height="20.90"/></clipPath></defs>
<g clip-path="url(#c12)">
<defs><linearGradient id="bg12" x1="0" x2="0" y1="0" y2="1"><stop offset="0" stop-color="#e4e4e4"/><stop offset="1" stop-color="#c6c6c6"/></linearGradient></defs>
<rect x="84.80" y="628.30" width="63.70" height="20.90" fill="url(#bg12)" stroke="none" stroke-width="1" />
<rect x="89.00" y="628.30" width="13.00" height="20.90" fill="#999" opacity="0.18" filter="url(#bl3)"/>
<rect x="103.00" y="628.30" width="13.00" height="20.90" fill="#999" opacity="0.18" filter="url(#bl3)"/>
<rect x="117.50" y="628.30" width="13.00" height="20.90" fill="#999" opacity="0.18" filter="url(#bl3)"/>
<rect x="132.80" y="628.30" width="13.00" height="20.90" fill="#999" opacity="0.18" filter="url(#bl3)"/>
<rect x="88.75" y="637.25" width="13.50" height="6.10" rx="3.05" fill="#333" opacity="0.35" filter="url(#bl2)"/>
<rect x="89.25" y="638.00" width="12.50" height="3.60" rx="1.80" fill="#000" opacity="0.97" filter="url(#bl1)"/>
<rect x="102.05" y="637.45" width="14.50" height="6.10" rx="3.05" fill="#333" opacity="0.35" filter="url(#bl2)"/>
<rect x="102.55" y="638.20" width="13.50" height="3.60" rx="1.80" fill="#000" opacity="0.95" filter="url(#bl1)"/>
<rect x="116.50" y="637.45" width="15.00" height="6.10" rx="3.05" fill="#333" opacity="0.35" filter="url(#bl2)"/>
<rect x="117.00" y="638.20" width="14.00" height="3.60" rx="1.80" fill="#000" opacity="0.95" filter="url(#bl1)"/>
<rect x="131.50" y="637.65" width="15.00" height="6.10" rx="3.05" fill="#333" opacity="0.35" filter="url(#bl2)"/>
<rect x="132.00" y="638.40" width="14.00" height="3.60" rx="1.80" fill="#000" opacity="0.97" filter="url(#bl1)"/>
</g>
<rect x="84.80" y="628.30" width="63.70" height="20.90" fill="none" stroke="#222" stroke-width="1.2" />
<text x="80.20" y="586.40" font-size="9.0" text-anchor="end" fill="#231f20" font-weight="normal" font-family="Liberation Sans" >BRCA1</text>
<text x="80.20" y="609.50" font-size="9.0" text-anchor="end" fill="#231f20" font-weight="normal" font-family="Liberation Sans" >OFD1</text>
<text x="80.20" y="639.20" font-size="9.0" text-anchor="end" fill="#231f20" font-weight="normal" font-family="Liberation Sans" >β-Actin</text>
<line x1="149.00" y1="588.50" x2="157.00" y2="588.50" stroke="#222" stroke-width="1.2" />
<text x="159.00" y="592.50" font-size="10.2" text-anchor="start" fill="#231f20" font-weight="normal" font-family="Liberation Sans" >250</text>
<line x1="149.00" y1="619.70" x2="157.00" y2="619.70" stroke="#222" stroke-width="1.2" />
<text x="159.00" y="623.70" font-size="10.2" text-anchor="start" fill="#231f20" font-weight="normal" font-family="Liberation Sans" >130</text>
<line x1="149.00" y1="644.80" x2="157.00" y2="644.80" stroke="#222" stroke-width="1.2" />
<text x="159.00" y="648.80" font-size="10.2" text-anchor="start" fill="#231f20" font-weight="normal" font-family="Liberation Sans" >40</text>
<text x="79.90" y="661.80" font-size="8.9" text-anchor="end" fill="#231f20" font-weight="normal" font-family="Liberation Sans" >BRCA1/β-Actin</text>
<text x="82.20" y="661.80" font-size="9.3" text-anchor="start" fill="#231f20" font-weight="normal" font-family="Liberation Sans" >1.0</text>
<text x="99.00" y="661.80" font-size="9.3" text-anchor="start" fill="#231f20" font-weight="normal" font-family="Liberation Sans" >0.29</text>
<text x="118.80" y="661.80" font-size="9.3" text-anchor="start" fill="#231f20" font-weight="normal" font-family="Liberation Sans" >0.42</text>
<text x="138.20" y="661.80" font-size="9.3" text-anchor="start" fill="#231f20" font-weight="normal" font-family="Liberation Sans" >0.63</text>
<text x="250.70" y="533.90" font-size="12.5" text-anchor="start" fill="#231f20" font-weight="bold" font-family="Liberation Sans" >l</text>
<text x="339.60" y="534.60" font-size="8.9" text-anchor="middle" fill="#231f20" font-weight="normal" font-family="Liberation Sans" >MIA PaCa2</text>
<line x1="309.10" y1="537.80" x2="374.60" y2="537.80" stroke="#555" stroke-width="1.0" />
<text x="304.20" y="545.50" font-size="9.0" text-anchor="end" fill="#231f20" font-weight="normal" font-family="Liberation Sans" >shOFD1</text>
<text x="304.20" y="557.90" font-size="9.0" text-anchor="end" fill="#231f20" font-weight="normal" font-family="Liberation Sans" >Flag-OFD1</text>
<text x="311.20" y="546.00" font-size="9.0" text-anchor="middle" fill="#231f20" font-weight="normal" font-family="Liberation Sans" >-</text>
<text x="328.00" y="546.00" font-size="9.0" text-anchor="middle" fill="#231f20" font-weight="normal" font-family="Liberation Sans" >+</text>
<text x="346.80" y="546.00" font-size="9.0" text-anchor="middle" fill="#231f20" font-weight="normal" font-family="Liberation Sans" >-</text>
<text x="365.20" y="546.00" font-size="9.0" text-anchor="middle" fill="#231f20" font-weight="normal" font-family="Liberation Sans" >+</text>
<text x="311.20" y="557.80" font-size="9.0" text-anchor="middle" fill="#231f20" font-weight="normal" font-family="Liberation Sans" >-</text>
<text x="328.00" y="557.80" font-size="9.0" text-anchor="middle" fill="#231f20" font-weight="normal" font-family="Liberation Sans" >-</text>
<text x="346.80" y="557.80" font-size="9.0" text-anchor="middle" fill="#231f20" font-weight="normal" font-family="Liberation Sans" >+</text>
<text x="365.20" y="557.80" font-size="9.0" text-anchor="middle" fill="#231f20" font-weight="normal" font-family="Liberation Sans" >+</text>
<text x="379.90" y="555.40" font-size="8.0" fill="#231f20" font-family="Liberation Sans">MW<tspan dx="3.60">(</tspan><tspan dx="2.80">KD</tspan><tspan dx="2.40">)</tspan></text>
<defs><clipPath id="c13"><rect x="303.30" y="560.60" width="70.30" height="26.20"/></clipPath></defs>
<g clip-path="url(#c13)">
<rect x="303.30" y="560.60" width="70.30" height="26.20" fill="#d8d8d8" stroke="none" stroke-width="1" />
<rect x="304.50" y="560.60" width="15.00" height="26.20" fill="#999" opacity="0.18" filter="url(#bl3)"/>
<rect x="321.00" y="560.60" width="15.00" height="26.20" fill="#999" opacity="0.18" filter="url(#bl3)"/>
<rect x="339.00" y="560.60" width="15.00" height="26.20" fill="#999" opacity="0.18" filter="url(#bl3)"/>
<rect x="355.00" y="560.60" width="15.00" height="26.20" fill="#999" opacity="0.18" filter="url(#bl3)"/>
<rect x="305.50" y="572.50" width="13.00" height="6.00" rx="3.00" fill="#444" opacity="0.45" filter="url(#bl2)"/>
<rect x="338.50" y="568.30" width="16.00" height="14.00" rx="7.00" fill="#333" opacity="0.5" filter="url(#bl2)"/>
<rect x="339.50" y="570.30" width="14.00" height="5.00" rx="2.50" fill="#000" opacity="0.95" filter="url(#bl1)"/>
<rect x="354.50" y="567.20" width="16.00" height="13.60" rx="6.80" fill="#333" opacity="0.5" filter="url(#bl2)"/>
<rect x="355.50" y="569.20" width="14.00" height="4.60" rx="2.30" fill="#000" opacity="0.92" filter="url(#bl1)"/>
</g>
<rect x="303.30" y="560.60" width="70.30" height="26.20" fill="none" stroke="#222" stroke-width="1.2" />
<defs><clipPath id="c14"><rect x="303.30" y="591.00" width="70.30" height="17.80"/></clipPath></defs>
<g clip-path="url(#c14)">
<rect x="303.30" y="591.00" width="70.30" height="17.80" fill="#d6d6d6" stroke="none" stroke-width="1" />
<rect x="304.50" y="591.00" width="15.00" height="17.80" fill="#999" opacity="0.18" filter="url(#bl3)"/>
<rect x="321.00" y="591.00" width="15.00" height="17.80" fill="#999" opacity="0.18" filter="url(#bl3)"/>
<rect x="339.00" y="591.00" width="15.00" height="17.80" fill="#999" opacity="0.18" filter="url(#bl3)"/>
<rect x="355.00" y="591.00" width="15.00" height="17.80" fill="#999" opacity="0.18" filter="url(#bl3)"/>
<rect x="339.50" y="594.80" width="14.00" height="9.00" rx="4.50" fill="#333" opacity="0.7" filter="url(#bl2)"/>
<rect x="355.50" y="594.80" width="14.00" height="9.00" rx="4.50" fill="#333" opacity="0.7" filter="url(#bl2)"/>
</g>
<rect x="303.30" y="591.00" width="70.30" height="17.80" fill="none" stroke="#222" stroke-width="1.2" />
<defs><clipPath id="c15"><rect x="303.30" y="610.90" width="70.30" height="18.20"/></clipPath></defs>
<g clip-path="url(#c15)">
<rect x="303.30" y="610.90" width="70.30" height="18.20" fill="#d2d2d2" stroke="none" stroke-width="1" />
<rect x="306.00" y="621.20" width="12.00" height="2.40" rx="1.20" fill="#000" opacity="0.75" filter="url(#bl1)"/>
<rect x="323.50" y="621.20" width="9.00" height="2.40" rx="1.20" fill="#000" opacity="0.5" filter="url(#bl1)"/>
<rect x="339.00" y="618.90" width="15.00" height="6.20" rx="3.10" fill="#333" opacity="0.3" filter="url(#bl2)"/>
<rect x="340.00" y="620.40" width="13.00" height="3.20" rx="1.60" fill="#000" opacity="0.95" filter="url(#bl1)"/>
<rect x="354.50" y="618.00" width="16.00" height="7.00" rx="3.50" fill="#333" opacity="0.3" filter="url(#bl2)"/>
<rect x="355.50" y="619.50" width="14.00" height="4.00" rx="2.00" fill="#000" opacity="1.0" filter="url(#bl1)"/>
</g>
<rect x="303.30" y="610.90" width="70.30" height="18.20" fill="none" stroke="#222" stroke-width="1.2" />
<defs><clipPath id="c16"><rect x="303.30" y="633.90" width="70.30" height="19.30"/></clipPath></defs>
<g clip-path="url(#c16)">
<rect x="303.30" y="633.90" width="70.30" height="19.30" fill="#d0d0d0" stroke="none" stroke-width="1" />
<rect x="304.00" y="641.90" width="16.00" height="7.00" rx="3.50" fill="#000" opacity="1.0" filter="url(#bl1)"/>
<rect x="321.00" y="641.90" width="16.00" height="7.00" rx="3.50" fill="#000" opacity="1.0" filter="url(#bl1)"/>
<rect x="338.00" y="641.50" width="17.00" height="7.00" rx="3.50" fill="#000" opacity="1.0" filter="url(#bl1)"/>
<rect x="354.50" y="640.50" width="17.00" height="7.00" rx="3.50" fill="#000" opacity="1.0" filter="url(#bl1)"/>
</g>
<rect x="303.30" y="633.90" width="70.30" height="19.30" fill="none" stroke="#222" stroke-width="1.2" />
<text x="297.00" y="578.50" font-size="9.0" text-anchor="end" fill="#231f20" font-weight="normal" font-family="Liberation Sans" >OFD1</text>
<text x="297.00" y="602.20" font-size="9.0" text-anchor="end" fill="#231f20" font-weight="normal" font-family="Liberation Sans" >anti-Flag</text>
<text x="297.00" y="621.40" font-size="9.0" text-anchor="end" fill="#231f20" font-weight="normal" font-family="Liberation Sans" >BRCA1</text>
<text x="297.00" y="644.50" font-size="9.0" text-anchor="end" fill="#231f20" font-weight="normal" font-family="Liberation Sans" >β-Actin</text>
<text x="297.30" y="661.60" font-size="8.8" text-anchor="end" fill="#231f20" font-weight="normal" font-family="Liberation Sans" >BRCA1/β-Actin</text>
<text x="305.20" y="661.60" font-size="8.8" text-anchor="middle" fill="#231f20" font-weight="normal" font-family="Liberation Sans" >1.0</text>
<text x="326.60" y="661.60" font-size="8.8" text-anchor="middle" fill="#231f20" font-weight="normal" font-family="Liberation Sans" >0.41</text>
<text x="346.00" y="661.60" font-size="8.8" text-anchor="middle" fill="#231f20" font-weight="normal" font-family="Liberation Sans" >1.59</text>
<text x="365.00" y="661.60" font-size="8.8" text-anchor="middle" fill="#231f20" font-weight="normal" font-family="Liberation Sans" >2.53</text>
<text x="375.70" y="567.00" font-size="9.2" text-anchor="start" fill="#231f20" font-weight="normal" font-family="Liberation Sans" >150</text>
<line x1="372.20" y1="563.70" x2="374.70" y2="563.70" stroke="#333" stroke-width="0.9" />
<text x="375.70" y="599.40" font-size="9.2" text-anchor="start" fill="#231f20" font-weight="normal" font-family="Liberation Sans" >150</text>
<line x1="372.20" y1="596.10" x2="374.70" y2="596.10" stroke="#333" stroke-width="0.9" />
<text x="375.70" y="630.80" font-size="9.2" text-anchor="start" fill="#231f20" font-weight="normal" font-family="Liberation Sans" >250</text>
<line x1="372.20" y1="627.50" x2="374.70" y2="627.50" stroke="#333" stroke-width="0.9" />
<text x="375.70" y="641.70" font-size="9.2" text-anchor="start" fill="#231f20" font-weight="normal" font-family="Liberation Sans" >50</text>
<line x1="372.20" y1="638.40" x2="374.70" y2="638.40" stroke="#333" stroke-width="0.9" />
<text x="475.50" y="534.00" font-size="12.5" text-anchor="start" fill="#231f20" font-weight="bold" font-family="Liberation Sans" >m</text>
<text x="555.30" y="543.10" font-size="8.6" text-anchor="middle" fill="#231f20" font-weight="normal" font-family="Liberation Sans" >SW1990</text>
<line x1="521.80" y1="552.20" x2="585.10" y2="552.20" stroke="#444" stroke-width="1.0" />
<text x="508.60" y="562.90" font-size="8.8" text-anchor="end" fill="#231f20" font-weight="normal" font-family="Liberation Sans" >GFP-OFD1</text>
<text x="509.50" y="577.50" font-size="8.8" text-anchor="end" fill="#231f20" font-weight="normal" font-family="Liberation Sans" >si-OFD1</text>
<text x="526.00" y="562.20" font-size="8.6" text-anchor="middle" fill="#231f20" font-weight="normal" font-family="Liberation Sans" >-</text>
<text x="540.60" y="562.20" font-size="8.6" text-anchor="middle" fill="#231f20" font-weight="normal" font-family="Liberation Sans" >-</text>
<text x="556.80" y="562.20" font-size="8.6" text-anchor="middle" fill="#231f20" font-weight="normal" font-family="Liberation Sans" >+</text>
<text x="575.00" y="562.20" font-size="8.6" text-anchor="middle" fill="#231f20" font-weight="normal" font-family="Liberation Sans" >+</text>
<text x="526.00" y="577.40" font-size="8.6" text-anchor="middle" fill="#231f20" font-weight="normal" font-family="Liberation Sans" >-</text>
<text x="540.60" y="577.40" font-size="8.6" text-anchor="middle" fill="#231f20" font-weight="normal" font-family="Liberation Sans" >+</text>
<text x="556.80" y="577.40" font-size="8.6" text-anchor="middle" fill="#231f20" font-weight="normal" font-family="Liberation Sans" >-</text>
<text x="575.00" y="577.40" font-size="8.6" text-anchor="middle" fill="#231f20" font-weight="normal" font-family="Liberation Sans" >+</text>
<text x="586.80" y="577.40" font-size="8.0" fill="#231f20" font-family="Liberation Sans">MW<tspan dx="3.60">(</tspan><tspan dx="2.80">KD</tspan><tspan dx="2.40">)</tspan></text>
<defs><clipPath id="c17"><rect x="516.10" y="582.00" width="70.50" height="17.40"/></clipPath></defs>
<g clip-path="url(#c17)">
<rect x="516.10" y="582.00" width="70.50" height="17.40" fill="#dadada" stroke="none" stroke-width="1" />
<rect x="520.70" y="582.00" width="14.00" height="17.40" fill="#999" opacity="0.18" filter="url(#bl3)"/>
<rect x="536.60" y="582.00" width="14.00" height="17.40" fill="#999" opacity="0.18" filter="url(#bl3)"/>
<rect x="553.00" y="582.00" width="14.00" height="17.40" fill="#999" opacity="0.18" filter="url(#bl3)"/>
<rect x="569.70" y="582.00" width="14.00" height="17.40" fill="#999" opacity="0.18" filter="url(#bl3)"/>
<rect x="521.45" y="589.45" width="12.50" height="4.30" rx="2.15" fill="#333" opacity="0.3" filter="url(#bl2)"/>
<rect x="521.95" y="589.65" width="11.50" height="2.30" rx="1.15" fill="#000" opacity="1.0" filter="url(#bl1)"/>
<rect x="537.60" y="590.30" width="12.00" height="5.20" rx="2.60" fill="#333" opacity="0.3" filter="url(#bl2)"/>
<rect x="538.10" y="590.30" width="11.00" height="2.20" rx="1.10" fill="#000" opacity="0.85" filter="url(#bl1)"/>
<rect x="554.25" y="589.65" width="11.50" height="4.30" rx="2.15" fill="#333" opacity="0.3" filter="url(#bl2)"/>
<rect x="554.75" y="589.85" width="10.50" height="2.30" rx="1.15" fill="#000" opacity="0.95" filter="url(#bl1)"/>
<rect x="570.95" y="589.40" width="11.50" height="4.40" rx="2.20" fill="#333" opacity="0.3" filter="url(#bl2)"/>
<rect x="571.45" y="589.60" width="10.50" height="2.40" rx="1.20" fill="#000" opacity="1.0" filter="url(#bl1)"/>
</g>
<rect x="516.10" y="582.00" width="70.50" height="17.40" fill="none" stroke="#222" stroke-width="1.2" />
<defs><clipPath id="c18"><rect x="516.10" y="602.20" width="70.50" height="27.10"/></clipPath></defs>
<g clip-path="url(#c18)">
<rect x="516.10" y="602.20" width="70.50" height="27.10" fill="#e0e0e0" stroke="none" stroke-width="1" />
<rect x="520.70" y="602.20" width="14.00" height="27.10" fill="#999" opacity="0.18" filter="url(#bl3)"/>
<rect x="536.60" y="602.20" width="14.00" height="27.10" fill="#999" opacity="0.18" filter="url(#bl3)"/>
<rect x="553.00" y="602.20" width="14.00" height="27.10" fill="#999" opacity="0.18" filter="url(#bl3)"/>
<rect x="569.70" y="602.20" width="14.00" height="27.10" fill="#999" opacity="0.18" filter="url(#bl3)"/>
<rect x="553.75" y="605.90" width="13.50" height="8.00" rx="4.00" fill="#333" opacity="0.45" filter="url(#bl2)"/>
<rect x="554.75" y="607.40" width="11.50" height="4.00" rx="2.00" fill="#000" opacity="1.0" filter="url(#bl1)"/>
<rect x="568.75" y="603.00" width="14.50" height="11.00" rx="5.50" fill="#333" opacity="0.45" filter="url(#bl2)"/>
<rect x="569.75" y="604.50" width="12.50" height="8.00" rx="4.00" fill="#000" opacity="1.0" filter="url(#bl1)"/>
<rect x="522.50" y="619.50" width="11.00" height="5.00" rx="2.50" fill="#000" opacity="0.22" filter="url(#bl2)"/>
<rect x="538.50" y="619.50" width="11.00" height="5.00" rx="2.50" fill="#000" opacity="0.14" filter="url(#bl2)"/>
<rect x="554.50" y="619.50" width="11.00" height="5.00" rx="2.50" fill="#000" opacity="0.14" filter="url(#bl2)"/>
<rect x="522.50" y="608.75" width="11.00" height="2.50" rx="1.25" fill="#000" opacity="0.12" filter="url(#bl2)"/>
<rect x="538.50" y="608.75" width="11.00" height="2.50" rx="1.25" fill="#000" opacity="0.1" filter="url(#bl2)"/>
</g>
<rect x="516.10" y="602.20" width="70.50" height="27.10" fill="none" stroke="#222" stroke-width="1.2" />
<defs><clipPath id="c19"><rect x="516.10" y="631.60" width="70.50" height="18.50"/></clipPath></defs>
<g clip-path="url(#c19)">
<rect x="516.10" y="631.60" width="70.50" height="18.50" fill="#d8d8d8" stroke="none" stroke-width="1" />
<rect x="520.70" y="631.60" width="14.00" height="18.50" fill="#999" opacity="0.18" filter="url(#bl3)"/>
<rect x="536.60" y="631.60" width="14.00" height="18.50" fill="#999" opacity="0.18" filter="url(#bl3)"/>
<rect x="553.00" y="631.60" width="14.00" height="18.50" fill="#999" opacity="0.18" filter="url(#bl3)"/>
<rect x="569.70" y="631.60" width="14.00" height="18.50" fill="#999" opacity="0.18" filter="url(#bl3)"/>
<rect x="522.00" y="638.65" width="14.00" height="5.50" rx="2.75" fill="#333" opacity="0.35" filter="url(#bl2)"/>
<rect x="523.00" y="639.90" width="12.00" height="3.00" rx="1.50" fill="#000" opacity="1.0" filter="url(#bl1)"/>
<rect x="536.90" y="638.65" width="14.00" height="5.50" rx="2.75" fill="#333" opacity="0.35" filter="url(#bl2)"/>
<rect x="537.90" y="639.90" width="12.00" height="3.00" rx="1.50" fill="#000" opacity="0.95" filter="url(#bl1)"/>
<rect x="552.30" y="638.85" width="13.40" height="5.50" rx="2.75" fill="#333" opacity="0.35" filter="url(#bl2)"/>
<rect x="553.30" y="640.10" width="11.40" height="3.00" rx="1.50" fill="#000" opacity="0.95" filter="url(#bl1)"/>
<rect x="568.45" y="638.85" width="14.50" height="5.50" rx="2.75" fill="#333" opacity="0.35" filter="url(#bl2)"/>
<rect x="569.45" y="640.10" width="12.50" height="3.00" rx="1.50" fill="#000" opacity="1.0" filter="url(#bl1)"/>
</g>
<rect x="516.10" y="631.60" width="70.50" height="18.50" fill="none" stroke="#222" stroke-width="1.2" />
<text x="511.20" y="593.80" font-size="8.8" text-anchor="end" fill="#231f20" font-weight="normal" font-family="Liberation Sans" >BRCA1</text>
<text x="510.70" y="617.00" font-size="8.8" text-anchor="end" fill="#231f20" font-weight="normal" font-family="Liberation Sans" >OFD1</text>
<text x="511.20" y="642.80" font-size="8.8" text-anchor="end" fill="#231f20" font-weight="normal" font-family="Liberation Sans" >β-Actin</text>
<text x="507.70" y="660.80" font-size="8.8" text-anchor="end" fill="#231f20" font-weight="normal" font-family="Liberation Sans" >BRCA1/β-Actin</text>
<text x="519.40" y="660.80" font-size="8.7" text-anchor="middle" fill="#231f20" font-weight="normal" font-family="Liberation Sans" >1.0</text>
<text x="538.60" y="660.80" font-size="8.7" text-anchor="middle" fill="#231f20" font-weight="normal" font-family="Liberation Sans" >0.41</text>
<text x="559.40" y="660.80" font-size="8.7" text-anchor="middle" fill="#231f20" font-weight="normal" font-family="Liberation Sans" >1.53</text>
<text x="578.80" y="660.80" font-size="8.7" text-anchor="middle" fill="#231f20" font-weight="normal" font-family="Liberation Sans" >1.68</text>
<text x="588.90" y="591.00" font-size="8.6" text-anchor="start" fill="#231f20" font-weight="normal" font-family="Liberation Sans" >250</text>
<line x1="585.40" y1="587.70" x2="587.90" y2="587.70" stroke="#333" stroke-width="0.9" />
<text x="588.90" y="614.00" font-size="8.6" text-anchor="start" fill="#231f20" font-weight="normal" font-family="Liberation Sans" >150</text>
<line x1="585.40" y1="610.70" x2="587.90" y2="610.70" stroke="#333" stroke-width="0.9" />
<text x="588.90" y="638.20" font-size="8.6" text-anchor="start" fill="#231f20" font-weight="normal" font-family="Liberation Sans" >50</text>
<line x1="585.40" y1="634.90" x2="587.90" y2="634.90" stroke="#333" stroke-width="0.9" />
<path d="M610.00,609.80 l5,-3.3 v2.3 h4.70 v2 h-4.70 v2.3 z" fill="#111"/>
<text x="622.80" y="613.00" font-size="8.6" text-anchor="start" fill="#231f20" font-weight="normal" font-family="Liberation Sans" >GFP-OFD1</text>
<path d="M611.30,622.40 l5,-3.3 v2.3 h4.70 v2 h-4.70 v2.3 z" fill="#111"/>
<text x="624.50" y="625.60" font-size="8.6" text-anchor="start" fill="#231f20" font-weight="normal" font-family="Liberation Sans" >OFD1</text>
</svg></body></html>
